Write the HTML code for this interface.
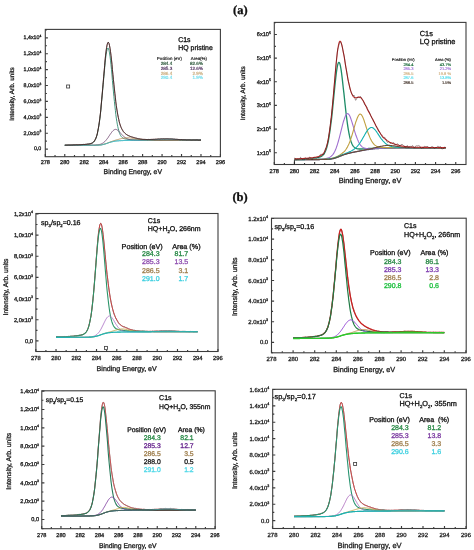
<!DOCTYPE html>
<html><head><meta charset="utf-8"><style>
html,body{margin:0;padding:0;background:#fff;width:474px;height:550px;overflow:hidden}
svg{position:absolute;left:0;top:0;filter:blur(0.35px)}
text{stroke-width:0.3px;text-rendering:geometricPrecision}
</style></head><body>
<svg width="474" height="550" viewBox="0 0 474 550">
<g><path d="M64.8,145.4 65.2,145.4 65.7,145.4 66.2,145.4 66.7,145.4 67.2,145.4 67.7,145.4 68.2,145.4 68.7,145.4 69.1,145.4 69.6,145.4 70.1,145.4 70.6,145.4 71.1,145.4 71.6,145.4 72.1,145.4 72.5,145.4 73.0,145.4 73.5,145.4 74.0,145.4 74.5,145.4 75.0,145.4 75.5,145.4 75.9,145.4 76.4,145.4 76.9,145.4 77.4,145.4 77.9,145.4 78.4,145.4 78.9,145.4 79.4,145.4 79.8,145.4 80.3,145.4 80.8,145.4 81.3,145.4 81.8,145.4 82.3,145.4 82.8,145.4 83.2,145.4 83.7,145.4 84.2,145.4 84.7,145.4 85.2,145.4 85.7,145.4 86.2,145.4 86.7,145.4 87.1,145.4 87.6,145.3 88.1,145.3 88.6,145.3 89.1,145.3 89.6,145.3 90.1,145.3 90.5,145.3 91.0,145.3 91.5,145.3 92.0,145.3 92.5,145.3 93.0,145.3 93.5,145.3 94.0,145.3 94.4,145.3 94.9,145.3 95.4,145.3 95.9,145.3 96.4,145.2 96.9,145.2 97.4,145.2 97.8,145.2 98.3,145.2 98.8,145.1 99.3,145.1 99.8,145.0 100.3,145.0 100.8,144.9 101.2,144.9 101.7,144.8 102.2,144.7 102.7,144.6 103.2,144.5 103.7,144.4 104.2,144.3 104.7,144.1 105.1,144.0 105.6,143.8 106.1,143.7 106.6,143.5 107.1,143.4 107.6,143.2 108.1,143.0 108.5,142.8 109.0,142.7 109.5,142.5 110.0,142.4 110.5,142.2 111.0,142.1 111.5,141.9 112.0,141.8 112.4,141.7 112.9,141.6 113.4,141.5 113.9,141.4 114.4,141.3 114.9,141.2 115.4,141.1 115.8,141.0 116.3,141.0 116.8,140.9 117.3,140.9 117.8,140.8 118.3,140.8 118.8,140.8 119.2,140.7 119.7,140.7 120.2,140.7 120.7,140.7 121.2,140.6 121.7,140.6 122.2,140.6 122.7,140.6 123.1,140.6 123.6,140.5 124.1,140.5 124.6,140.5 125.1,140.5 125.6,140.5 126.1,140.5 126.5,140.5 127.0,140.5 127.5,140.5 128.0,140.5 128.5,140.4 129.0,140.4 129.5,140.4 130.0,140.4 130.4,140.4 130.9,140.4 131.4,140.4 131.9,140.4 132.4,140.4 132.9,140.4 133.4,140.4 133.8,140.4 134.3,140.4 134.8,140.4 135.3,140.4 135.8,140.4 136.3,140.4 136.8,140.4 137.2,140.3 137.7,140.3 138.2,140.3 138.7,140.3 139.2,140.3 139.7,140.3 140.2,140.3 140.7,140.3 141.1,140.3 141.6,140.3 142.1,140.3 142.6,140.3 143.1,140.3 143.6,140.3 144.1,140.3 144.5,140.3 145.0,140.3 145.5,140.3 146.0,140.3 146.5,140.3 147.0,140.3 147.5,140.3 148.0,140.3 148.4,140.3 148.9,140.3 149.4,140.3 149.9,140.3 150.4,140.3 150.9,140.3 151.4,140.3 151.8,140.3 152.3,140.3 152.8,140.3 153.3,140.3 153.8,140.3 154.3,140.3 154.8,140.3 155.2,140.3 155.7,140.3 156.2,140.3 156.7,140.3 157.2,140.3 157.7,140.3 158.2,140.3 158.7,140.3 159.1,140.3 159.6,140.3 160.1,140.3 160.6,140.3 161.1,140.3 161.6,140.3 162.1,140.3 162.5,140.3 163.0,140.2 163.5,140.2 164.0,140.2 164.5,140.2 165.0,140.2 165.5,140.2 166.0,140.2 166.4,140.2 166.9,140.2 167.4,140.2 167.9,140.2 168.4,140.2 168.9,140.2 169.4,140.2 169.8,140.2 170.3,140.2 170.8,140.2 171.3,140.2 171.8,140.2 172.3,140.2 172.8,140.2 173.2,140.2 173.7,140.2 174.2,140.2 174.7,140.2 175.2,140.2 175.7,140.2 176.2,140.2 176.7,140.2 177.1,140.2 177.6,140.2 178.1,140.2 178.6,140.2 179.1,140.2 179.6,140.2 180.1,140.2 180.5,140.2 181.0,140.2 181.5,140.2 182.0,140.2 182.5,140.2 183.0,140.2 183.5,140.2 184.0,140.2 184.4,140.2 184.9,140.2 185.4,140.2 185.9,140.2 186.4,140.2 186.9,140.2 187.4,140.2 187.8,140.2 188.3,140.2 188.8,140.2 189.3,140.2 189.8,140.2 190.3,140.2 190.8,140.2 191.3,140.2 191.7,140.2 192.2,140.2 192.7,140.2 193.2,140.2 193.7,140.2 194.2,140.2 194.7,140.2 195.1,140.2 195.6,140.2 196.1,140.2 196.6,140.2 197.1,140.2 197.6,140.2 198.1,140.2 198.5,140.2 199.0,140.2 199.5,140.2 200.0,140.2 200.5,140.2 201.0,140.2" fill="none" stroke="#1a9a9a" stroke-width="0.8"/><path d="M64.8,145.2 65.2,145.2 65.7,145.1 66.2,145.1 66.7,145.1 67.2,145.1 67.7,145.1 68.2,145.1 68.7,145.1 69.1,145.1 69.6,145.1 70.1,145.1 70.6,145.1 71.1,145.1 71.6,145.1 72.1,145.0 72.5,145.0 73.0,145.0 73.5,145.0 74.0,145.0 74.5,145.0 75.0,145.0 75.5,145.0 75.9,144.9 76.4,144.9 76.9,144.9 77.4,144.9 77.9,144.9 78.4,144.9 78.9,144.9 79.4,144.8 79.8,144.8 80.3,144.8 80.8,144.8 81.3,144.8 81.8,144.7 82.3,144.7 82.8,144.7 83.2,144.7 83.7,144.6 84.2,144.6 84.7,144.6 85.2,144.5 85.7,144.5 86.2,144.4 86.7,144.4 87.1,144.4 87.6,144.3 88.1,144.2 88.6,144.2 89.1,144.1 89.6,144.0 90.1,143.9 90.5,143.8 91.0,143.7 91.5,143.5 92.0,143.3 92.5,143.0 93.0,142.7 93.5,142.3 94.0,141.8 94.4,141.2 94.9,140.4 95.4,139.5 95.9,138.4 96.4,137.1 96.9,135.6 97.4,133.7 97.8,131.5 98.3,129.0 98.8,126.1 99.3,122.9 99.8,119.2 100.3,115.2 100.8,110.7 101.2,105.9 101.7,100.8 102.2,95.5 102.7,89.9 103.2,84.3 103.7,78.7 104.2,73.1 104.7,67.8 105.1,62.9 105.6,58.5 106.1,54.7 106.6,51.7 107.1,49.5 107.6,48.3 108.1,48.0 108.5,48.7 109.0,50.4 109.5,52.9 110.0,56.2 110.5,60.2 111.0,64.8 111.5,69.7 112.0,75.0 112.4,80.3 112.9,85.8 113.4,91.1 113.9,96.4 114.4,101.4 114.9,106.1 115.4,110.4 115.8,114.4 116.3,118.1 116.8,121.3 117.3,124.2 117.8,126.7 118.3,128.9 118.8,130.7 119.2,132.3 119.7,133.6 120.2,134.7 120.7,135.7 121.2,136.4 121.7,137.0 122.2,137.5 122.7,137.9 123.1,138.2 123.6,138.5 124.1,138.7 124.6,138.8 125.1,139.0 125.6,139.1 126.1,139.2 126.5,139.2 127.0,139.3 127.5,139.3 128.0,139.4 128.5,139.4 129.0,139.5 129.5,139.5 130.0,139.5 130.4,139.6 130.9,139.6 131.4,139.6 131.9,139.7 132.4,139.7 132.9,139.7 133.4,139.7 133.8,139.7 134.3,139.8 134.8,139.8 135.3,139.8 135.8,139.8 136.3,139.8 136.8,139.8 137.2,139.8 137.7,139.9 138.2,139.9 138.7,139.9 139.2,139.9 139.7,139.9 140.2,139.9 140.7,139.9 141.1,139.9 141.6,139.9 142.1,139.9 142.6,140.0 143.1,140.0 143.6,140.0 144.1,140.0 144.5,140.0 145.0,140.0 145.5,140.0 146.0,140.0 146.5,140.0 147.0,140.0 147.5,140.0 148.0,140.0 148.4,140.0 148.9,140.0 149.4,140.0 149.9,140.0 150.4,140.1 150.9,140.1 151.4,140.1 151.8,140.1 152.3,140.1 152.8,140.1 153.3,140.1 153.8,140.1 154.3,140.1 154.8,140.1 155.2,140.1 155.7,140.1 156.2,140.1 156.7,140.1 157.2,140.1 157.7,140.1 158.2,140.1 158.7,140.1 159.1,140.1 159.6,140.1 160.1,140.1 160.6,140.1 161.1,140.1 161.6,140.1 162.1,140.1 162.5,140.1 163.0,140.1 163.5,140.1 164.0,140.1 164.5,140.1 165.0,140.1 165.5,140.1 166.0,140.1 166.4,140.1 166.9,140.1 167.4,140.1 167.9,140.1 168.4,140.1 168.9,140.1 169.4,140.1 169.8,140.1 170.3,140.1 170.8,140.1 171.3,140.1 171.8,140.1 172.3,140.1 172.8,140.1 173.2,140.1 173.7,140.1 174.2,140.1 174.7,140.1 175.2,140.1 175.7,140.1 176.2,140.1 176.7,140.1 177.1,140.1 177.6,140.1 178.1,140.1 178.6,140.1 179.1,140.1 179.6,140.1 180.1,140.1 180.5,140.1 181.0,140.1 181.5,140.1 182.0,140.1 182.5,140.1 183.0,140.1 183.5,140.1 184.0,140.1 184.4,140.1 184.9,140.1 185.4,140.1 185.9,140.1 186.4,140.1 186.9,140.1 187.4,140.1 187.8,140.1 188.3,140.1 188.8,140.1 189.3,140.1 189.8,140.1 190.3,140.1 190.8,140.1 191.3,140.1 191.7,140.1 192.2,140.1 192.7,140.1 193.2,140.1 193.7,140.1 194.2,140.1 194.7,140.1 195.1,140.1 195.6,140.1 196.1,140.1 196.6,140.1 197.1,140.1 197.6,140.1 198.1,140.1 198.5,140.1 199.0,140.1 199.5,140.1 200.0,140.1 200.5,140.1 201.0,140.1" fill="none" stroke="#2f8a70" stroke-width="0.9" stroke-linejoin="round"/><path d="M64.8,145.4 65.2,145.4 65.7,145.4 66.2,145.4 66.7,145.3 67.2,145.3 67.7,145.3 68.2,145.3 68.7,145.3 69.1,145.3 69.6,145.3 70.1,145.3 70.6,145.3 71.1,145.3 71.6,145.3 72.1,145.3 72.5,145.3 73.0,145.3 73.5,145.3 74.0,145.3 74.5,145.3 75.0,145.3 75.5,145.3 75.9,145.3 76.4,145.3 76.9,145.3 77.4,145.3 77.9,145.3 78.4,145.3 78.9,145.3 79.4,145.3 79.8,145.3 80.3,145.3 80.8,145.3 81.3,145.3 81.8,145.3 82.3,145.3 82.8,145.3 83.2,145.3 83.7,145.3 84.2,145.3 84.7,145.2 85.2,145.2 85.7,145.2 86.2,145.2 86.7,145.2 87.1,145.2 87.6,145.2 88.1,145.2 88.6,145.2 89.1,145.2 89.6,145.2 90.1,145.2 90.5,145.2 91.0,145.2 91.5,145.1 92.0,145.1 92.5,145.1 93.0,145.1 93.5,145.1 94.0,145.1 94.4,145.1 94.9,145.0 95.4,145.0 95.9,145.0 96.4,144.9 96.9,144.9 97.4,144.8 97.8,144.8 98.3,144.7 98.8,144.6 99.3,144.5 99.8,144.4 100.3,144.3 100.8,144.1 101.2,143.9 101.7,143.7 102.2,143.5 102.7,143.2 103.2,142.9 103.7,142.5 104.2,142.1 104.7,141.7 105.1,141.2 105.6,140.7 106.1,140.1 106.6,139.5 107.1,138.9 107.6,138.2 108.1,137.6 108.5,136.8 109.0,136.1 109.5,135.4 110.0,134.6 110.5,133.9 111.0,133.2 111.5,132.5 112.0,131.9 112.4,131.3 112.9,130.8 113.4,130.4 113.9,130.0 114.4,129.7 114.9,129.5 115.4,129.4 115.8,129.4 116.3,129.5 116.8,129.7 117.3,130.0 117.8,130.3 118.3,130.7 118.8,131.2 119.2,131.7 119.7,132.2 120.2,132.7 120.7,133.3 121.2,133.8 121.7,134.4 122.2,134.9 122.7,135.4 123.1,135.9 123.6,136.4 124.1,136.8 124.6,137.2 125.1,137.6 125.6,137.9 126.1,138.2 126.5,138.5 127.0,138.7 127.5,138.9 128.0,139.1 128.5,139.3 129.0,139.4 129.5,139.5 130.0,139.6 130.4,139.7 130.9,139.8 131.4,139.9 131.9,139.9 132.4,140.0 132.9,140.0 133.4,140.0 133.8,140.0 134.3,140.1 134.8,140.1 135.3,140.1 135.8,140.1 136.3,140.1 136.8,140.1 137.2,140.1 137.7,140.1 138.2,140.2 138.7,140.2 139.2,140.2 139.7,140.2 140.2,140.2 140.7,140.2 141.1,140.2 141.6,140.2 142.1,140.2 142.6,140.2 143.1,140.2 143.6,140.2 144.1,140.2 144.5,140.2 145.0,140.2 145.5,140.2 146.0,140.2 146.5,140.2 147.0,140.2 147.5,140.2 148.0,140.2 148.4,140.2 148.9,140.2 149.4,140.2 149.9,140.2 150.4,140.2 150.9,140.2 151.4,140.2 151.8,140.2 152.3,140.2 152.8,140.2 153.3,140.2 153.8,140.2 154.3,140.2 154.8,140.2 155.2,140.2 155.7,140.2 156.2,140.2 156.7,140.2 157.2,140.2 157.7,140.2 158.2,140.2 158.7,140.2 159.1,140.2 159.6,140.2 160.1,140.2 160.6,140.2 161.1,140.2 161.6,140.2 162.1,140.2 162.5,140.2 163.0,140.2 163.5,140.2 164.0,140.2 164.5,140.2 165.0,140.2 165.5,140.2 166.0,140.2 166.4,140.2 166.9,140.2 167.4,140.2 167.9,140.2 168.4,140.2 168.9,140.2 169.4,140.2 169.8,140.2 170.3,140.2 170.8,140.2 171.3,140.2 171.8,140.2 172.3,140.2 172.8,140.2 173.2,140.2 173.7,140.2 174.2,140.2 174.7,140.2 175.2,140.2 175.7,140.2 176.2,140.2 176.7,140.2 177.1,140.2 177.6,140.2 178.1,140.2 178.6,140.2 179.1,140.2 179.6,140.2 180.1,140.2 180.5,140.2 181.0,140.2 181.5,140.2 182.0,140.2 182.5,140.2 183.0,140.2 183.5,140.2 184.0,140.2 184.4,140.2 184.9,140.2 185.4,140.2 185.9,140.2 186.4,140.2 186.9,140.2 187.4,140.2 187.8,140.2 188.3,140.2 188.8,140.2 189.3,140.2 189.8,140.2 190.3,140.2 190.8,140.2 191.3,140.2 191.7,140.1 192.2,140.1 192.7,140.1 193.2,140.1 193.7,140.1 194.2,140.1 194.7,140.1 195.1,140.1 195.6,140.1 196.1,140.1 196.6,140.1 197.1,140.1 197.6,140.1 198.1,140.1 198.5,140.1 199.0,140.1 199.5,140.1 200.0,140.1 200.5,140.1 201.0,140.1" fill="none" stroke="#6a3d6a" stroke-width="0.8" stroke-linejoin="round"/><path d="M64.8,145.4 65.2,145.4 65.7,145.4 66.2,145.4 66.7,145.4 67.2,145.4 67.7,145.4 68.2,145.4 68.7,145.4 69.1,145.4 69.6,145.4 70.1,145.4 70.6,145.4 71.1,145.4 71.6,145.4 72.1,145.4 72.5,145.4 73.0,145.4 73.5,145.4 74.0,145.4 74.5,145.4 75.0,145.4 75.5,145.4 75.9,145.4 76.4,145.4 76.9,145.4 77.4,145.4 77.9,145.4 78.4,145.4 78.9,145.4 79.4,145.4 79.8,145.4 80.3,145.4 80.8,145.4 81.3,145.3 81.8,145.3 82.3,145.3 82.8,145.3 83.2,145.3 83.7,145.3 84.2,145.3 84.7,145.3 85.2,145.3 85.7,145.3 86.2,145.3 86.7,145.3 87.1,145.3 87.6,145.3 88.1,145.3 88.6,145.3 89.1,145.3 89.6,145.3 90.1,145.3 90.5,145.3 91.0,145.3 91.5,145.3 92.0,145.3 92.5,145.3 93.0,145.3 93.5,145.3 94.0,145.3 94.4,145.3 94.9,145.2 95.4,145.2 95.9,145.2 96.4,145.2 96.9,145.2 97.4,145.2 97.8,145.1 98.3,145.1 98.8,145.1 99.3,145.0 99.8,145.0 100.3,144.9 100.8,144.9 101.2,144.8 101.7,144.7 102.2,144.6 102.7,144.5 103.2,144.4 103.7,144.3 104.2,144.2 104.7,144.0 105.1,143.9 105.6,143.7 106.1,143.5 106.6,143.4 107.1,143.2 107.6,143.0 108.1,142.8 108.5,142.6 109.0,142.4 109.5,142.2 110.0,142.1 110.5,141.9 111.0,141.7 111.5,141.5 112.0,141.3 112.4,141.2 112.9,141.0 113.4,140.8 113.9,140.7 114.4,140.5 114.9,140.4 115.4,140.2 115.8,140.1 116.3,139.9 116.8,139.8 117.3,139.7 117.8,139.5 118.3,139.4 118.8,139.3 119.2,139.1 119.7,139.0 120.2,138.9 120.7,138.8 121.2,138.6 121.7,138.5 122.2,138.4 122.7,138.3 123.1,138.2 123.6,138.1 124.1,138.1 124.6,138.0 125.1,137.9 125.6,137.9 126.1,137.8 126.5,137.8 127.0,137.8 127.5,137.8 128.0,137.8 128.5,137.8 129.0,137.9 129.5,137.9 130.0,137.9 130.4,138.0 130.9,138.1 131.4,138.1 131.9,138.2 132.4,138.3 132.9,138.4 133.4,138.5 133.8,138.6 134.3,138.7 134.8,138.8 135.3,138.9 135.8,139.0 136.3,139.0 136.8,139.1 137.2,139.2 137.7,139.3 138.2,139.4 138.7,139.5 139.2,139.5 139.7,139.6 140.2,139.7 140.7,139.7 141.1,139.8 141.6,139.8 142.1,139.9 142.6,139.9 143.1,139.9 143.6,140.0 144.1,140.0 144.5,140.0 145.0,140.1 145.5,140.1 146.0,140.1 146.5,140.1 147.0,140.1 147.5,140.2 148.0,140.2 148.4,140.2 148.9,140.2 149.4,140.2 149.9,140.2 150.4,140.2 150.9,140.2 151.4,140.2 151.8,140.2 152.3,140.2 152.8,140.2 153.3,140.2 153.8,140.2 154.3,140.2 154.8,140.2 155.2,140.2 155.7,140.2 156.2,140.2 156.7,140.2 157.2,140.2 157.7,140.2 158.2,140.2 158.7,140.2 159.1,140.2 159.6,140.2 160.1,140.2 160.6,140.2 161.1,140.2 161.6,140.2 162.1,140.2 162.5,140.2 163.0,140.2 163.5,140.2 164.0,140.2 164.5,140.2 165.0,140.2 165.5,140.2 166.0,140.2 166.4,140.2 166.9,140.2 167.4,140.2 167.9,140.2 168.4,140.2 168.9,140.2 169.4,140.2 169.8,140.2 170.3,140.2 170.8,140.2 171.3,140.2 171.8,140.2 172.3,140.2 172.8,140.2 173.2,140.2 173.7,140.2 174.2,140.2 174.7,140.2 175.2,140.2 175.7,140.2 176.2,140.2 176.7,140.2 177.1,140.2 177.6,140.2 178.1,140.2 178.6,140.2 179.1,140.2 179.6,140.2 180.1,140.2 180.5,140.2 181.0,140.2 181.5,140.2 182.0,140.2 182.5,140.2 183.0,140.2 183.5,140.2 184.0,140.2 184.4,140.2 184.9,140.2 185.4,140.2 185.9,140.2 186.4,140.2 186.9,140.2 187.4,140.2 187.8,140.2 188.3,140.2 188.8,140.2 189.3,140.2 189.8,140.2 190.3,140.2 190.8,140.2 191.3,140.2 191.7,140.2 192.2,140.2 192.7,140.2 193.2,140.2 193.7,140.2 194.2,140.2 194.7,140.2 195.1,140.2 195.6,140.2 196.1,140.2 196.6,140.2 197.1,140.2 197.6,140.2 198.1,140.2 198.5,140.2 199.0,140.2 199.5,140.2 200.0,140.2 200.5,140.2 201.0,140.2" fill="none" stroke="#b08040" stroke-width="0.8" stroke-linejoin="round"/><path d="M64.8,145.4 65.2,145.4 65.7,145.4 66.2,145.4 66.7,145.4 67.2,145.4 67.7,145.4 68.2,145.4 68.7,145.4 69.1,145.4 69.6,145.4 70.1,145.4 70.6,145.4 71.1,145.4 71.6,145.4 72.1,145.4 72.5,145.4 73.0,145.4 73.5,145.4 74.0,145.4 74.5,145.4 75.0,145.4 75.5,145.4 75.9,145.4 76.4,145.4 76.9,145.4 77.4,145.4 77.9,145.4 78.4,145.4 78.9,145.4 79.4,145.4 79.8,145.4 80.3,145.4 80.8,145.4 81.3,145.4 81.8,145.4 82.3,145.4 82.8,145.4 83.2,145.4 83.7,145.4 84.2,145.4 84.7,145.4 85.2,145.4 85.7,145.4 86.2,145.3 86.7,145.3 87.1,145.3 87.6,145.3 88.1,145.3 88.6,145.3 89.1,145.3 89.6,145.3 90.1,145.3 90.5,145.3 91.0,145.3 91.5,145.3 92.0,145.3 92.5,145.3 93.0,145.3 93.5,145.3 94.0,145.3 94.4,145.3 94.9,145.3 95.4,145.3 95.9,145.3 96.4,145.2 96.9,145.2 97.4,145.2 97.8,145.2 98.3,145.2 98.8,145.1 99.3,145.1 99.8,145.0 100.3,145.0 100.8,144.9 101.2,144.9 101.7,144.8 102.2,144.7 102.7,144.6 103.2,144.5 103.7,144.4 104.2,144.3 104.7,144.1 105.1,144.0 105.6,143.8 106.1,143.7 106.6,143.5 107.1,143.3 107.6,143.2 108.1,143.0 108.5,142.8 109.0,142.7 109.5,142.5 110.0,142.3 110.5,142.2 111.0,142.0 111.5,141.9 112.0,141.8 112.4,141.7 112.9,141.5 113.4,141.4 113.9,141.3 114.4,141.3 114.9,141.2 115.4,141.1 115.8,141.0 116.3,141.0 116.8,140.9 117.3,140.9 117.8,140.8 118.3,140.8 118.8,140.8 119.2,140.7 119.7,140.7 120.2,140.7 120.7,140.6 121.2,140.6 121.7,140.6 122.2,140.6 122.7,140.6 123.1,140.5 123.6,140.5 124.1,140.5 124.6,140.5 125.1,140.5 125.6,140.5 126.1,140.5 126.5,140.5 127.0,140.4 127.5,140.4 128.0,140.4 128.5,140.4 129.0,140.4 129.5,140.4 130.0,140.4 130.4,140.4 130.9,140.4 131.4,140.4 131.9,140.4 132.4,140.4 132.9,140.3 133.4,140.3 133.8,140.3 134.3,140.3 134.8,140.3 135.3,140.3 135.8,140.3 136.3,140.3 136.8,140.3 137.2,140.3 137.7,140.3 138.2,140.3 138.7,140.3 139.2,140.3 139.7,140.3 140.2,140.2 140.7,140.2 141.1,140.2 141.6,140.2 142.1,140.2 142.6,140.2 143.1,140.2 143.6,140.2 144.1,140.2 144.5,140.1 145.0,140.1 145.5,140.1 146.0,140.1 146.5,140.1 147.0,140.1 147.5,140.0 148.0,140.0 148.4,140.0 148.9,140.0 149.4,139.9 149.9,139.9 150.4,139.9 150.9,139.9 151.4,139.8 151.8,139.8 152.3,139.8 152.8,139.7 153.3,139.7 153.8,139.7 154.3,139.6 154.8,139.6 155.2,139.6 155.7,139.5 156.2,139.5 156.7,139.5 157.2,139.4 157.7,139.4 158.2,139.4 158.7,139.3 159.1,139.3 159.6,139.3 160.1,139.2 160.6,139.2 161.1,139.2 161.6,139.1 162.1,139.1 162.5,139.1 163.0,139.1 163.5,139.1 164.0,139.0 164.5,139.0 165.0,139.0 165.5,139.0 166.0,139.0 166.4,139.0 166.9,139.0 167.4,139.0 167.9,139.0 168.4,139.0 168.9,139.0 169.4,139.1 169.8,139.1 170.3,139.1 170.8,139.1 171.3,139.1 171.8,139.2 172.3,139.2 172.8,139.2 173.2,139.3 173.7,139.3 174.2,139.3 174.7,139.3 175.2,139.4 175.7,139.4 176.2,139.4 176.7,139.5 177.1,139.5 177.6,139.5 178.1,139.6 178.6,139.6 179.1,139.6 179.6,139.7 180.1,139.7 180.5,139.7 181.0,139.7 181.5,139.8 182.0,139.8 182.5,139.8 183.0,139.8 183.5,139.9 184.0,139.9 184.4,139.9 184.9,139.9 185.4,139.9 185.9,140.0 186.4,140.0 186.9,140.0 187.4,140.0 187.8,140.0 188.3,140.0 188.8,140.0 189.3,140.0 189.8,140.0 190.3,140.1 190.8,140.1 191.3,140.1 191.7,140.1 192.2,140.1 192.7,140.1 193.2,140.1 193.7,140.1 194.2,140.1 194.7,140.1 195.1,140.1 195.6,140.1 196.1,140.1 196.6,140.1 197.1,140.1 197.6,140.1 198.1,140.1 198.5,140.1 199.0,140.1 199.5,140.1 200.0,140.1 200.5,140.1 201.0,140.1" fill="none" stroke="#40c0d0" stroke-width="0.8" stroke-linejoin="round"/><path d="M64.8,145.1 65.2,145.1 65.7,145.1 66.2,145.1 66.7,145.1 67.2,145.1 67.7,145.1 68.2,145.0 68.7,145.0 69.1,145.0 69.6,145.0 70.1,145.0 70.6,145.0 71.1,145.0 71.6,145.0 72.1,145.0 72.5,145.0 73.0,144.9 73.5,144.9 74.0,144.9 74.5,144.9 75.0,144.9 75.5,144.9 75.9,144.9 76.4,144.8 76.9,144.8 77.4,144.8 77.9,144.8 78.4,144.8 78.9,144.8 79.4,144.7 79.8,144.7 80.3,144.7 80.8,144.7 81.3,144.6 81.8,144.6 82.3,144.6 82.8,144.6 83.2,144.5 83.7,144.5 84.2,144.5 84.7,144.4 85.2,144.4 85.7,144.3 86.2,144.3 86.7,144.2 87.1,144.2 87.6,144.1 88.1,144.1 88.6,144.0 89.1,143.9 89.6,143.8 90.1,143.7 90.5,143.6 91.0,143.4 91.5,143.3 92.0,143.0 92.5,142.8 93.0,142.4 93.5,142.0 94.0,141.5 94.4,140.9 94.9,140.1 95.4,139.2 95.9,138.1 96.4,136.8 96.9,135.2 97.4,133.3 97.8,131.1 98.3,128.5 98.8,125.6 99.3,122.2 99.8,118.5 100.3,114.3 100.8,109.8 101.2,104.9 101.7,99.7 102.2,94.1 102.7,88.4 103.2,82.5 103.7,76.7 104.2,70.9 104.7,65.3 105.1,60.0 105.6,55.2 106.1,51.0 106.6,47.5 107.1,44.9 107.6,43.1 108.1,42.3 108.5,42.5 109.0,43.5 109.5,45.5 110.0,48.2 110.5,51.6 111.0,55.5 111.5,59.9 112.0,64.6 112.4,69.5 112.9,74.4 113.4,79.4 113.9,84.3 114.4,89.0 114.9,93.6 115.4,97.8 115.8,101.8 116.3,105.6 116.8,109.0 117.3,112.1 117.8,114.9 118.3,117.4 118.8,119.6 119.2,121.7 119.7,123.4 120.2,125.0 120.7,126.4 121.2,127.6 121.7,128.7 122.2,129.6 122.7,130.5 123.1,131.2 123.6,131.9 124.1,132.4 124.6,133.0 125.1,133.4 125.6,133.8 126.1,134.2 126.5,134.6 127.0,134.9 127.5,135.1 128.0,135.4 128.5,135.6 129.0,135.9 129.5,136.1 130.0,136.3 130.4,136.5 130.9,136.6 131.4,136.8 131.9,137.0 132.4,137.1 132.9,137.3 133.4,137.4 133.8,137.6 134.3,137.7 134.8,137.8 135.3,138.0 135.8,138.1 136.3,138.2 136.8,138.3 137.2,138.4 137.7,138.5 138.2,138.6 138.7,138.7 139.2,138.8 139.7,138.9 140.2,139.0 140.7,139.0 141.1,139.1 141.6,139.2 142.1,139.2 142.6,139.3 143.1,139.3 143.6,139.4 144.1,139.4 144.5,139.4 145.0,139.4 145.5,139.5 146.0,139.5 146.5,139.5 147.0,139.5 147.5,139.5 148.0,139.5 148.4,139.5 148.9,139.5 149.4,139.5 149.9,139.5 150.4,139.5 150.9,139.5 151.4,139.4 151.8,139.4 152.3,139.4 152.8,139.4 153.3,139.4 153.8,139.3 154.3,139.3 154.8,139.3 155.2,139.2 155.7,139.2 156.2,139.2 156.7,139.2 157.2,139.1 157.7,139.1 158.2,139.1 158.7,139.0 159.1,139.0 159.6,139.0 160.1,139.0 160.6,138.9 161.1,138.9 161.6,138.9 162.1,138.9 162.5,138.9 163.0,138.8 163.5,138.8 164.0,138.8 164.5,138.8 165.0,138.8 165.5,138.8 166.0,138.8 166.4,138.8 166.9,138.8 167.4,138.8 167.9,138.8 168.4,138.8 168.9,138.9 169.4,138.9 169.8,138.9 170.3,138.9 170.8,138.9 171.3,139.0 171.8,139.0 172.3,139.0 172.8,139.1 173.2,139.1 173.7,139.1 174.2,139.2 174.7,139.2 175.2,139.2 175.7,139.3 176.2,139.3 176.7,139.3 177.1,139.4 177.6,139.4 178.1,139.4 178.6,139.5 179.1,139.5 179.6,139.5 180.1,139.6 180.5,139.6 181.0,139.6 181.5,139.6 182.0,139.7 182.5,139.7 183.0,139.7 183.5,139.7 184.0,139.8 184.4,139.8 184.9,139.8 185.4,139.8 185.9,139.8 186.4,139.9 186.9,139.9 187.4,139.9 187.8,139.9 188.3,139.9 188.8,139.9 189.3,139.9 189.8,140.0 190.3,140.0 190.8,140.0 191.3,140.0 191.7,140.0 192.2,140.0 192.7,140.0 193.2,140.0 193.7,140.0 194.2,140.0 194.7,140.0 195.1,140.0 195.6,140.0 196.1,140.0 196.6,140.0 197.1,140.0 197.6,140.0 198.1,140.0 198.5,140.0 199.0,140.1 199.5,140.1 200.0,140.1 200.5,140.1 201.0,140.1" fill="none" stroke="#7a2a2a" stroke-width="0.8"/><path d="M64.8,145.1 65.2,145.1 65.7,145.2 66.2,145.1 66.7,145.2 67.2,145.1 67.7,145.1 68.2,145.0 68.7,145.1 69.1,145.0 69.6,145.1 70.1,145.0 70.6,145.1 71.1,145.0 71.6,145.0 72.1,145.0 72.5,145.0 73.0,145.0 73.5,144.9 74.0,144.9 74.5,144.9 75.0,144.9 75.5,144.8 75.9,144.8 76.4,144.8 76.9,144.8 77.4,144.9 77.9,144.8 78.4,144.8 78.9,144.8 79.4,144.8 79.8,144.8 80.3,144.8 80.8,144.8 81.3,144.7 81.8,144.7 82.3,144.6 82.8,144.5 83.2,144.4 83.7,144.4 84.2,144.5 84.7,144.5 85.2,144.4 85.7,144.3 86.2,144.3 86.7,144.3 87.1,144.1 87.6,144.0 88.1,144.0 88.6,144.0 89.1,143.9 89.6,143.9 90.1,143.8 90.5,143.7 91.0,143.4 91.5,143.2 92.0,143.0 92.5,142.7 93.0,142.4 93.5,142.0 94.0,141.5 94.4,140.9 94.9,140.1 95.4,139.2 95.9,138.1 96.4,136.7 96.9,135.1 97.4,133.1 97.8,131.0 98.3,128.5 98.8,125.7 99.3,122.3 99.8,118.5 100.3,114.3 100.8,109.8 101.2,105.0 101.7,99.7 102.2,94.1 102.7,88.3 103.2,82.5 103.7,76.7 104.2,70.9 104.7,65.3 105.1,60.0 105.6,55.2 106.1,51.0 106.6,47.5 107.1,44.9 107.6,43.1 108.1,42.2 108.5,42.4 109.0,43.5 109.5,45.5 110.0,48.2 110.5,51.6 111.0,55.5 111.5,59.9 112.0,64.6 112.4,69.5 112.9,74.5 113.4,79.4 113.9,84.3 114.4,88.9 114.9,93.6 115.4,97.9 115.8,101.9 116.3,105.6 116.8,109.0 117.3,112.1 117.8,114.9 118.3,117.4 118.8,119.7 119.2,121.6 119.7,123.4 120.2,125.1 120.7,126.4 121.2,127.7 121.7,128.7 122.2,129.6 122.7,130.4 123.1,131.2 123.6,131.8 124.1,132.3 124.6,132.9 125.1,133.4 125.6,133.8 126.1,134.1 126.5,134.5 127.0,134.9 127.5,135.2 128.0,135.4 128.5,135.7 129.0,135.9 129.5,136.1 130.0,136.2 130.4,136.4 130.9,136.7 131.4,136.8 131.9,137.0 132.4,137.1 132.9,137.3 133.4,137.4 133.8,137.5 134.3,137.6 134.8,137.8 135.3,137.9 135.8,138.1 136.3,138.2 136.8,138.3 137.2,138.4 137.7,138.6 138.2,138.7 138.7,138.7 139.2,138.7 139.7,138.8 140.2,139.0 140.7,139.1 141.1,139.1 141.6,139.2 142.1,139.3 142.6,139.4 143.1,139.4 143.6,139.4 144.1,139.4 144.5,139.4 145.0,139.4 145.5,139.4 146.0,139.3 146.5,139.5 147.0,139.5 147.5,139.6 148.0,139.4 148.4,139.4 148.9,139.4 149.4,139.5 149.9,139.4 150.4,139.4 150.9,139.4 151.4,139.4 151.8,139.5 152.3,139.4 152.8,139.4 153.3,139.3 153.8,139.3 154.3,139.3 154.8,139.3 155.2,139.2 155.7,139.2 156.2,139.2 156.7,139.1 157.2,139.1 157.7,139.0 158.2,138.9 158.7,138.9 159.1,139.0 159.6,139.0 160.1,139.0 160.6,138.9 161.1,138.8 161.6,138.8 162.1,138.8 162.5,138.9 163.0,138.8 163.5,138.8 164.0,138.9 164.5,139.0 165.0,139.0 165.5,138.9 166.0,138.8 166.4,138.8 166.9,138.8 167.4,138.8 167.9,138.9 168.4,138.9 168.9,138.9 169.4,138.9 169.8,138.9 170.3,138.9 170.8,138.9 171.3,138.8 171.8,138.9 172.3,138.9 172.8,139.0 173.2,139.1 173.7,139.1 174.2,139.1 174.7,139.1 175.2,139.3 175.7,139.3 176.2,139.3 176.7,139.3 177.1,139.3 177.6,139.3 178.1,139.3 178.6,139.5 179.1,139.6 179.6,139.7 180.1,139.7 180.5,139.7 181.0,139.7 181.5,139.6 182.0,139.7 182.5,139.8 183.0,139.8 183.5,139.8 184.0,139.8 184.4,139.8 184.9,139.7 185.4,139.8 185.9,139.8 186.4,139.9 186.9,140.0 187.4,139.9 187.8,139.9 188.3,139.9 188.8,139.9 189.3,139.9 189.8,139.8 190.3,139.9 190.8,140.0 191.3,140.1 191.7,140.0 192.2,140.0 192.7,140.0 193.2,140.0 193.7,139.9 194.2,139.9 194.7,140.0 195.1,140.0 195.6,140.0 196.1,140.0 196.6,139.9 197.1,139.9 197.6,140.0 198.1,140.1 198.5,140.2 199.0,140.1 199.5,140.1 200.0,140.0 200.5,140.0 201.0,140.0" fill="none" stroke="#1a1a1a" stroke-width="0.7" opacity="0.85"/></g>
<rect x="45.3" y="29.4" width="175.1" height="127.3" fill="none" stroke="#3c3c3c" stroke-width="1.1"/>
<path d="M45.30,156.70 V154.10 M55.03,156.70 V155.10 M64.76,156.70 V154.10 M74.49,156.70 V155.10 M84.22,156.70 V154.10 M93.95,156.70 V155.10 M103.68,156.70 V154.10 M113.41,156.70 V155.10 M123.14,156.70 V154.10 M132.87,156.70 V155.10 M142.60,156.70 V154.10 M152.33,156.70 V155.10 M162.06,156.70 V154.10 M171.79,156.70 V155.10 M181.52,156.70 V154.10 M191.25,156.70 V155.10 M200.98,156.70 V154.10 M210.71,156.70 V155.10 M220.44,156.70 V154.10 M45.30,149.10 H47.90 M45.30,133.20 H47.90 M45.30,117.30 H47.90 M45.30,101.40 H47.90 M45.30,85.50 H47.90 M45.30,69.60 H47.90 M45.30,53.70 H47.90 M45.30,37.80 H47.90 M45.30,141.15 H46.90 M45.30,125.25 H46.90 M45.30,109.35 H46.90 M45.30,93.45 H46.90 M45.30,77.55 H46.90 M45.30,61.65 H46.90 M45.30,45.75 H46.90 M45.30,29.85 H46.90" stroke="#3c3c3c" stroke-width="1.15" fill="none"/>
<text x="45.3" y="163.8" font-size="5.6" text-anchor="middle" fill="#222" stroke="#222" font-weight="normal" font-family="Liberation Sans" >278</text>
<text x="64.76" y="163.8" font-size="5.6" text-anchor="middle" fill="#222" stroke="#222" font-weight="normal" font-family="Liberation Sans" >280</text>
<text x="84.22" y="163.8" font-size="5.6" text-anchor="middle" fill="#222" stroke="#222" font-weight="normal" font-family="Liberation Sans" >282</text>
<text x="103.68" y="163.8" font-size="5.6" text-anchor="middle" fill="#222" stroke="#222" font-weight="normal" font-family="Liberation Sans" >284</text>
<text x="123.14" y="163.8" font-size="5.6" text-anchor="middle" fill="#222" stroke="#222" font-weight="normal" font-family="Liberation Sans" >286</text>
<text x="142.6" y="163.8" font-size="5.6" text-anchor="middle" fill="#222" stroke="#222" font-weight="normal" font-family="Liberation Sans" >288</text>
<text x="162.06" y="163.8" font-size="5.6" text-anchor="middle" fill="#222" stroke="#222" font-weight="normal" font-family="Liberation Sans" >290</text>
<text x="181.52" y="163.8" font-size="5.6" text-anchor="middle" fill="#222" stroke="#222" font-weight="normal" font-family="Liberation Sans" >292</text>
<text x="200.98" y="163.8" font-size="5.6" text-anchor="middle" fill="#222" stroke="#222" font-weight="normal" font-family="Liberation Sans" >294</text>
<text x="220.44" y="163.8" font-size="5.6" text-anchor="middle" fill="#222" stroke="#222" font-weight="normal" font-family="Liberation Sans" >296</text>
<text x="41.3" y="150.45" font-size="5.3" text-anchor="end" fill="#222" stroke="#222" font-weight="normal" font-family="Liberation Sans" >0,0</text>
<text x="41.3" y="134.55" font-size="5.3" text-anchor="end" fill="#222" stroke="#222" font-family="Liberation Sans">2,0x10<tspan font-size="3.29" dy="-2.23">3</tspan></text>
<text x="41.3" y="118.66" font-size="5.3" text-anchor="end" fill="#222" stroke="#222" font-family="Liberation Sans">4,0x10<tspan font-size="3.29" dy="-2.23">3</tspan></text>
<text x="41.3" y="102.75" font-size="5.3" text-anchor="end" fill="#222" stroke="#222" font-family="Liberation Sans">6,0x10<tspan font-size="3.29" dy="-2.23">3</tspan></text>
<text x="41.3" y="86.86" font-size="5.3" text-anchor="end" fill="#222" stroke="#222" font-family="Liberation Sans">8,0x10<tspan font-size="3.29" dy="-2.23">3</tspan></text>
<text x="41.3" y="70.95" font-size="5.3" text-anchor="end" fill="#222" stroke="#222" font-family="Liberation Sans">1,0x10<tspan font-size="3.29" dy="-2.23">4</tspan></text>
<text x="41.3" y="55.05" font-size="5.3" text-anchor="end" fill="#222" stroke="#222" font-family="Liberation Sans">1,2x10<tspan font-size="3.29" dy="-2.23">4</tspan></text>
<text x="41.3" y="39.15" font-size="5.3" text-anchor="end" fill="#222" stroke="#222" font-family="Liberation Sans">1,4x10<tspan font-size="3.29" dy="-2.23">4</tspan></text>
<text x="132.8" y="174.2" font-size="6.9" text-anchor="middle" fill="#222" stroke="#222" font-weight="normal" font-family="Liberation Sans" >Binding Energy, eV</text>
<text x="0" y="0" font-size="6.4" text-anchor="middle" fill="#222" stroke="#222" font-weight="normal" font-family="Liberation Sans" transform="translate(13.8,94) rotate(-90)">Intensity, Arb. units</text>
<text x="178.3" y="42.4" font-size="6.9" font-family="Liberation Sans" fill="#111" stroke="#111">C1s</text>
<text x="178.3" y="49.8" font-size="6.9" font-family="Liberation Sans" fill="#111" stroke="#111">HQ pristine</text>
<text x="156.8" y="60" font-size="4.4" font-family="Liberation Sans" fill="#111" stroke="#111" font-weight="normal" style="stroke-width:0.15px">Position (eV)</text>
<text x="190.8" y="60" font-size="4.4" font-family="Liberation Sans" fill="#111" stroke="#111" font-weight="normal" style="stroke-width:0.15px">Area(%)</text>
<text x="172.2" y="65.1" font-size="4.6" font-family="Liberation Sans" fill="#1a4a2a" stroke="#1a4a2a" text-anchor="end" font-weight="normal" style="stroke-width:0.15px">284.4</text>
<text x="203" y="65.1" font-size="4.6" font-family="Liberation Sans" fill="#1a4a2a" stroke="#1a4a2a" text-anchor="end" font-weight="normal" style="stroke-width:0.15px">82.6%</text>
<text x="172.2" y="69.85" font-size="4.6" font-family="Liberation Sans" fill="#4a2a5a" stroke="#4a2a5a" text-anchor="end" font-weight="normal" style="stroke-width:0.15px">285.3</text>
<text x="203" y="69.85" font-size="4.6" font-family="Liberation Sans" fill="#4a2a5a" stroke="#4a2a5a" text-anchor="end" font-weight="normal" style="stroke-width:0.15px">12.6%</text>
<text x="172.2" y="74.6" font-size="4.6" font-family="Liberation Sans" fill="#c8a878" stroke="#c8a878" text-anchor="end" font-weight="normal" style="stroke-width:0.15px">286.4</text>
<text x="203" y="74.6" font-size="4.6" font-family="Liberation Sans" fill="#c8a878" stroke="#c8a878" text-anchor="end" font-weight="normal" style="stroke-width:0.15px">2.9%</text>
<text x="172.2" y="79.35" font-size="4.6" font-family="Liberation Sans" fill="#70dcec" stroke="#70dcec" text-anchor="end" font-weight="normal" style="stroke-width:0.15px">290.4</text>
<text x="203" y="79.35" font-size="4.6" font-family="Liberation Sans" fill="#70dcec" stroke="#70dcec" text-anchor="end" font-weight="normal" style="stroke-width:0.15px">1.9%</text>
<rect x="66.6" y="85" width="3" height="3" fill="none" stroke="#444" stroke-width="0.85"/>
<g><path d="M294.5,159.7 295.0,159.7 295.5,159.7 296.0,159.7 296.5,159.7 297.0,159.7 297.5,159.7 298.0,159.7 298.5,159.7 299.0,159.7 299.5,159.7 300.0,159.7 300.5,159.7 301.0,159.7 301.5,159.7 302.0,159.7 302.5,159.7 303.0,159.7 303.5,159.7 304.0,159.7 304.5,159.7 305.0,159.7 305.5,159.7 306.1,159.7 306.6,159.7 307.1,159.7 307.6,159.7 308.1,159.6 308.6,159.6 309.1,159.6 309.6,159.6 310.1,159.6 310.6,159.6 311.1,159.6 311.6,159.6 312.1,159.6 312.6,159.6 313.1,159.6 313.6,159.6 314.1,159.6 314.6,159.6 315.1,159.6 315.6,159.6 316.1,159.6 316.6,159.6 317.1,159.6 317.6,159.6 318.1,159.6 318.7,159.6 319.2,159.6 319.7,159.6 320.2,159.5 320.7,159.5 321.2,159.5 321.7,159.5 322.2,159.5 322.7,159.5 323.2,159.5 323.7,159.5 324.2,159.5 324.7,159.5 325.2,159.4 325.7,159.4 326.2,159.4 326.7,159.4 327.2,159.3 327.7,159.3 328.2,159.3 328.7,159.2 329.2,159.2 329.7,159.1 330.2,159.1 330.7,159.0 331.3,158.9 331.8,158.9 332.3,158.8 332.8,158.7 333.3,158.6 333.8,158.4 334.3,158.3 334.8,158.2 335.3,158.0 335.8,157.8 336.3,157.7 336.8,157.5 337.3,157.3 337.8,157.1 338.3,156.9 338.8,156.7 339.3,156.5 339.8,156.3 340.3,156.1 340.8,155.9 341.3,155.7 341.8,155.5 342.3,155.3 342.8,155.1 343.3,154.9 343.9,154.7 344.4,154.5 344.9,154.4 345.4,154.2 345.9,154.1 346.4,153.9 346.9,153.8 347.4,153.6 347.9,153.5 348.4,153.4 348.9,153.2 349.4,153.1 349.9,153.0 350.4,152.9 350.9,152.8 351.4,152.7 351.9,152.6 352.4,152.5 352.9,152.3 353.4,152.2 353.9,152.1 354.4,152.1 354.9,152.0 355.4,151.9 355.9,151.8 356.5,151.7 357.0,151.6 357.5,151.5 358.0,151.4 358.5,151.3 359.0,151.2 359.5,151.1 360.0,151.0 360.5,150.9 361.0,150.8 361.5,150.7 362.0,150.6 362.5,150.5 363.0,150.4 363.5,150.3 364.0,150.2 364.5,150.2 365.0,150.1 365.5,150.0 366.0,149.9 366.5,149.8 367.0,149.8 367.5,149.7 368.0,149.6 368.5,149.6 369.1,149.5 369.6,149.4 370.1,149.4 370.6,149.3 371.1,149.2 371.6,149.2 372.1,149.1 372.6,149.1 373.1,149.0 373.6,149.0 374.1,148.9 374.6,148.9 375.1,148.8 375.6,148.8 376.1,148.7 376.6,148.7 377.1,148.7 377.6,148.6 378.1,148.6 378.6,148.6 379.1,148.5 379.6,148.5 380.1,148.5 380.6,148.4 381.1,148.4 381.7,148.4 382.2,148.4 382.7,148.4 383.2,148.3 383.7,148.3 384.2,148.3 384.7,148.3 385.2,148.3 385.7,148.2 386.2,148.2 386.7,148.2 387.2,148.2 387.7,148.2 388.2,148.2 388.7,148.2 389.2,148.2 389.7,148.1 390.2,148.1 390.7,148.1 391.2,148.1 391.7,148.1 392.2,148.1 392.7,148.1 393.2,148.1 393.7,148.1 394.3,148.1 394.8,148.1 395.3,148.1 395.8,148.0 396.3,148.0 396.8,148.0 397.3,148.0 397.8,148.0 398.3,148.0 398.8,148.0 399.3,148.0 399.8,148.0 400.3,148.0 400.8,148.0 401.3,148.0 401.8,148.0 402.3,148.0 402.8,148.0 403.3,148.0 403.8,148.0 404.3,148.0 404.8,148.0 405.3,148.0 405.8,148.0 406.3,148.0 406.9,148.0 407.4,148.0 407.9,148.0 408.4,148.0 408.9,148.0 409.4,148.0 409.9,148.0 410.4,147.9 410.9,147.9 411.4,147.9 411.9,147.9 412.4,147.9 412.9,147.9 413.4,147.9 413.9,147.9 414.4,147.9 414.9,147.9 415.4,147.9 415.9,147.9 416.4,147.9 416.9,147.9 417.4,147.9 417.9,147.9 418.4,147.9 418.9,147.9 419.5,147.9 420.0,147.9 420.5,147.9 421.0,147.9 421.5,147.9 422.0,147.9 422.5,147.9 423.0,147.9 423.5,147.9 424.0,147.9 424.5,147.9 425.0,147.9 425.5,147.9 426.0,147.9 426.5,147.9 427.0,147.9 427.5,147.9 428.0,147.9 428.5,147.9 429.0,147.9 429.5,147.9 430.0,147.9 430.5,147.9 431.0,147.9 431.5,147.9 432.1,147.9 432.6,147.9 433.1,147.9 433.6,147.9 434.1,147.9 434.6,147.9 435.1,147.9 435.6,147.9 436.1,147.9 436.6,147.9 437.1,147.9 437.6,147.9 438.1,147.9 438.6,147.9 439.1,147.9 439.6,147.9 440.1,147.9 440.6,147.9 441.1,147.9 441.6,147.9 442.1,147.9 442.6,147.9 443.1,147.9 443.6,147.9 444.1,147.9 444.7,147.9 445.2,147.9 445.7,147.9" fill="none" stroke="#4a4a7a" stroke-width="1.1"/><path d="M294.5,159.2 295.0,159.2 295.5,159.2 296.0,159.2 296.5,159.2 297.0,159.2 297.5,159.2 298.0,159.1 298.5,159.1 299.0,159.1 299.5,159.1 300.0,159.1 300.5,159.1 301.0,159.0 301.5,159.0 302.0,159.0 302.5,159.0 303.0,159.0 303.5,158.9 304.0,158.9 304.5,158.9 305.0,158.9 305.5,158.8 306.1,158.8 306.6,158.8 307.1,158.8 307.6,158.7 308.1,158.7 308.6,158.7 309.1,158.6 309.6,158.6 310.1,158.6 310.6,158.5 311.1,158.5 311.6,158.4 312.1,158.4 312.6,158.3 313.1,158.3 313.6,158.2 314.1,158.2 314.6,158.1 315.1,158.0 315.6,158.0 316.1,157.9 316.6,157.8 317.1,157.7 317.6,157.6 318.1,157.5 318.7,157.4 319.2,157.2 319.7,157.1 320.2,156.9 320.7,156.7 321.2,156.4 321.7,156.1 322.2,155.8 322.7,155.4 323.2,154.9 323.7,154.3 324.2,153.6 324.7,152.7 325.2,151.8 325.7,150.6 326.2,149.3 326.7,147.7 327.2,145.9 327.7,143.9 328.2,141.6 328.7,138.9 329.2,136.0 329.7,132.7 330.2,129.1 330.7,125.2 331.3,121.0 331.8,116.6 332.3,111.9 332.8,107.0 333.3,101.9 333.8,96.8 334.3,91.7 334.8,86.7 335.3,81.9 335.8,77.4 336.3,73.2 336.8,69.6 337.3,66.7 337.8,64.4 338.3,62.9 338.8,62.3 339.3,62.5 339.8,63.6 340.3,65.4 340.8,68.0 341.3,71.2 341.8,75.0 342.3,79.2 342.8,83.6 343.3,88.3 343.9,93.1 344.4,97.9 344.9,102.7 345.4,107.3 345.9,111.8 346.4,116.0 346.9,120.0 347.4,123.7 347.9,127.1 348.4,130.1 348.9,132.9 349.4,135.4 349.9,137.6 350.4,139.5 350.9,141.1 351.4,142.6 351.9,143.8 352.4,144.8 352.9,145.6 353.4,146.3 353.9,146.9 354.4,147.4 354.9,147.8 355.4,148.1 355.9,148.4 356.5,148.5 357.0,148.7 357.5,148.8 358.0,148.9 358.5,148.9 359.0,149.0 359.5,149.0 360.0,149.0 360.5,149.0 361.0,149.0 361.5,149.0 362.0,149.0 362.5,148.9 363.0,148.9 363.5,148.9 364.0,148.8 364.5,148.8 365.0,148.8 365.5,148.7 366.0,148.7 366.5,148.7 367.0,148.6 367.5,148.6 368.0,148.6 368.5,148.5 369.1,148.5 369.6,148.5 370.1,148.4 370.6,148.4 371.1,148.4 371.6,148.3 372.1,148.3 372.6,148.3 373.1,148.2 373.6,148.2 374.1,148.2 374.6,148.2 375.1,148.1 375.6,148.1 376.1,148.1 376.6,148.1 377.1,148.0 377.6,148.0 378.1,148.0 378.6,148.0 379.1,148.0 379.6,148.0 380.1,147.9 380.6,147.9 381.1,147.9 381.7,147.9 382.2,147.9 382.7,147.9 383.2,147.9 383.7,147.9 384.2,147.8 384.7,147.8 385.2,147.8 385.7,147.8 386.2,147.8 386.7,147.8 387.2,147.8 387.7,147.8 388.2,147.8 388.7,147.8 389.2,147.8 389.7,147.8 390.2,147.8 390.7,147.8 391.2,147.8 391.7,147.8 392.2,147.8 392.7,147.8 393.2,147.8 393.7,147.8 394.3,147.8 394.8,147.8 395.3,147.8 395.8,147.8 396.3,147.8 396.8,147.8 397.3,147.8 397.8,147.8 398.3,147.8 398.8,147.8 399.3,147.8 399.8,147.8 400.3,147.8 400.8,147.8 401.3,147.8 401.8,147.8 402.3,147.8 402.8,147.8 403.3,147.8 403.8,147.8 404.3,147.8 404.8,147.8 405.3,147.8 405.8,147.8 406.3,147.8 406.9,147.8 407.4,147.8 407.9,147.8 408.4,147.8 408.9,147.8 409.4,147.8 409.9,147.8 410.4,147.8 410.9,147.8 411.4,147.8 411.9,147.8 412.4,147.8 412.9,147.8 413.4,147.8 413.9,147.8 414.4,147.8 414.9,147.8 415.4,147.8 415.9,147.8 416.4,147.8 416.9,147.8 417.4,147.8 417.9,147.8 418.4,147.8 418.9,147.8 419.5,147.8 420.0,147.8 420.5,147.8 421.0,147.8 421.5,147.8 422.0,147.8 422.5,147.8 423.0,147.8 423.5,147.8 424.0,147.8 424.5,147.8 425.0,147.8 425.5,147.8 426.0,147.8 426.5,147.8 427.0,147.8 427.5,147.8 428.0,147.8 428.5,147.8 429.0,147.8 429.5,147.8 430.0,147.8 430.5,147.8 431.0,147.8 431.5,147.8 432.1,147.8 432.6,147.8 433.1,147.8 433.6,147.8 434.1,147.8 434.6,147.8 435.1,147.8 435.6,147.8 436.1,147.8 436.6,147.8 437.1,147.8 437.6,147.8 438.1,147.8 438.6,147.8 439.1,147.8 439.6,147.8 440.1,147.8 440.6,147.8 441.1,147.8 441.6,147.8 442.1,147.8 442.6,147.8 443.1,147.8 443.6,147.8 444.1,147.8 444.7,147.8 445.2,147.8 445.7,147.8" fill="none" stroke="#1e8c68" stroke-width="1.32" stroke-linejoin="round"/><path d="M294.5,159.6 295.0,159.6 295.5,159.6 296.0,159.6 296.5,159.6 297.0,159.5 297.5,159.5 298.0,159.5 298.5,159.5 299.0,159.5 299.5,159.5 300.0,159.5 300.5,159.5 301.0,159.5 301.5,159.5 302.0,159.5 302.5,159.5 303.0,159.5 303.5,159.5 304.0,159.5 304.5,159.5 305.0,159.5 305.5,159.5 306.1,159.4 306.6,159.4 307.1,159.4 307.6,159.4 308.1,159.4 308.6,159.4 309.1,159.4 309.6,159.4 310.1,159.4 310.6,159.4 311.1,159.4 311.6,159.3 312.1,159.3 312.6,159.3 313.1,159.3 313.6,159.3 314.1,159.3 314.6,159.3 315.1,159.3 315.6,159.2 316.1,159.2 316.6,159.2 317.1,159.2 317.6,159.2 318.1,159.2 318.7,159.1 319.2,159.1 319.7,159.1 320.2,159.1 320.7,159.0 321.2,159.0 321.7,159.0 322.2,158.9 322.7,158.9 323.2,158.9 323.7,158.8 324.2,158.8 324.7,158.7 325.2,158.6 325.7,158.6 326.2,158.5 326.7,158.4 327.2,158.3 327.7,158.1 328.2,158.0 328.7,157.8 329.2,157.5 329.7,157.3 330.2,157.0 330.7,156.6 331.3,156.2 331.8,155.7 332.3,155.2 332.8,154.6 333.3,153.9 333.8,153.1 334.3,152.3 334.8,151.3 335.3,150.2 335.8,149.0 336.3,147.7 336.8,146.3 337.3,144.8 337.8,143.2 338.3,141.5 338.8,139.7 339.3,137.8 339.8,135.9 340.3,133.9 340.8,131.8 341.3,129.8 341.8,127.8 342.3,125.8 342.8,123.8 343.3,122.0 343.9,120.3 344.4,118.7 344.9,117.3 345.4,116.1 345.9,115.1 346.4,114.3 346.9,113.9 347.4,113.6 347.9,113.7 348.4,114.0 348.9,114.5 349.4,115.3 349.9,116.3 350.4,117.5 350.9,118.8 351.4,120.3 351.9,121.9 352.4,123.5 352.9,125.2 353.4,126.9 353.9,128.7 354.4,130.4 354.9,132.1 355.4,133.7 355.9,135.3 356.5,136.7 357.0,138.1 357.5,139.4 358.0,140.6 358.5,141.7 359.0,142.7 359.5,143.6 360.0,144.4 360.5,145.1 361.0,145.7 361.5,146.2 362.0,146.7 362.5,147.1 363.0,147.4 363.5,147.7 364.0,147.9 364.5,148.1 365.0,148.3 365.5,148.4 366.0,148.5 366.5,148.6 367.0,148.6 367.5,148.6 368.0,148.7 368.5,148.7 369.1,148.7 369.6,148.6 370.1,148.6 370.6,148.6 371.1,148.6 371.6,148.6 372.1,148.5 372.6,148.5 373.1,148.5 373.6,148.5 374.1,148.4 374.6,148.4 375.1,148.4 375.6,148.3 376.1,148.3 376.6,148.3 377.1,148.3 377.6,148.2 378.1,148.2 378.6,148.2 379.1,148.2 379.6,148.2 380.1,148.1 380.6,148.1 381.1,148.1 381.7,148.1 382.2,148.1 382.7,148.1 383.2,148.1 383.7,148.0 384.2,148.0 384.7,148.0 385.2,148.0 385.7,148.0 386.2,148.0 386.7,148.0 387.2,148.0 387.7,148.0 388.2,148.0 388.7,148.0 389.2,147.9 389.7,147.9 390.2,147.9 390.7,147.9 391.2,147.9 391.7,147.9 392.2,147.9 392.7,147.9 393.2,147.9 393.7,147.9 394.3,147.9 394.8,147.9 395.3,147.9 395.8,147.9 396.3,147.9 396.8,147.9 397.3,147.9 397.8,147.9 398.3,147.9 398.8,147.9 399.3,147.9 399.8,147.9 400.3,147.9 400.8,147.9 401.3,147.9 401.8,147.9 402.3,147.9 402.8,147.9 403.3,147.9 403.8,147.9 404.3,147.9 404.8,147.9 405.3,147.9 405.8,147.9 406.3,147.9 406.9,147.9 407.4,147.9 407.9,147.9 408.4,147.9 408.9,147.9 409.4,147.9 409.9,147.9 410.4,147.9 410.9,147.9 411.4,147.9 411.9,147.9 412.4,147.9 412.9,147.9 413.4,147.9 413.9,147.9 414.4,147.9 414.9,147.9 415.4,147.9 415.9,147.9 416.4,147.9 416.9,147.9 417.4,147.9 417.9,147.9 418.4,147.9 418.9,147.9 419.5,147.9 420.0,147.9 420.5,147.9 421.0,147.9 421.5,147.9 422.0,147.9 422.5,147.9 423.0,147.9 423.5,147.9 424.0,147.9 424.5,147.9 425.0,147.9 425.5,147.9 426.0,147.9 426.5,147.9 427.0,147.9 427.5,147.9 428.0,147.9 428.5,147.9 429.0,147.9 429.5,147.9 430.0,147.9 430.5,147.9 431.0,147.9 431.5,147.9 432.1,147.9 432.6,147.9 433.1,147.9 433.6,147.9 434.1,147.9 434.6,147.9 435.1,147.9 435.6,147.9 436.1,147.9 436.6,147.8 437.1,147.8 437.6,147.8 438.1,147.8 438.6,147.8 439.1,147.8 439.6,147.8 440.1,147.8 440.6,147.8 441.1,147.8 441.6,147.8 442.1,147.8 442.6,147.8 443.1,147.8 443.6,147.8 444.1,147.8 444.7,147.8 445.2,147.8 445.7,147.8" fill="none" stroke="#a070d0" stroke-width="1.1" stroke-linejoin="round"/><path d="M294.5,159.6 295.0,159.6 295.5,159.6 296.0,159.6 296.5,159.6 297.0,159.6 297.5,159.6 298.0,159.6 298.5,159.6 299.0,159.6 299.5,159.6 300.0,159.5 300.5,159.5 301.0,159.5 301.5,159.5 302.0,159.5 302.5,159.5 303.0,159.5 303.5,159.5 304.0,159.5 304.5,159.5 305.0,159.5 305.5,159.5 306.1,159.5 306.6,159.5 307.1,159.5 307.6,159.5 308.1,159.5 308.6,159.5 309.1,159.5 309.6,159.4 310.1,159.4 310.6,159.4 311.1,159.4 311.6,159.4 312.1,159.4 312.6,159.4 313.1,159.4 313.6,159.4 314.1,159.4 314.6,159.4 315.1,159.4 315.6,159.3 316.1,159.3 316.6,159.3 317.1,159.3 317.6,159.3 318.1,159.3 318.7,159.3 319.2,159.3 319.7,159.3 320.2,159.2 320.7,159.2 321.2,159.2 321.7,159.2 322.2,159.2 322.7,159.2 323.2,159.1 323.7,159.1 324.2,159.1 324.7,159.1 325.2,159.0 325.7,159.0 326.2,159.0 326.7,158.9 327.2,158.9 327.7,158.9 328.2,158.8 328.7,158.8 329.2,158.7 329.7,158.6 330.2,158.5 330.7,158.5 331.3,158.4 331.8,158.3 332.3,158.2 332.8,158.0 333.3,157.9 333.8,157.7 334.3,157.6 334.8,157.4 335.3,157.2 335.8,157.0 336.3,156.8 336.8,156.6 337.3,156.4 337.8,156.1 338.3,155.8 338.8,155.6 339.3,155.3 339.8,155.0 340.3,154.7 340.8,154.3 341.3,154.0 341.8,153.6 342.3,153.2 342.8,152.8 343.3,152.4 343.9,151.9 344.4,151.3 344.9,150.8 345.4,150.2 345.9,149.5 346.4,148.7 346.9,147.9 347.4,147.1 347.9,146.1 348.4,145.1 348.9,144.0 349.4,142.8 349.9,141.5 350.4,140.1 350.9,138.6 351.4,137.1 351.9,135.5 352.4,133.8 352.9,132.1 353.4,130.4 353.9,128.6 354.4,126.8 354.9,125.1 355.4,123.4 355.9,121.7 356.5,120.2 357.0,118.8 357.5,117.5 358.0,116.4 358.5,115.5 359.0,114.8 359.5,114.3 360.0,114.1 360.5,114.1 361.0,114.4 361.5,114.9 362.0,115.7 362.5,116.6 363.0,117.7 363.5,118.9 364.0,120.3 364.5,121.8 365.0,123.3 365.5,124.9 366.0,126.5 366.5,128.1 367.0,129.6 367.5,131.2 368.0,132.6 368.5,134.1 369.1,135.4 369.6,136.7 370.1,137.9 370.6,139.0 371.1,140.0 371.6,141.0 372.1,141.8 372.6,142.6 373.1,143.2 373.6,143.8 374.1,144.4 374.6,144.9 375.1,145.3 375.6,145.6 376.1,145.9 376.6,146.2 377.1,146.4 377.6,146.6 378.1,146.8 378.6,146.9 379.1,147.0 379.6,147.1 380.1,147.2 380.6,147.2 381.1,147.3 381.7,147.3 382.2,147.4 382.7,147.4 383.2,147.4 383.7,147.5 384.2,147.5 384.7,147.5 385.2,147.5 385.7,147.5 386.2,147.5 386.7,147.6 387.2,147.6 387.7,147.6 388.2,147.6 388.7,147.6 389.2,147.6 389.7,147.6 390.2,147.6 390.7,147.6 391.2,147.6 391.7,147.6 392.2,147.6 392.7,147.6 393.2,147.6 393.7,147.7 394.3,147.7 394.8,147.7 395.3,147.7 395.8,147.7 396.3,147.7 396.8,147.7 397.3,147.7 397.8,147.7 398.3,147.7 398.8,147.7 399.3,147.7 399.8,147.7 400.3,147.7 400.8,147.7 401.3,147.7 401.8,147.7 402.3,147.7 402.8,147.7 403.3,147.7 403.8,147.7 404.3,147.7 404.8,147.7 405.3,147.7 405.8,147.7 406.3,147.7 406.9,147.7 407.4,147.7 407.9,147.7 408.4,147.7 408.9,147.7 409.4,147.8 409.9,147.8 410.4,147.8 410.9,147.8 411.4,147.8 411.9,147.8 412.4,147.8 412.9,147.8 413.4,147.8 413.9,147.8 414.4,147.8 414.9,147.8 415.4,147.8 415.9,147.8 416.4,147.8 416.9,147.8 417.4,147.8 417.9,147.8 418.4,147.8 418.9,147.8 419.5,147.8 420.0,147.8 420.5,147.8 421.0,147.8 421.5,147.8 422.0,147.8 422.5,147.8 423.0,147.8 423.5,147.8 424.0,147.8 424.5,147.8 425.0,147.8 425.5,147.8 426.0,147.8 426.5,147.8 427.0,147.8 427.5,147.8 428.0,147.8 428.5,147.8 429.0,147.8 429.5,147.8 430.0,147.8 430.5,147.8 431.0,147.8 431.5,147.8 432.1,147.8 432.6,147.8 433.1,147.8 433.6,147.8 434.1,147.8 434.6,147.8 435.1,147.8 435.6,147.8 436.1,147.8 436.6,147.8 437.1,147.8 437.6,147.8 438.1,147.8 438.6,147.8 439.1,147.8 439.6,147.8 440.1,147.8 440.6,147.8 441.1,147.8 441.6,147.8 442.1,147.8 442.6,147.8 443.1,147.8 443.6,147.8 444.1,147.8 444.7,147.8 445.2,147.8 445.7,147.8" fill="none" stroke="#c0a040" stroke-width="1.1" stroke-linejoin="round"/><path d="M294.5,159.6 295.0,159.6 295.5,159.6 296.0,159.6 296.5,159.6 297.0,159.6 297.5,159.6 298.0,159.6 298.5,159.6 299.0,159.6 299.5,159.6 300.0,159.6 300.5,159.6 301.0,159.6 301.5,159.6 302.0,159.6 302.5,159.6 303.0,159.6 303.5,159.6 304.0,159.6 304.5,159.6 305.0,159.5 305.5,159.5 306.1,159.5 306.6,159.5 307.1,159.5 307.6,159.5 308.1,159.5 308.6,159.5 309.1,159.5 309.6,159.5 310.1,159.5 310.6,159.5 311.1,159.5 311.6,159.5 312.1,159.5 312.6,159.5 313.1,159.5 313.6,159.5 314.1,159.5 314.6,159.4 315.1,159.4 315.6,159.4 316.1,159.4 316.6,159.4 317.1,159.4 317.6,159.4 318.1,159.4 318.7,159.4 319.2,159.4 319.7,159.4 320.2,159.4 320.7,159.3 321.2,159.3 321.7,159.3 322.2,159.3 322.7,159.3 323.2,159.3 323.7,159.3 324.2,159.2 324.7,159.2 325.2,159.2 325.7,159.2 326.2,159.2 326.7,159.1 327.2,159.1 327.7,159.1 328.2,159.0 328.7,159.0 329.2,158.9 329.7,158.9 330.2,158.8 330.7,158.7 331.3,158.6 331.8,158.5 332.3,158.4 332.8,158.3 333.3,158.2 333.8,158.1 334.3,157.9 334.8,157.8 335.3,157.6 335.8,157.5 336.3,157.3 336.8,157.1 337.3,156.9 337.8,156.7 338.3,156.5 338.8,156.2 339.3,156.0 339.8,155.8 340.3,155.6 340.8,155.3 341.3,155.1 341.8,154.9 342.3,154.7 342.8,154.5 343.3,154.3 343.9,154.1 344.4,153.9 344.9,153.7 345.4,153.5 345.9,153.3 346.4,153.1 346.9,152.9 347.4,152.7 347.9,152.5 348.4,152.3 348.9,152.1 349.4,151.8 349.9,151.6 350.4,151.4 350.9,151.2 351.4,150.9 351.9,150.6 352.4,150.3 352.9,150.0 353.4,149.7 353.9,149.4 354.4,149.0 354.9,148.6 355.4,148.2 355.9,147.7 356.5,147.2 357.0,146.7 357.5,146.1 358.0,145.5 358.5,144.9 359.0,144.2 359.5,143.5 360.0,142.8 360.5,142.0 361.0,141.2 361.5,140.4 362.0,139.6 362.5,138.7 363.0,137.8 363.5,136.9 364.0,136.1 364.5,135.2 365.0,134.3 365.5,133.4 366.0,132.6 366.5,131.8 367.0,131.0 367.5,130.3 368.0,129.7 368.5,129.1 369.1,128.6 369.6,128.2 370.1,127.9 370.6,127.6 371.1,127.5 371.6,127.5 372.1,127.5 372.6,127.7 373.1,128.0 373.6,128.3 374.1,128.8 374.6,129.3 375.1,129.8 375.6,130.5 376.1,131.1 376.6,131.8 377.1,132.6 377.6,133.3 378.1,134.1 378.6,134.9 379.1,135.6 379.6,136.4 380.1,137.1 380.6,137.9 381.1,138.6 381.7,139.3 382.2,139.9 382.7,140.6 383.2,141.2 383.7,141.7 384.2,142.2 384.7,142.7 385.2,143.2 385.7,143.6 386.2,144.0 386.7,144.4 387.2,144.7 387.7,145.0 388.2,145.3 388.7,145.5 389.2,145.8 389.7,146.0 390.2,146.1 390.7,146.3 391.2,146.4 391.7,146.6 392.2,146.7 392.7,146.8 393.2,146.9 393.7,147.0 394.3,147.0 394.8,147.1 395.3,147.1 395.8,147.2 396.3,147.2 396.8,147.3 397.3,147.3 397.8,147.3 398.3,147.4 398.8,147.4 399.3,147.4 399.8,147.4 400.3,147.4 400.8,147.5 401.3,147.5 401.8,147.5 402.3,147.5 402.8,147.5 403.3,147.5 403.8,147.5 404.3,147.5 404.8,147.5 405.3,147.6 405.8,147.6 406.3,147.6 406.9,147.6 407.4,147.6 407.9,147.6 408.4,147.6 408.9,147.6 409.4,147.6 409.9,147.6 410.4,147.6 410.9,147.6 411.4,147.6 411.9,147.7 412.4,147.7 412.9,147.7 413.4,147.7 413.9,147.7 414.4,147.7 414.9,147.7 415.4,147.7 415.9,147.7 416.4,147.7 416.9,147.7 417.4,147.7 417.9,147.7 418.4,147.7 418.9,147.7 419.5,147.7 420.0,147.7 420.5,147.7 421.0,147.7 421.5,147.7 422.0,147.7 422.5,147.7 423.0,147.7 423.5,147.7 424.0,147.7 424.5,147.7 425.0,147.7 425.5,147.7 426.0,147.7 426.5,147.7 427.0,147.8 427.5,147.8 428.0,147.8 428.5,147.8 429.0,147.8 429.5,147.8 430.0,147.8 430.5,147.8 431.0,147.8 431.5,147.8 432.1,147.8 432.6,147.8 433.1,147.8 433.6,147.8 434.1,147.8 434.6,147.8 435.1,147.8 435.6,147.8 436.1,147.8 436.6,147.8 437.1,147.8 437.6,147.8 438.1,147.8 438.6,147.8 439.1,147.8 439.6,147.8 440.1,147.8 440.6,147.8 441.1,147.8 441.6,147.8 442.1,147.8 442.6,147.8 443.1,147.8 443.6,147.8 444.1,147.8 444.7,147.8 445.2,147.8 445.7,147.8" fill="none" stroke="#10b0b0" stroke-width="1.1" stroke-linejoin="round"/><path d="M294.5,159.7 295.0,159.7 295.5,159.7 296.0,159.7 296.5,159.7 297.0,159.7 297.5,159.7 298.0,159.7 298.5,159.7 299.0,159.7 299.5,159.7 300.0,159.7 300.5,159.7 301.0,159.7 301.5,159.7 302.0,159.7 302.5,159.7 303.0,159.7 303.5,159.7 304.0,159.7 304.5,159.7 305.0,159.7 305.5,159.7 306.1,159.7 306.6,159.7 307.1,159.6 307.6,159.6 308.1,159.6 308.6,159.6 309.1,159.6 309.6,159.6 310.1,159.6 310.6,159.6 311.1,159.6 311.6,159.6 312.1,159.6 312.6,159.6 313.1,159.6 313.6,159.6 314.1,159.6 314.6,159.6 315.1,159.6 315.6,159.6 316.1,159.6 316.6,159.6 317.1,159.6 317.6,159.6 318.1,159.6 318.7,159.6 319.2,159.6 319.7,159.5 320.2,159.5 320.7,159.5 321.2,159.5 321.7,159.5 322.2,159.5 322.7,159.5 323.2,159.5 323.7,159.5 324.2,159.5 324.7,159.4 325.2,159.4 325.7,159.4 326.2,159.4 326.7,159.4 327.2,159.3 327.7,159.3 328.2,159.3 328.7,159.2 329.2,159.2 329.7,159.1 330.2,159.1 330.7,159.0 331.3,158.9 331.8,158.8 332.3,158.8 332.8,158.7 333.3,158.5 333.8,158.4 334.3,158.3 334.8,158.1 335.3,158.0 335.8,157.8 336.3,157.7 336.8,157.5 337.3,157.3 337.8,157.1 338.3,156.9 338.8,156.7 339.3,156.5 339.8,156.3 340.3,156.1 340.8,155.9 341.3,155.7 341.8,155.5 342.3,155.3 342.8,155.1 343.3,154.9 343.9,154.7 344.4,154.5 344.9,154.4 345.4,154.2 345.9,154.0 346.4,153.9 346.9,153.7 347.4,153.6 347.9,153.5 348.4,153.3 348.9,153.2 349.4,153.1 349.9,153.0 350.4,152.9 350.9,152.7 351.4,152.6 351.9,152.5 352.4,152.4 352.9,152.3 353.4,152.2 353.9,152.1 354.4,152.0 354.9,151.9 355.4,151.8 355.9,151.7 356.5,151.6 357.0,151.5 357.5,151.4 358.0,151.3 358.5,151.2 359.0,151.1 359.5,151.0 360.0,150.9 360.5,150.8 361.0,150.7 361.5,150.6 362.0,150.5 362.5,150.4 363.0,150.3 363.5,150.2 364.0,150.1 364.5,150.0 365.0,149.9 365.5,149.8 366.0,149.7 366.5,149.6 367.0,149.5 367.5,149.4 368.0,149.3 368.5,149.2 369.1,149.1 369.6,149.0 370.1,148.9 370.6,148.8 371.1,148.7 371.6,148.6 372.1,148.5 372.6,148.4 373.1,148.2 373.6,148.1 374.1,148.0 374.6,147.9 375.1,147.8 375.6,147.6 376.1,147.5 376.6,147.4 377.1,147.3 377.6,147.1 378.1,147.0 378.6,146.9 379.1,146.8 379.6,146.6 380.1,146.5 380.6,146.4 381.1,146.3 381.7,146.2 382.2,146.1 382.7,146.0 383.2,145.9 383.7,145.8 384.2,145.7 384.7,145.7 385.2,145.6 385.7,145.5 386.2,145.5 386.7,145.5 387.2,145.4 387.7,145.4 388.2,145.4 388.7,145.4 389.2,145.4 389.7,145.4 390.2,145.5 390.7,145.5 391.2,145.5 391.7,145.6 392.2,145.7 392.7,145.7 393.2,145.8 393.7,145.9 394.3,145.9 394.8,146.0 395.3,146.1 395.8,146.2 396.3,146.3 396.8,146.4 397.3,146.4 397.8,146.5 398.3,146.6 398.8,146.7 399.3,146.8 399.8,146.9 400.3,146.9 400.8,147.0 401.3,147.1 401.8,147.1 402.3,147.2 402.8,147.3 403.3,147.3 403.8,147.4 404.3,147.4 404.8,147.5 405.3,147.5 405.8,147.6 406.3,147.6 406.9,147.6 407.4,147.7 407.9,147.7 408.4,147.7 408.9,147.7 409.4,147.8 409.9,147.8 410.4,147.8 410.9,147.8 411.4,147.8 411.9,147.8 412.4,147.8 412.9,147.8 413.4,147.9 413.9,147.9 414.4,147.9 414.9,147.9 415.4,147.9 415.9,147.9 416.4,147.9 416.9,147.9 417.4,147.9 417.9,147.9 418.4,147.9 418.9,147.9 419.5,147.9 420.0,147.9 420.5,147.9 421.0,147.9 421.5,147.9 422.0,147.9 422.5,147.9 423.0,147.9 423.5,147.9 424.0,147.9 424.5,147.9 425.0,147.9 425.5,147.9 426.0,147.9 426.5,147.9 427.0,147.9 427.5,147.9 428.0,147.9 428.5,147.9 429.0,147.9 429.5,147.9 430.0,147.9 430.5,147.9 431.0,147.9 431.5,147.9 432.1,147.9 432.6,147.9 433.1,147.9 433.6,147.9 434.1,147.9 434.6,147.9 435.1,147.9 435.6,147.9 436.1,147.9 436.6,147.9 437.1,147.9 437.6,147.9 438.1,147.9 438.6,147.9 439.1,147.9 439.6,147.9 440.1,147.9 440.6,147.9 441.1,147.9 441.6,147.9 442.1,147.9 442.6,147.9 443.1,147.9 443.6,147.9 444.1,147.9 444.7,147.9 445.2,147.9 445.7,147.9" fill="none" stroke="#6a4a3a" stroke-width="1.1" stroke-linejoin="round"/><path d="M294.5,158.9 295.0,158.9 295.5,158.9 296.0,158.8 296.5,158.8 297.0,158.8 297.5,158.8 298.0,158.8 298.5,158.7 299.0,158.7 299.5,158.7 300.0,158.7 300.5,158.6 301.0,158.6 301.5,158.6 302.0,158.6 302.5,158.5 303.0,158.5 303.5,158.5 304.0,158.4 304.5,158.4 305.0,158.4 305.5,158.3 306.1,158.3 306.6,158.3 307.1,158.2 307.6,158.2 308.1,158.1 308.6,158.1 309.1,158.0 309.6,158.0 310.1,157.9 310.6,157.9 311.1,157.8 311.6,157.8 312.1,157.7 312.6,157.7 313.1,157.6 313.6,157.5 314.1,157.4 314.6,157.4 315.1,157.3 315.6,157.2 316.1,157.1 316.6,157.0 317.1,156.9 317.6,156.7 318.1,156.6 318.7,156.5 319.2,156.3 319.7,156.1 320.2,155.9 320.7,155.6 321.2,155.4 321.7,155.0 322.2,154.6 322.7,154.2 323.2,153.7 323.7,153.0 324.2,152.3 324.7,151.4 325.2,150.3 325.7,149.1 326.2,147.7 326.7,146.1 327.2,144.1 327.7,142.0 328.2,139.5 328.7,136.7 329.2,133.5 329.7,130.0 330.2,126.2 330.7,122.0 331.3,117.4 331.8,112.5 332.3,107.4 332.8,101.9 333.3,96.3 333.8,90.5 334.3,84.6 334.8,78.7 335.3,72.9 335.8,67.3 336.3,62.0 336.8,57.2 337.3,52.8 337.8,49.1 338.3,46.0 338.8,43.7 339.3,42.1 339.8,41.3 340.3,41.3 340.8,41.9 341.3,43.1 341.8,44.9 342.3,47.0 342.8,49.5 343.3,52.2 343.9,55.2 344.4,58.2 344.9,61.3 345.4,64.4 345.9,67.4 346.4,70.4 346.9,73.3 347.4,76.2 347.9,78.8 348.4,81.4 348.9,83.7 349.4,85.9 349.9,87.9 350.4,89.8 350.9,91.4 351.4,92.8 351.9,94.0 352.4,95.1 352.9,95.9 353.4,96.6 353.9,97.1 354.4,97.4 354.9,97.6 355.4,97.7 355.9,97.7 356.5,97.6 357.0,97.5 357.5,97.4 358.0,97.2 358.5,97.1 359.0,97.1 359.5,97.1 360.0,97.3 360.5,97.5 361.0,97.9 361.5,98.4 362.0,99.0 362.5,99.7 363.0,100.5 363.5,101.4 364.0,102.3 364.5,103.3 365.0,104.3 365.5,105.3 366.0,106.3 366.5,107.3 367.0,108.4 367.5,109.4 368.0,110.4 368.5,111.4 369.1,112.4 369.6,113.3 370.1,114.3 370.6,115.3 371.1,116.2 371.6,117.2 372.1,118.2 372.6,119.1 373.1,120.1 373.6,121.1 374.1,122.1 374.6,123.1 375.1,124.1 375.6,125.0 376.1,126.0 376.6,126.9 377.1,127.9 377.6,128.8 378.1,129.7 378.6,130.6 379.1,131.4 379.6,132.2 380.1,133.0 380.6,133.8 381.1,134.5 381.7,135.2 382.2,135.9 382.7,136.5 383.2,137.1 383.7,137.6 384.2,138.1 384.7,138.6 385.2,139.1 385.7,139.5 386.2,139.9 386.7,140.3 387.2,140.7 387.7,141.0 388.2,141.3 388.7,141.6 389.2,141.9 389.7,142.2 390.2,142.4 390.7,142.6 391.2,142.9 391.7,143.1 392.2,143.3 392.7,143.5 393.2,143.7 393.7,143.8 394.3,144.0 394.8,144.2 395.3,144.3 395.8,144.5 396.3,144.7 396.8,144.8 397.3,144.9 397.8,145.1 398.3,145.2 398.8,145.3 399.3,145.5 399.8,145.6 400.3,145.7 400.8,145.8 401.3,145.9 401.8,146.0 402.3,146.1 402.8,146.2 403.3,146.3 403.8,146.3 404.3,146.4 404.8,146.5 405.3,146.6 405.8,146.6 406.3,146.7 406.9,146.7 407.4,146.8 407.9,146.8 408.4,146.9 408.9,146.9 409.4,146.9 409.9,147.0 410.4,147.0 410.9,147.0 411.4,147.1 411.9,147.1 412.4,147.1 412.9,147.1 413.4,147.2 413.9,147.2 414.4,147.2 414.9,147.2 415.4,147.2 415.9,147.2 416.4,147.3 416.9,147.3 417.4,147.3 417.9,147.3 418.4,147.3 418.9,147.3 419.5,147.3 420.0,147.3 420.5,147.3 421.0,147.4 421.5,147.4 422.0,147.4 422.5,147.4 423.0,147.4 423.5,147.4 424.0,147.4 424.5,147.4 425.0,147.4 425.5,147.4 426.0,147.4 426.5,147.4 427.0,147.4 427.5,147.4 428.0,147.5 428.5,147.5 429.0,147.5 429.5,147.5 430.0,147.5 430.5,147.5 431.0,147.5 431.5,147.5 432.1,147.5 432.6,147.5 433.1,147.5 433.6,147.5 434.1,147.5 434.6,147.5 435.1,147.5 435.6,147.5 436.1,147.5 436.6,147.5 437.1,147.5 437.6,147.5 438.1,147.5 438.6,147.6 439.1,147.6 439.6,147.6 440.1,147.6 440.6,147.6 441.1,147.6 441.6,147.6 442.1,147.6 442.6,147.6 443.1,147.6 443.6,147.6 444.1,147.6 444.7,147.6 445.2,147.6 445.7,147.6" fill="none" stroke="#c43030" stroke-width="1.1"/><path d="M294.5,158.0 295.0,158.0 295.5,159.4 296.0,159.6 296.5,159.8 297.0,159.1 297.5,159.2 298.0,159.1 298.5,159.2 299.0,159.4 299.5,159.0 300.0,158.5 300.5,157.3 301.0,157.6 301.5,158.1 302.0,158.9 302.5,159.5 303.0,158.9 303.5,159.1 304.0,159.0 304.5,159.4 305.0,158.3 305.5,157.7 306.1,158.0 306.6,158.9 307.1,158.7 307.6,158.3 308.1,158.3 308.6,158.6 309.1,158.1 309.6,157.0 310.1,157.4 310.6,157.9 311.1,158.9 311.6,159.3 312.1,159.4 312.6,159.4 313.1,157.9 313.6,157.5 314.1,157.7 314.6,157.8 315.1,157.8 315.6,157.8 316.1,158.1 316.6,158.1 317.1,157.7 317.6,157.3 318.1,157.8 318.7,157.4 319.2,156.9 319.7,155.5 320.2,154.7 320.7,154.4 321.2,153.9 321.7,154.4 322.2,154.2 322.7,155.0 323.2,154.3 323.7,154.7 324.2,152.8 324.7,151.2 325.2,149.5 325.7,148.0 326.2,147.3 326.7,145.6 327.2,144.3 327.7,142.3 328.2,139.7 328.7,136.2 329.2,133.0 329.7,129.3 330.2,126.3 330.7,121.0 331.3,116.6 331.8,111.4 332.3,106.7 332.8,101.3 333.3,96.5 333.8,90.4 334.3,85.1 334.8,78.6 335.3,73.1 335.8,67.3 336.3,62.1 336.8,57.0 337.3,52.3 337.8,49.0 338.3,47.5 338.8,45.6 339.3,43.9 339.8,42.2 340.3,42.1 340.8,42.4 341.3,43.6 341.8,45.0 342.3,47.0 342.8,49.6 343.3,52.4 343.9,54.8 344.4,57.1 344.9,60.6 345.4,64.6 345.9,67.7 346.4,69.8 346.9,72.6 347.4,75.8 347.9,79.3 348.4,81.6 348.9,83.6 349.4,85.7 349.9,88.1 350.4,90.2 350.9,91.3 351.4,93.0 351.9,93.8 352.4,94.8 352.9,95.2 353.4,96.1 353.9,95.1 354.4,95.8 354.9,97.6 355.4,100.1 355.9,100.3 356.5,99.1 357.0,98.1 357.5,97.2 358.0,97.0 358.5,97.3 359.0,97.5 359.5,97.7 360.0,96.9 360.5,96.5 361.0,97.0 361.5,98.1 362.0,99.2 362.5,99.9 363.0,100.5 363.5,101.4 364.0,102.8 364.5,104.5 365.0,105.2 365.5,105.5 366.0,105.6 366.5,106.7 367.0,107.2 367.5,108.8 368.0,109.9 368.5,110.9 369.1,111.9 369.6,113.1 370.1,114.0 370.6,115.7 371.1,116.3 371.6,117.6 372.1,118.0 372.6,119.3 373.1,120.3 373.6,121.5 374.1,121.8 374.6,123.1 375.1,123.9 375.6,125.4 376.1,126.6 376.6,126.5 377.1,127.4 377.6,128.4 378.1,129.8 378.6,131.0 379.1,131.1 379.6,132.2 380.1,132.8 380.6,133.9 381.1,135.1 381.7,135.6 382.2,136.8 382.7,137.7 383.2,138.2 383.7,137.8 384.2,137.5 384.7,137.3 385.2,137.9 385.7,138.8 386.2,139.9 386.7,141.4 387.2,141.9 387.7,142.6 388.2,142.0 388.7,141.7 389.2,141.8 389.7,142.4 390.2,143.5 390.7,143.5 391.2,143.4 391.7,142.8 392.2,143.3 392.7,142.8 393.2,142.7 393.7,142.6 394.3,143.8 394.8,144.6 395.3,144.6 395.8,144.6 396.3,144.4 396.8,144.3 397.3,143.9 397.8,143.8 398.3,144.3 398.8,144.8 399.3,145.5 399.8,145.8 400.3,145.3 400.8,145.4 401.3,144.4 401.8,145.0 402.3,144.4 402.8,145.2 403.3,145.6 403.8,145.7 404.3,146.3 404.8,146.6 405.3,146.9 405.8,147.1 406.3,146.3 406.9,146.4 407.4,145.5 407.9,147.3 408.4,147.2 408.9,147.7 409.4,146.8 409.9,146.4 410.4,146.4 410.9,146.5 411.4,146.7 411.9,145.9 412.4,145.7 412.9,145.8 413.4,147.1 413.9,147.2 414.4,147.8 414.9,147.7 415.4,146.8 415.9,145.9 416.4,145.6 416.9,146.2 417.4,145.8 417.9,145.9 418.4,145.5 418.9,145.8 419.5,146.0 420.0,146.2 420.5,147.5 421.0,147.8 421.5,148.4 422.0,147.8 422.5,147.7 423.0,148.1 423.5,148.0 424.0,146.8 424.5,146.3 425.0,146.1 425.5,146.7 426.0,147.0 426.5,146.7 427.0,147.0 427.5,146.3 428.0,147.2 428.5,147.1 429.0,147.7 429.5,147.6 430.0,147.5 430.5,147.9 431.0,146.8 431.5,147.0 432.1,146.4 432.6,147.0 433.1,146.8 433.6,147.9 434.1,147.9 434.6,148.5 435.1,147.6 435.6,147.7 436.1,147.2 436.6,147.6 437.1,146.9 437.6,146.2 438.1,146.0 438.6,146.7 439.1,147.5 439.6,147.0 440.1,146.2 440.6,146.8 441.1,147.5 441.6,148.7 442.1,148.7 442.6,149.1 443.1,148.5 443.6,148.5 444.1,147.3 444.7,147.1 445.2,147.0 445.7,147.6" fill="none" stroke="#2a1010" stroke-width="0.55" opacity="0.75"/></g>
<rect x="274.3" y="22.4" width="191.7" height="142.1" fill="none" stroke="#3c3c3c" stroke-width="1.1"/>
<path d="M274.30,164.50 V161.90 M284.38,164.50 V162.90 M294.46,164.50 V161.90 M304.54,164.50 V162.90 M314.62,164.50 V161.90 M324.70,164.50 V162.90 M334.78,164.50 V161.90 M344.86,164.50 V162.90 M354.94,164.50 V161.90 M365.02,164.50 V162.90 M375.10,164.50 V161.90 M385.18,164.50 V162.90 M395.26,164.50 V161.90 M405.34,164.50 V162.90 M415.42,164.50 V161.90 M425.50,164.50 V162.90 M435.58,164.50 V161.90 M445.66,164.50 V162.90 M455.74,164.50 V161.90 M274.30,152.70 H276.90 M274.30,129.06 H276.90 M274.30,105.42 H276.90 M274.30,81.78 H276.90 M274.30,58.14 H276.90 M274.30,34.50 H276.90 M274.30,140.88 H275.90 M274.30,117.24 H275.90 M274.30,93.60 H275.90 M274.30,69.96 H275.90 M274.30,46.32 H275.90 M274.30,22.68 H275.90" stroke="#3c3c3c" stroke-width="1.15" fill="none"/>
<text x="274.3" y="173.1" font-size="5.7" text-anchor="middle" fill="#222" stroke="#222" font-weight="normal" font-family="Liberation Sans" >278</text>
<text x="294.46" y="173.1" font-size="5.7" text-anchor="middle" fill="#222" stroke="#222" font-weight="normal" font-family="Liberation Sans" >280</text>
<text x="314.62" y="173.1" font-size="5.7" text-anchor="middle" fill="#222" stroke="#222" font-weight="normal" font-family="Liberation Sans" >282</text>
<text x="334.78" y="173.1" font-size="5.7" text-anchor="middle" fill="#222" stroke="#222" font-weight="normal" font-family="Liberation Sans" >284</text>
<text x="354.94" y="173.1" font-size="5.7" text-anchor="middle" fill="#222" stroke="#222" font-weight="normal" font-family="Liberation Sans" >286</text>
<text x="375.1" y="173.1" font-size="5.7" text-anchor="middle" fill="#222" stroke="#222" font-weight="normal" font-family="Liberation Sans" >288</text>
<text x="395.26" y="173.1" font-size="5.7" text-anchor="middle" fill="#222" stroke="#222" font-weight="normal" font-family="Liberation Sans" >290</text>
<text x="415.42" y="173.1" font-size="5.7" text-anchor="middle" fill="#222" stroke="#222" font-weight="normal" font-family="Liberation Sans" >292</text>
<text x="435.58" y="173.1" font-size="5.7" text-anchor="middle" fill="#222" stroke="#222" font-weight="normal" font-family="Liberation Sans" >294</text>
<text x="455.74" y="173.1" font-size="5.7" text-anchor="middle" fill="#222" stroke="#222" font-weight="normal" font-family="Liberation Sans" >296</text>
<text x="270.9" y="154.66" font-size="5.6" text-anchor="end" fill="#222" stroke="#222" font-family="Liberation Sans">1x10<tspan font-size="3.47" dy="-2.35">5</tspan></text>
<text x="270.9" y="131.02" font-size="5.6" text-anchor="end" fill="#222" stroke="#222" font-family="Liberation Sans">2x10<tspan font-size="3.47" dy="-2.35">5</tspan></text>
<text x="270.9" y="107.38" font-size="5.6" text-anchor="end" fill="#222" stroke="#222" font-family="Liberation Sans">3x10<tspan font-size="3.47" dy="-2.35">5</tspan></text>
<text x="270.9" y="83.74" font-size="5.6" text-anchor="end" fill="#222" stroke="#222" font-family="Liberation Sans">4x10<tspan font-size="3.47" dy="-2.35">5</tspan></text>
<text x="270.9" y="60.1" font-size="5.6" text-anchor="end" fill="#222" stroke="#222" font-family="Liberation Sans">5x10<tspan font-size="3.47" dy="-2.35">5</tspan></text>
<text x="270.9" y="36.46" font-size="5.6" text-anchor="end" fill="#222" stroke="#222" font-family="Liberation Sans">6x10<tspan font-size="3.47" dy="-2.35">5</tspan></text>
<text x="370" y="183.2" font-size="7.4" text-anchor="middle" fill="#222" stroke="#222" font-weight="normal" font-family="Liberation Sans" >Binding Energy, eV</text>
<text x="0" y="0" font-size="6.45" text-anchor="middle" fill="#222" stroke="#222" font-weight="normal" font-family="Liberation Sans" transform="translate(244.8,93.3) rotate(-90)">Intensity, Arb. units</text>
<text x="419.7" y="36.0" font-size="7.4" font-family="Liberation Sans" fill="#111" stroke="#111">C1s</text>
<text x="419.7" y="44.3" font-size="7.4" font-family="Liberation Sans" fill="#111" stroke="#111">LQ pristine</text>
<text x="391.8" y="61.2" font-size="4" font-family="Liberation Sans" fill="#111" stroke="#111" font-weight="normal" style="stroke-width:0.15px">Position (eV)</text>
<text x="435" y="61.2" font-size="4" font-family="Liberation Sans" fill="#111" stroke="#111" font-weight="normal" style="stroke-width:0.15px">Area (%)</text>
<text x="413.4" y="65.5" font-size="4" font-family="Liberation Sans" fill="#1a6a3a" stroke="#1a6a3a" text-anchor="end" font-weight="normal" style="stroke-width:0.15px">284.4</text>
<text x="451" y="65.5" font-size="4" font-family="Liberation Sans" fill="#1a6a3a" stroke="#1a6a3a" text-anchor="end" font-weight="normal" style="stroke-width:0.15px">43.7%</text>
<text x="413.4" y="70.05" font-size="4" font-family="Liberation Sans" fill="#a070d8" stroke="#a070d8" text-anchor="end" font-weight="normal" style="stroke-width:0.15px">285.3</text>
<text x="451" y="70.05" font-size="4" font-family="Liberation Sans" fill="#a070d8" stroke="#a070d8" text-anchor="end" font-weight="normal" style="stroke-width:0.15px">21.2%</text>
<text x="413.4" y="74.6" font-size="4" font-family="Liberation Sans" fill="#d0b080" stroke="#d0b080" text-anchor="end" font-weight="normal" style="stroke-width:0.15px">286.5</text>
<text x="451" y="74.6" font-size="4" font-family="Liberation Sans" fill="#d0b080" stroke="#d0b080" text-anchor="end" font-weight="normal" style="stroke-width:0.15px">19.8 %</text>
<text x="413.4" y="79.15" font-size="4" font-family="Liberation Sans" fill="#50dcec" stroke="#50dcec" text-anchor="end" font-weight="normal" style="stroke-width:0.15px">287.6</text>
<text x="451" y="79.15" font-size="4" font-family="Liberation Sans" fill="#50dcec" stroke="#50dcec" text-anchor="end" font-weight="normal" style="stroke-width:0.15px">13.8%</text>
<text x="413.4" y="83.7" font-size="4" font-family="Liberation Sans" fill="#3a2a20" stroke="#3a2a20" text-anchor="end" font-weight="normal" style="stroke-width:0.15px">288.5</text>
<text x="451" y="83.7" font-size="4" font-family="Liberation Sans" fill="#3a2a20" stroke="#3a2a20" text-anchor="end" font-weight="normal" style="stroke-width:0.15px">1.5%</text>
<path d="M294.4,160.2 V164.5" stroke="#222" stroke-width="1"/>
<g><path d="M56.0,336.9 56.5,336.7 57.1,336.7 57.6,336.7 58.1,336.7 58.6,336.8 59.1,336.8 59.6,337.0 60.1,336.9 60.6,336.9 61.1,336.9 61.6,336.9 62.1,336.8 62.6,336.9 63.1,336.9 63.6,336.8 64.1,336.5 64.6,336.5 65.1,336.6 65.7,336.8 66.2,336.7 66.7,336.8 67.2,336.8 67.7,336.6 68.2,336.4 68.7,336.3 69.2,336.4 69.7,336.5 70.2,336.4 70.7,336.3 71.2,336.3 71.7,336.3 72.2,336.3 72.7,336.2 73.2,336.2 73.8,336.1 74.3,335.9 74.8,335.9 75.3,335.7 75.8,335.8 76.3,335.8 76.8,335.9 77.3,335.7 77.8,335.6 78.3,335.4 78.8,335.3 79.3,335.2 79.8,335.2 80.3,335.2 80.8,335.0 81.3,334.8 81.8,334.8 82.4,334.8 82.9,334.7 83.4,334.3 83.9,334.0 84.4,333.4 84.9,333.1 85.4,332.6 85.9,332.3 86.4,331.6 86.9,330.8 87.4,329.9 87.9,328.8 88.4,327.4 88.9,325.5 89.4,323.6 89.9,321.5 90.4,318.9 91.0,316.0 91.5,312.0 92.0,308.0 92.5,303.4 93.0,298.8 93.5,293.8 94.0,287.9 94.5,281.8 95.0,275.4 95.5,269.0 96.0,262.2 96.5,255.6 97.0,249.1 97.5,243.2 98.0,237.7 98.5,232.8 99.1,228.9 99.6,226.0 100.1,224.2 100.6,223.4 101.1,223.6 101.6,225.0 102.1,227.3 102.6,230.8 103.1,234.7 103.6,239.1 104.1,244.0 104.6,249.1 105.1,254.4 105.6,259.6 106.1,264.6 106.6,269.7 107.1,274.7 107.7,279.2 108.2,283.4 108.7,287.1 109.2,290.9 109.7,294.0 110.2,297.3 110.7,300.0 111.2,302.8 111.7,305.0 112.2,307.2 112.7,309.2 113.2,311.1 113.7,312.9 114.2,314.4 114.7,315.4 115.2,316.7 115.7,317.9 116.3,319.0 116.8,319.8 117.3,320.7 117.8,321.7 118.3,322.7 118.8,323.4 119.3,323.9 119.8,324.4 120.3,325.0 120.8,325.3 121.3,325.6 121.8,325.8 122.3,326.2 122.8,326.5 123.3,326.7 123.8,326.7 124.4,326.7 124.9,327.0 125.4,327.3 125.9,327.5 126.4,327.6 126.9,327.8 127.4,328.0 127.9,328.4 128.4,328.8 128.9,329.1 129.4,329.2 129.9,329.2 130.4,329.5 130.9,329.8 131.4,329.8 131.9,329.8 132.4,329.9 133.0,330.2 133.5,330.3 134.0,330.3 134.5,330.2 135.0,330.3 135.5,330.6 136.0,330.8 136.5,331.0 137.0,330.9 137.5,330.9 138.0,330.9 138.5,331.0 139.0,331.0 139.5,331.1 140.0,331.1 140.5,331.2 141.0,331.3 141.6,331.3 142.1,331.3 142.6,331.1 143.1,331.2 143.6,331.1 144.1,331.2 144.6,331.3 145.1,331.5 145.6,331.4 146.1,331.5 146.6,331.2 147.1,331.4 147.6,331.3 148.1,331.4 148.6,331.5 149.1,331.5 149.7,331.4 150.2,331.3 150.7,331.4 151.2,331.5 151.7,331.4 152.2,331.2 152.7,331.1 153.2,331.1 153.7,331.3 154.2,331.2 154.7,331.2 155.2,331.1 155.7,331.1 156.2,331.1 156.7,331.0 157.2,331.1 157.7,331.2 158.3,331.4 158.8,331.2 159.3,331.2 159.8,330.9 160.3,330.9 160.8,330.9 161.3,330.8 161.8,330.8 162.3,330.9 162.8,331.1 163.3,331.0 163.8,330.9 164.3,330.8 164.8,331.0 165.3,330.8 165.8,330.8 166.3,330.8 166.9,330.9 167.4,331.0 167.9,330.9 168.4,330.8 168.9,330.7 169.4,330.7 169.9,330.9 170.4,330.9 170.9,330.8 171.4,330.8 171.9,330.8 172.4,331.0 172.9,331.1 173.4,331.0 173.9,330.9 174.4,331.0 175.0,331.2 175.5,331.2 176.0,331.3 176.5,331.3 177.0,331.5 177.5,331.4 178.0,331.3 178.5,331.3 179.0,331.4 179.5,331.5 180.0,331.6 180.5,331.6 181.0,331.6 181.5,331.5 182.0,331.5 182.5,331.3 183.0,331.3 183.6,331.3 184.1,331.3 184.6,331.3 185.1,331.4 185.6,331.4 186.1,331.5 186.6,331.5 187.1,331.6 187.6,331.5 188.1,331.5 188.6,331.6 189.1,331.7 189.6,331.7 190.1,331.6 190.6,331.4 191.1,331.5 191.6,331.5 192.2,331.6 192.7,331.5 193.2,331.7 193.7,331.8 194.2,331.7 194.7,331.7 195.2,331.6 195.7,331.7 196.2,331.5 196.7,331.7 197.2,331.6 197.7,331.7" fill="none" stroke="#333" stroke-width="0.6" opacity="1"/><path d="M56.0,336.9 56.5,336.9 57.1,336.9 57.6,336.9 58.1,336.9 58.6,336.9 59.1,336.9 59.6,336.8 60.1,336.8 60.6,336.8 61.1,336.8 61.6,336.8 62.1,336.8 62.6,336.7 63.1,336.7 63.6,336.7 64.1,336.7 64.6,336.7 65.1,336.7 65.7,336.6 66.2,336.6 66.7,336.6 67.2,336.6 67.7,336.5 68.2,336.5 68.7,336.5 69.2,336.5 69.7,336.4 70.2,336.4 70.7,336.4 71.2,336.3 71.7,336.3 72.2,336.3 72.7,336.2 73.2,336.2 73.8,336.1 74.3,336.1 74.8,336.0 75.3,336.0 75.8,335.9 76.3,335.9 76.8,335.8 77.3,335.7 77.8,335.7 78.3,335.6 78.8,335.5 79.3,335.4 79.8,335.3 80.3,335.2 80.8,335.1 81.3,335.0 81.8,334.8 82.4,334.7 82.9,334.5 83.4,334.3 83.9,334.0 84.4,333.7 84.9,333.3 85.4,332.9 85.9,332.3 86.4,331.7 86.9,330.9 87.4,329.9 87.9,328.7 88.4,327.3 88.9,325.7 89.4,323.7 89.9,321.4 90.4,318.7 91.0,315.6 91.5,312.1 92.0,308.1 92.5,303.7 93.0,298.8 93.5,293.5 94.0,287.8 94.5,281.7 95.0,275.4 95.5,268.9 96.0,262.3 96.5,255.8 97.0,249.4 97.5,243.4 98.0,237.9 98.5,233.1 99.1,229.1 99.6,226.0 100.1,224.1 100.6,223.3 101.1,223.6 101.6,225.0 102.1,227.4 102.6,230.6 103.1,234.6 103.6,239.1 104.1,244.0 104.6,249.1 105.1,254.4 105.6,259.6 106.1,264.8 106.6,269.8 107.1,274.6 107.7,279.1 108.2,283.3 108.7,287.3 109.2,290.9 109.7,294.3 110.2,297.3 110.7,300.2 111.2,302.7 111.7,305.1 112.2,307.2 112.7,309.2 113.2,311.0 113.7,312.6 114.2,314.1 114.7,315.5 115.2,316.8 115.7,317.9 116.3,319.0 116.8,320.0 117.3,320.8 117.8,321.6 118.3,322.4 118.8,323.0 119.3,323.6 119.8,324.1 120.3,324.6 120.8,325.0 121.3,325.4 121.8,325.8 122.3,326.1 122.8,326.4 123.3,326.6 123.8,326.9 124.4,327.1 124.9,327.4 125.4,327.6 125.9,327.8 126.4,328.0 126.9,328.2 127.4,328.4 127.9,328.6 128.4,328.8 128.9,328.9 129.4,329.1 129.9,329.3 130.4,329.4 130.9,329.6 131.4,329.7 131.9,329.9 132.4,330.0 133.0,330.1 133.5,330.3 134.0,330.4 134.5,330.5 135.0,330.6 135.5,330.6 136.0,330.7 136.5,330.8 137.0,330.8 137.5,330.9 138.0,331.0 138.5,331.0 139.0,331.0 139.5,331.1 140.0,331.1 140.5,331.2 141.0,331.2 141.6,331.2 142.1,331.2 142.6,331.2 143.1,331.3 143.6,331.3 144.1,331.3 144.6,331.3 145.1,331.3 145.6,331.3 146.1,331.3 146.6,331.3 147.1,331.3 147.6,331.3 148.1,331.3 148.6,331.3 149.1,331.3 149.7,331.3 150.2,331.3 150.7,331.3 151.2,331.3 151.7,331.3 152.2,331.3 152.7,331.3 153.2,331.3 153.7,331.3 154.2,331.2 154.7,331.2 155.2,331.2 155.7,331.2 156.2,331.2 156.7,331.1 157.2,331.1 157.7,331.1 158.3,331.1 158.8,331.1 159.3,331.0 159.8,331.0 160.3,331.0 160.8,331.0 161.3,330.9 161.8,330.9 162.3,330.9 162.8,330.9 163.3,330.8 163.8,330.8 164.3,330.8 164.8,330.8 165.3,330.8 165.8,330.8 166.3,330.8 166.9,330.8 167.4,330.8 167.9,330.8 168.4,330.8 168.9,330.8 169.4,330.8 169.9,330.8 170.4,330.8 170.9,330.9 171.4,330.9 171.9,330.9 172.4,330.9 172.9,330.9 173.4,331.0 173.9,331.0 174.4,331.0 175.0,331.1 175.5,331.1 176.0,331.1 176.5,331.2 177.0,331.2 177.5,331.2 178.0,331.2 178.5,331.3 179.0,331.3 179.5,331.3 180.0,331.3 180.5,331.4 181.0,331.4 181.5,331.4 182.0,331.4 182.5,331.5 183.0,331.5 183.6,331.5 184.1,331.5 184.6,331.5 185.1,331.5 185.6,331.5 186.1,331.6 186.6,331.6 187.1,331.6 187.6,331.6 188.1,331.6 188.6,331.6 189.1,331.6 189.6,331.6 190.1,331.6 190.6,331.6 191.1,331.6 191.6,331.6 192.2,331.6 192.7,331.6 193.2,331.6 193.7,331.6 194.2,331.6 194.7,331.6 195.2,331.6 195.7,331.6 196.2,331.7 196.7,331.7 197.2,331.7 197.7,331.7" fill="none" stroke="#d03c3c" stroke-width="0.9"/><path d="M56.0,337.0 56.5,336.9 57.1,336.9 57.6,336.9 58.1,336.9 58.6,336.9 59.1,336.9 59.6,336.9 60.1,336.9 60.6,336.8 61.1,336.8 61.6,336.8 62.1,336.8 62.6,336.8 63.1,336.8 63.6,336.8 64.1,336.7 64.6,336.7 65.1,336.7 65.7,336.7 66.2,336.7 66.7,336.6 67.2,336.6 67.7,336.6 68.2,336.6 68.7,336.5 69.2,336.5 69.7,336.5 70.2,336.4 70.7,336.4 71.2,336.4 71.7,336.3 72.2,336.3 72.7,336.3 73.2,336.2 73.8,336.2 74.3,336.1 74.8,336.1 75.3,336.0 75.8,336.0 76.3,335.9 76.8,335.9 77.3,335.8 77.8,335.7 78.3,335.7 78.8,335.6 79.3,335.5 79.8,335.4 80.3,335.3 80.8,335.2 81.3,335.1 81.8,334.9 82.4,334.8 82.9,334.6 83.4,334.4 83.9,334.1 84.4,333.8 84.9,333.4 85.4,333.0 85.9,332.5 86.4,331.8 86.9,331.0 87.4,330.1 87.9,328.9 88.4,327.5 88.9,325.9 89.4,323.9 89.9,321.6 90.4,319.0 91.0,315.9 91.5,312.4 92.0,308.5 92.5,304.1 93.0,299.3 93.5,294.0 94.0,288.4 94.5,282.5 95.0,276.3 95.5,270.0 96.0,263.6 96.5,257.3 97.0,251.2 97.5,245.5 98.0,240.4 98.5,235.9 99.1,232.4 99.6,229.9 100.1,228.6 100.6,228.4 101.1,229.5 101.6,231.7 102.1,234.9 102.6,239.0 103.1,243.8 103.6,249.2 104.1,255.0 104.6,261.1 105.1,267.2 105.6,273.4 106.1,279.3 106.6,285.1 107.1,290.5 107.7,295.6 108.2,300.2 108.7,304.4 109.2,308.2 109.7,311.6 110.2,314.6 110.7,317.1 111.2,319.3 111.7,321.2 112.2,322.8 112.7,324.1 113.2,325.2 113.7,326.1 114.2,326.9 114.7,327.5 115.2,328.0 115.7,328.4 116.3,328.7 116.8,329.0 117.3,329.3 117.8,329.4 118.3,329.6 118.8,329.7 119.3,329.9 119.8,330.0 120.3,330.1 120.8,330.2 121.3,330.2 121.8,330.3 122.3,330.4 122.8,330.4 123.3,330.5 123.8,330.5 124.4,330.6 124.9,330.6 125.4,330.7 125.9,330.7 126.4,330.8 126.9,330.8 127.4,330.8 127.9,330.9 128.4,330.9 128.9,330.9 129.4,331.0 129.9,331.0 130.4,331.0 130.9,331.0 131.4,331.1 131.9,331.1 132.4,331.1 133.0,331.1 133.5,331.1 134.0,331.2 134.5,331.2 135.0,331.2 135.5,331.2 136.0,331.2 136.5,331.2 137.0,331.3 137.5,331.3 138.0,331.3 138.5,331.3 139.0,331.3 139.5,331.3 140.0,331.3 140.5,331.4 141.0,331.4 141.6,331.4 142.1,331.4 142.6,331.4 143.1,331.4 143.6,331.4 144.1,331.4 144.6,331.4 145.1,331.4 145.6,331.5 146.1,331.5 146.6,331.5 147.1,331.5 147.6,331.5 148.1,331.5 148.6,331.5 149.1,331.5 149.7,331.5 150.2,331.5 150.7,331.5 151.2,331.5 151.7,331.5 152.2,331.5 152.7,331.5 153.2,331.5 153.7,331.6 154.2,331.6 154.7,331.6 155.2,331.6 155.7,331.6 156.2,331.6 156.7,331.6 157.2,331.6 157.7,331.6 158.3,331.6 158.8,331.6 159.3,331.6 159.8,331.6 160.3,331.6 160.8,331.6 161.3,331.6 161.8,331.6 162.3,331.6 162.8,331.6 163.3,331.6 163.8,331.6 164.3,331.6 164.8,331.6 165.3,331.6 165.8,331.6 166.3,331.6 166.9,331.6 167.4,331.6 167.9,331.6 168.4,331.6 168.9,331.6 169.4,331.6 169.9,331.6 170.4,331.6 170.9,331.6 171.4,331.6 171.9,331.6 172.4,331.6 172.9,331.6 173.4,331.6 173.9,331.6 174.4,331.6 175.0,331.6 175.5,331.6 176.0,331.6 176.5,331.6 177.0,331.6 177.5,331.6 178.0,331.6 178.5,331.6 179.0,331.6 179.5,331.6 180.0,331.6 180.5,331.6 181.0,331.6 181.5,331.6 182.0,331.6 182.5,331.7 183.0,331.7 183.6,331.7 184.1,331.7 184.6,331.7 185.1,331.7 185.6,331.7 186.1,331.7 186.6,331.7 187.1,331.7 187.6,331.7 188.1,331.7 188.6,331.7 189.1,331.7 189.6,331.7 190.1,331.7 190.6,331.7 191.1,331.7 191.6,331.7 192.2,331.7 192.7,331.7 193.2,331.7 193.7,331.7 194.2,331.7 194.7,331.7 195.2,331.7 195.7,331.7 196.2,331.7 196.7,331.7 197.2,331.7 197.7,331.7" fill="none" stroke="#2a9468" stroke-width="1.08" stroke-linejoin="round"/><path d="M56.0,337.4 56.5,337.4 57.1,337.4 57.6,337.4 58.1,337.3 58.6,337.3 59.1,337.3 59.6,337.3 60.1,337.3 60.6,337.3 61.1,337.3 61.6,337.3 62.1,337.3 62.6,337.3 63.1,337.3 63.6,337.3 64.1,337.3 64.6,337.3 65.1,337.3 65.7,337.3 66.2,337.3 66.7,337.3 67.2,337.3 67.7,337.3 68.2,337.3 68.7,337.3 69.2,337.3 69.7,337.3 70.2,337.3 70.7,337.3 71.2,337.3 71.7,337.3 72.2,337.3 72.7,337.3 73.2,337.3 73.8,337.3 74.3,337.3 74.8,337.3 75.3,337.3 75.8,337.3 76.3,337.3 76.8,337.3 77.3,337.3 77.8,337.2 78.3,337.2 78.8,337.2 79.3,337.2 79.8,337.2 80.3,337.2 80.8,337.2 81.3,337.2 81.8,337.2 82.4,337.2 82.9,337.2 83.4,337.2 83.9,337.2 84.4,337.2 84.9,337.1 85.4,337.1 85.9,337.1 86.4,337.1 86.9,337.1 87.4,337.1 87.9,337.0 88.4,337.0 88.9,337.0 89.4,337.0 89.9,336.9 90.4,336.9 91.0,336.8 91.5,336.7 92.0,336.6 92.5,336.5 93.0,336.4 93.5,336.3 94.0,336.1 94.5,335.9 95.0,335.7 95.5,335.4 96.0,335.1 96.5,334.7 97.0,334.3 97.5,333.8 98.0,333.3 98.5,332.7 99.1,332.1 99.6,331.4 100.1,330.6 100.6,329.7 101.1,328.9 101.6,327.9 102.1,326.9 102.6,325.9 103.1,324.9 103.6,323.9 104.1,322.8 104.6,321.8 105.1,320.8 105.6,319.8 106.1,319.0 106.6,318.2 107.1,317.5 107.7,316.9 108.2,316.5 108.7,316.2 109.2,316.0 109.7,316.0 110.2,316.1 110.7,316.4 111.2,316.8 111.7,317.4 112.2,318.0 112.7,318.7 113.2,319.5 113.7,320.3 114.2,321.2 114.7,322.0 115.2,322.9 115.7,323.8 116.3,324.6 116.8,325.4 117.3,326.2 117.8,326.9 118.3,327.5 118.8,328.1 119.3,328.6 119.8,329.1 120.3,329.5 120.8,329.9 121.3,330.2 121.8,330.5 122.3,330.7 122.8,330.9 123.3,331.1 123.8,331.2 124.4,331.3 124.9,331.4 125.4,331.5 125.9,331.6 126.4,331.6 126.9,331.6 127.4,331.7 127.9,331.7 128.4,331.7 128.9,331.7 129.4,331.7 129.9,331.7 130.4,331.8 130.9,331.8 131.4,331.8 131.9,331.8 132.4,331.8 133.0,331.8 133.5,331.8 134.0,331.8 134.5,331.8 135.0,331.8 135.5,331.8 136.0,331.8 136.5,331.8 137.0,331.8 137.5,331.8 138.0,331.8 138.5,331.8 139.0,331.8 139.5,331.8 140.0,331.8 140.5,331.8 141.0,331.8 141.6,331.8 142.1,331.8 142.6,331.8 143.1,331.8 143.6,331.8 144.1,331.8 144.6,331.8 145.1,331.8 145.6,331.8 146.1,331.8 146.6,331.8 147.1,331.8 147.6,331.8 148.1,331.8 148.6,331.8 149.1,331.8 149.7,331.8 150.2,331.8 150.7,331.8 151.2,331.8 151.7,331.8 152.2,331.8 152.7,331.8 153.2,331.8 153.7,331.8 154.2,331.8 154.7,331.8 155.2,331.8 155.7,331.8 156.2,331.8 156.7,331.8 157.2,331.8 157.7,331.8 158.3,331.8 158.8,331.8 159.3,331.8 159.8,331.8 160.3,331.8 160.8,331.8 161.3,331.8 161.8,331.8 162.3,331.8 162.8,331.8 163.3,331.8 163.8,331.8 164.3,331.8 164.8,331.8 165.3,331.8 165.8,331.8 166.3,331.8 166.9,331.8 167.4,331.8 167.9,331.8 168.4,331.8 168.9,331.8 169.4,331.8 169.9,331.8 170.4,331.8 170.9,331.8 171.4,331.8 171.9,331.8 172.4,331.8 172.9,331.8 173.4,331.8 173.9,331.8 174.4,331.8 175.0,331.8 175.5,331.8 176.0,331.8 176.5,331.8 177.0,331.8 177.5,331.8 178.0,331.8 178.5,331.8 179.0,331.8 179.5,331.8 180.0,331.8 180.5,331.8 181.0,331.8 181.5,331.8 182.0,331.8 182.5,331.8 183.0,331.8 183.6,331.8 184.1,331.8 184.6,331.8 185.1,331.8 185.6,331.8 186.1,331.8 186.6,331.8 187.1,331.8 187.6,331.8 188.1,331.8 188.6,331.8 189.1,331.8 189.6,331.8 190.1,331.8 190.6,331.8 191.1,331.8 191.6,331.8 192.2,331.8 192.7,331.8 193.2,331.8 193.7,331.8 194.2,331.8 194.7,331.8 195.2,331.8 195.7,331.8 196.2,331.8 196.7,331.8 197.2,331.8 197.7,331.8" fill="none" stroke="#b078c8" stroke-width="0.9" stroke-linejoin="round"/><path d="M56.0,337.4 56.5,337.4 57.1,337.4 57.6,337.4 58.1,337.4 58.6,337.4 59.1,337.4 59.6,337.4 60.1,337.4 60.6,337.4 61.1,337.4 61.6,337.4 62.1,337.4 62.6,337.4 63.1,337.4 63.6,337.4 64.1,337.4 64.6,337.4 65.1,337.4 65.7,337.4 66.2,337.4 66.7,337.4 67.2,337.4 67.7,337.3 68.2,337.3 68.7,337.3 69.2,337.3 69.7,337.3 70.2,337.3 70.7,337.3 71.2,337.3 71.7,337.3 72.2,337.3 72.7,337.3 73.2,337.3 73.8,337.3 74.3,337.3 74.8,337.3 75.3,337.3 75.8,337.3 76.3,337.3 76.8,337.3 77.3,337.3 77.8,337.3 78.3,337.3 78.8,337.3 79.3,337.3 79.8,337.3 80.3,337.3 80.8,337.3 81.3,337.3 81.8,337.3 82.4,337.3 82.9,337.3 83.4,337.3 83.9,337.3 84.4,337.3 84.9,337.2 85.4,337.2 85.9,337.2 86.4,337.2 86.9,337.2 87.4,337.2 87.9,337.2 88.4,337.2 88.9,337.1 89.4,337.1 89.9,337.1 90.4,337.1 91.0,337.0 91.5,337.0 92.0,336.9 92.5,336.9 93.0,336.8 93.5,336.8 94.0,336.7 94.5,336.6 95.0,336.5 95.5,336.4 96.0,336.3 96.5,336.1 97.0,336.0 97.5,335.8 98.0,335.7 98.5,335.5 99.1,335.3 99.6,335.2 100.1,335.0 100.6,334.8 101.1,334.6 101.6,334.4 102.1,334.2 102.6,334.1 103.1,333.9 103.6,333.7 104.1,333.5 104.6,333.4 105.1,333.2 105.6,333.1 106.1,332.9 106.6,332.8 107.1,332.7 107.7,332.5 108.2,332.4 108.7,332.2 109.2,332.1 109.7,332.0 110.2,331.8 110.7,331.7 111.2,331.5 111.7,331.4 112.2,331.2 112.7,331.1 113.2,330.9 113.7,330.8 114.2,330.6 114.7,330.5 115.2,330.3 115.7,330.1 116.3,330.0 116.8,329.9 117.3,329.7 117.8,329.6 118.3,329.5 118.8,329.4 119.3,329.3 119.8,329.2 120.3,329.1 120.8,329.1 121.3,329.0 121.8,329.0 122.3,329.0 122.8,329.0 123.3,329.0 123.8,329.1 124.4,329.2 124.9,329.2 125.4,329.3 125.9,329.4 126.4,329.5 126.9,329.6 127.4,329.8 127.9,329.9 128.4,330.0 128.9,330.1 129.4,330.3 129.9,330.4 130.4,330.5 130.9,330.6 131.4,330.7 131.9,330.8 132.4,330.9 133.0,331.0 133.5,331.1 134.0,331.2 134.5,331.3 135.0,331.3 135.5,331.4 136.0,331.5 136.5,331.5 137.0,331.6 137.5,331.6 138.0,331.6 138.5,331.7 139.0,331.7 139.5,331.7 140.0,331.7 140.5,331.7 141.0,331.8 141.6,331.8 142.1,331.8 142.6,331.8 143.1,331.8 143.6,331.8 144.1,331.8 144.6,331.8 145.1,331.8 145.6,331.8 146.1,331.8 146.6,331.8 147.1,331.8 147.6,331.8 148.1,331.8 148.6,331.8 149.1,331.8 149.7,331.8 150.2,331.8 150.7,331.8 151.2,331.8 151.7,331.8 152.2,331.8 152.7,331.8 153.2,331.8 153.7,331.8 154.2,331.8 154.7,331.8 155.2,331.8 155.7,331.8 156.2,331.8 156.7,331.8 157.2,331.8 157.7,331.8 158.3,331.8 158.8,331.8 159.3,331.8 159.8,331.8 160.3,331.8 160.8,331.8 161.3,331.8 161.8,331.8 162.3,331.8 162.8,331.8 163.3,331.8 163.8,331.8 164.3,331.8 164.8,331.8 165.3,331.8 165.8,331.8 166.3,331.8 166.9,331.8 167.4,331.8 167.9,331.8 168.4,331.8 168.9,331.8 169.4,331.8 169.9,331.8 170.4,331.8 170.9,331.8 171.4,331.8 171.9,331.8 172.4,331.8 172.9,331.8 173.4,331.8 173.9,331.8 174.4,331.8 175.0,331.8 175.5,331.8 176.0,331.8 176.5,331.8 177.0,331.8 177.5,331.8 178.0,331.8 178.5,331.8 179.0,331.8 179.5,331.8 180.0,331.8 180.5,331.8 181.0,331.8 181.5,331.8 182.0,331.8 182.5,331.8 183.0,331.8 183.6,331.8 184.1,331.8 184.6,331.8 185.1,331.8 185.6,331.8 186.1,331.8 186.6,331.8 187.1,331.8 187.6,331.8 188.1,331.8 188.6,331.8 189.1,331.8 189.6,331.8 190.1,331.8 190.6,331.8 191.1,331.8 191.6,331.8 192.2,331.8 192.7,331.8 193.2,331.8 193.7,331.8 194.2,331.8 194.7,331.8 195.2,331.8 195.7,331.8 196.2,331.8 196.7,331.8 197.2,331.8 197.7,331.8" fill="none" stroke="#c0a040" stroke-width="0.9" stroke-linejoin="round"/><path d="M56.0,337.4 56.5,337.4 57.1,337.4 57.6,337.4 58.1,337.4 58.6,337.4 59.1,337.4 59.6,337.4 60.1,337.4 60.6,337.4 61.1,337.4 61.6,337.4 62.1,337.4 62.6,337.4 63.1,337.4 63.6,337.4 64.1,337.4 64.6,337.4 65.1,337.4 65.7,337.4 66.2,337.4 66.7,337.4 67.2,337.4 67.7,337.4 68.2,337.4 68.7,337.4 69.2,337.4 69.7,337.3 70.2,337.3 70.7,337.3 71.2,337.3 71.7,337.3 72.2,337.3 72.7,337.3 73.2,337.3 73.8,337.3 74.3,337.3 74.8,337.3 75.3,337.3 75.8,337.3 76.3,337.3 76.8,337.3 77.3,337.3 77.8,337.3 78.3,337.3 78.8,337.3 79.3,337.3 79.8,337.3 80.3,337.3 80.8,337.3 81.3,337.3 81.8,337.3 82.4,337.3 82.9,337.3 83.4,337.3 83.9,337.3 84.4,337.3 84.9,337.3 85.4,337.3 85.9,337.2 86.4,337.2 86.9,337.2 87.4,337.2 87.9,337.2 88.4,337.2 88.9,337.2 89.4,337.1 89.9,337.1 90.4,337.1 91.0,337.1 91.5,337.0 92.0,337.0 92.5,336.9 93.0,336.9 93.5,336.8 94.0,336.7 94.5,336.6 95.0,336.5 95.5,336.4 96.0,336.3 96.5,336.2 97.0,336.0 97.5,335.9 98.0,335.7 98.5,335.6 99.1,335.4 99.6,335.2 100.1,335.0 100.6,334.8 101.1,334.7 101.6,334.5 102.1,334.3 102.6,334.2 103.1,334.0 103.6,333.8 104.1,333.7 104.6,333.6 105.1,333.4 105.6,333.3 106.1,333.2 106.6,333.1 107.1,333.0 107.7,332.9 108.2,332.8 108.7,332.8 109.2,332.7 109.7,332.6 110.2,332.6 110.7,332.5 111.2,332.5 111.7,332.4 112.2,332.4 112.7,332.4 113.2,332.3 113.7,332.3 114.2,332.3 114.7,332.2 115.2,332.2 115.7,332.2 116.3,332.2 116.8,332.2 117.3,332.1 117.8,332.1 118.3,332.1 118.8,332.1 119.3,332.1 119.8,332.1 120.3,332.1 120.8,332.0 121.3,332.0 121.8,332.0 122.3,332.0 122.8,332.0 123.3,332.0 123.8,332.0 124.4,332.0 124.9,332.0 125.4,332.0 125.9,332.0 126.4,331.9 126.9,331.9 127.4,331.9 127.9,331.9 128.4,331.9 128.9,331.9 129.4,331.9 129.9,331.9 130.4,331.9 130.9,331.9 131.4,331.9 131.9,331.9 132.4,331.9 133.0,331.9 133.5,331.9 134.0,331.9 134.5,331.9 135.0,331.9 135.5,331.9 136.0,331.9 136.5,331.9 137.0,331.9 137.5,331.9 138.0,331.9 138.5,331.9 139.0,331.9 139.5,331.9 140.0,331.9 140.5,331.9 141.0,331.9 141.6,331.8 142.1,331.8 142.6,331.8 143.1,331.8 143.6,331.8 144.1,331.8 144.6,331.8 145.1,331.8 145.6,331.8 146.1,331.8 146.6,331.8 147.1,331.8 147.6,331.8 148.1,331.8 148.6,331.8 149.1,331.8 149.7,331.7 150.2,331.7 150.7,331.7 151.2,331.7 151.7,331.7 152.2,331.7 152.7,331.7 153.2,331.6 153.7,331.6 154.2,331.6 154.7,331.6 155.2,331.5 155.7,331.5 156.2,331.5 156.7,331.5 157.2,331.4 157.7,331.4 158.3,331.4 158.8,331.3 159.3,331.3 159.8,331.3 160.3,331.3 160.8,331.2 161.3,331.2 161.8,331.2 162.3,331.1 162.8,331.1 163.3,331.1 163.8,331.1 164.3,331.1 164.8,331.0 165.3,331.0 165.8,331.0 166.3,331.0 166.9,331.0 167.4,331.0 167.9,331.0 168.4,331.0 168.9,331.0 169.4,331.0 169.9,331.0 170.4,331.0 170.9,331.1 171.4,331.1 171.9,331.1 172.4,331.1 172.9,331.1 173.4,331.2 173.9,331.2 174.4,331.2 175.0,331.2 175.5,331.3 176.0,331.3 176.5,331.3 177.0,331.3 177.5,331.4 178.0,331.4 178.5,331.4 179.0,331.5 179.5,331.5 180.0,331.5 180.5,331.5 181.0,331.5 181.5,331.6 182.0,331.6 182.5,331.6 183.0,331.6 183.6,331.6 184.1,331.6 184.6,331.7 185.1,331.7 185.6,331.7 186.1,331.7 186.6,331.7 187.1,331.7 187.6,331.7 188.1,331.7 188.6,331.7 189.1,331.7 189.6,331.7 190.1,331.7 190.6,331.7 191.1,331.7 191.6,331.7 192.2,331.7 192.7,331.7 193.2,331.7 193.7,331.8 194.2,331.8 194.7,331.8 195.2,331.8 195.7,331.8 196.2,331.8 196.7,331.8 197.2,331.8 197.7,331.8" fill="none" stroke="#40c8c8" stroke-width="0.9" stroke-linejoin="round"/><path d="M56.0,337.4 56.5,337.4 57.1,337.4 57.6,337.4 58.1,337.4 58.6,337.4 59.1,337.4 59.6,337.4 60.1,337.4 60.6,337.4 61.1,337.4 61.6,337.4 62.1,337.4 62.6,337.4 63.1,337.4 63.6,337.4 64.1,337.4 64.6,337.4 65.1,337.4 65.7,337.4 66.2,337.4 66.7,337.4 67.2,337.4 67.7,337.4 68.2,337.4 68.7,337.4 69.2,337.4 69.7,337.4 70.2,337.3 70.7,337.3 71.2,337.3 71.7,337.3 72.2,337.3 72.7,337.3 73.2,337.3 73.8,337.3 74.3,337.3 74.8,337.3 75.3,337.3 75.8,337.3 76.3,337.3 76.8,337.3 77.3,337.3 77.8,337.3 78.3,337.3 78.8,337.3 79.3,337.3 79.8,337.3 80.3,337.3 80.8,337.3 81.3,337.3 81.8,337.3 82.4,337.3 82.9,337.3 83.4,337.3 83.9,337.3 84.4,337.3 84.9,337.3 85.4,337.3 85.9,337.2 86.4,337.2 86.9,337.2 87.4,337.2 87.9,337.2 88.4,337.2 88.9,337.2 89.4,337.1 89.9,337.1 90.4,337.1 91.0,337.1 91.5,337.0 92.0,337.0 92.5,336.9 93.0,336.9 93.5,336.8 94.0,336.7 94.5,336.6 95.0,336.5 95.5,336.4 96.0,336.3 96.5,336.2 97.0,336.0 97.5,335.9 98.0,335.7 98.5,335.6 99.1,335.4 99.6,335.2 100.1,335.0 100.6,334.9 101.1,334.7 101.6,334.5 102.1,334.3 102.6,334.2 103.1,334.0 103.6,333.8 104.1,333.7 104.6,333.6 105.1,333.4 105.6,333.3 106.1,333.2 106.6,333.1 107.1,333.0 107.7,332.9 108.2,332.8 108.7,332.8 109.2,332.7 109.7,332.6 110.2,332.6 110.7,332.5 111.2,332.5 111.7,332.4 112.2,332.4 112.7,332.4 113.2,332.3 113.7,332.3 114.2,332.3 114.7,332.2 115.2,332.2 115.7,332.2 116.3,332.2 116.8,332.2 117.3,332.1 117.8,332.1 118.3,332.1 118.8,332.1 119.3,332.1 119.8,332.1 120.3,332.1 120.8,332.0 121.3,332.0 121.8,332.0 122.3,332.0 122.8,332.0 123.3,332.0 123.8,332.0 124.4,332.0 124.9,332.0 125.4,332.0 125.9,332.0 126.4,332.0 126.9,331.9 127.4,331.9 127.9,331.9 128.4,331.9 128.9,331.9 129.4,331.9 129.9,331.9 130.4,331.9 130.9,331.9 131.4,331.9 131.9,331.9 132.4,331.9 133.0,331.9 133.5,331.9 134.0,331.9 134.5,331.9 135.0,331.9 135.5,331.9 136.0,331.9 136.5,331.9 137.0,331.9 137.5,331.9 138.0,331.9 138.5,331.9 139.0,331.9 139.5,331.9 140.0,331.9 140.5,331.9 141.0,331.9 141.6,331.9 142.1,331.9 142.6,331.9 143.1,331.9 143.6,331.9 144.1,331.9 144.6,331.9 145.1,331.9 145.6,331.9 146.1,331.9 146.6,331.9 147.1,331.9 147.6,331.9 148.1,331.9 148.6,331.9 149.1,331.9 149.7,331.9 150.2,331.9 150.7,331.9 151.2,331.9 151.7,331.8 152.2,331.8 152.7,331.8 153.2,331.8 153.7,331.8 154.2,331.8 154.7,331.8 155.2,331.8 155.7,331.8 156.2,331.8 156.7,331.8 157.2,331.8 157.7,331.8 158.3,331.8 158.8,331.8 159.3,331.8 159.8,331.8 160.3,331.8 160.8,331.8 161.3,331.8 161.8,331.8 162.3,331.8 162.8,331.8 163.3,331.8 163.8,331.8 164.3,331.8 164.8,331.8 165.3,331.8 165.8,331.8 166.3,331.8 166.9,331.8 167.4,331.8 167.9,331.8 168.4,331.8 168.9,331.8 169.4,331.8 169.9,331.8 170.4,331.8 170.9,331.8 171.4,331.8 171.9,331.8 172.4,331.8 172.9,331.8 173.4,331.8 173.9,331.8 174.4,331.8 175.0,331.8 175.5,331.8 176.0,331.8 176.5,331.8 177.0,331.8 177.5,331.8 178.0,331.8 178.5,331.8 179.0,331.8 179.5,331.8 180.0,331.8 180.5,331.8 181.0,331.8 181.5,331.8 182.0,331.8 182.5,331.8 183.0,331.8 183.6,331.8 184.1,331.8 184.6,331.8 185.1,331.8 185.6,331.8 186.1,331.8 186.6,331.8 187.1,331.8 187.6,331.8 188.1,331.8 188.6,331.8 189.1,331.8 189.6,331.8 190.1,331.8 190.6,331.8 191.1,331.8 191.6,331.8 192.2,331.8 192.7,331.8 193.2,331.8 193.7,331.8 194.2,331.8 194.7,331.8 195.2,331.8 195.7,331.8 196.2,331.8 196.7,331.8 197.2,331.8 197.7,331.8" fill="none" stroke="#20b0b0" stroke-width="1.1"/></g>
<rect x="35.9" y="213.5" width="182.1" height="138" fill="none" stroke="#3c3c3c" stroke-width="1.1"/>
<path d="M35.80,351.50 V348.90 M45.92,351.50 V349.90 M56.04,351.50 V348.90 M66.16,351.50 V349.90 M76.28,351.50 V348.90 M86.40,351.50 V349.90 M96.52,351.50 V348.90 M106.64,351.50 V349.90 M116.76,351.50 V348.90 M126.88,351.50 V349.90 M137.00,351.50 V348.90 M147.12,351.50 V349.90 M157.24,351.50 V348.90 M167.36,351.50 V349.90 M177.48,351.50 V348.90 M187.60,351.50 V349.90 M197.72,351.50 V348.90 M207.84,351.50 V349.90 M217.96,351.50 V348.90 M35.90,340.90 H38.50 M35.90,319.73 H38.50 M35.90,298.56 H38.50 M35.90,277.39 H38.50 M35.90,256.22 H38.50 M35.90,235.05 H38.50 M35.90,213.88 H38.50 M35.90,330.31 H37.50 M35.90,309.14 H37.50 M35.90,287.97 H37.50 M35.90,266.80 H37.50 M35.90,245.63 H37.50 M35.90,224.46 H37.50 M35.90,351.48 H37.50" stroke="#3c3c3c" stroke-width="1.15" fill="none"/>
<text x="35.8" y="359.6" font-size="5.8" text-anchor="middle" fill="#222" stroke="#222" font-weight="normal" font-family="Liberation Sans" >278</text>
<text x="56.04" y="359.6" font-size="5.8" text-anchor="middle" fill="#222" stroke="#222" font-weight="normal" font-family="Liberation Sans" >280</text>
<text x="76.28" y="359.6" font-size="5.8" text-anchor="middle" fill="#222" stroke="#222" font-weight="normal" font-family="Liberation Sans" >282</text>
<text x="96.52" y="359.6" font-size="5.8" text-anchor="middle" fill="#222" stroke="#222" font-weight="normal" font-family="Liberation Sans" >284</text>
<text x="116.76" y="359.6" font-size="5.8" text-anchor="middle" fill="#222" stroke="#222" font-weight="normal" font-family="Liberation Sans" >286</text>
<text x="137" y="359.6" font-size="5.8" text-anchor="middle" fill="#222" stroke="#222" font-weight="normal" font-family="Liberation Sans" >288</text>
<text x="157.24" y="359.6" font-size="5.8" text-anchor="middle" fill="#222" stroke="#222" font-weight="normal" font-family="Liberation Sans" >290</text>
<text x="177.48" y="359.6" font-size="5.8" text-anchor="middle" fill="#222" stroke="#222" font-weight="normal" font-family="Liberation Sans" >292</text>
<text x="197.72" y="359.6" font-size="5.8" text-anchor="middle" fill="#222" stroke="#222" font-weight="normal" font-family="Liberation Sans" >294</text>
<text x="217.96" y="359.6" font-size="5.8" text-anchor="middle" fill="#222" stroke="#222" font-weight="normal" font-family="Liberation Sans" >296</text>
<text x="33" y="342.89" font-size="5.7" text-anchor="end" fill="#222" stroke="#222" font-weight="normal" font-family="Liberation Sans" >0,0</text>
<text x="33" y="321.72" font-size="5.7" text-anchor="end" fill="#222" stroke="#222" font-family="Liberation Sans">2,0x10<tspan font-size="3.53" dy="-2.39">3</tspan></text>
<text x="33" y="300.55" font-size="5.7" text-anchor="end" fill="#222" stroke="#222" font-family="Liberation Sans">4,0x10<tspan font-size="3.53" dy="-2.39">3</tspan></text>
<text x="33" y="279.38" font-size="5.7" text-anchor="end" fill="#222" stroke="#222" font-family="Liberation Sans">6,0x10<tspan font-size="3.53" dy="-2.39">3</tspan></text>
<text x="33" y="258.21" font-size="5.7" text-anchor="end" fill="#222" stroke="#222" font-family="Liberation Sans">8,0x10<tspan font-size="3.53" dy="-2.39">3</tspan></text>
<text x="33" y="237.04" font-size="5.7" text-anchor="end" fill="#222" stroke="#222" font-family="Liberation Sans">1,0x10<tspan font-size="3.53" dy="-2.39">4</tspan></text>
<text x="33" y="215.87" font-size="5.7" text-anchor="end" fill="#222" stroke="#222" font-family="Liberation Sans">1,2x10<tspan font-size="3.53" dy="-2.39">4</tspan></text>
<text x="126.7" y="370.6" font-size="7.1" text-anchor="middle" fill="#222" stroke="#222" font-weight="normal" font-family="Liberation Sans" >Binding Energy, eV</text>
<text x="0" y="0" font-size="6.8" text-anchor="middle" fill="#222" stroke="#222" font-weight="normal" font-family="Liberation Sans" transform="translate(7.9,287) rotate(-90)">Intensity, Arb. units</text>
<text x="41.1" y="224.5" font-size="7.05" font-family="Liberation Sans" fill="#111" stroke="#111">sp<tspan font-size="4.23" dy="2.11">3</tspan><tspan dy="-2.11">/sp</tspan><tspan font-size="4.23" dy="2.11">2</tspan><tspan dy="-2.11">=0.16</tspan></text>
<text x="147.8" y="222.8" font-size="7" font-family="Liberation Sans" fill="#111" stroke="#111">C1s</text>
<text x="147.8" y="231" font-size="7" font-family="Liberation Sans" fill="#111" stroke="#111">HQ+H<tspan font-size="4.2" dy="2.1">2</tspan><tspan dy="-2.1">O, 266nm</tspan></text>
<text x="121.6" y="249" font-size="7.2" font-family="Liberation Sans" fill="#111" stroke="#111" font-weight="normal">Position (eV)</text>
<text x="172.2" y="249" font-size="7.2" font-family="Liberation Sans" fill="#111" stroke="#111" font-weight="normal">Area (%)</text>
<text x="159.6" y="255.9" font-size="7" font-family="Liberation Sans" fill="#2a8a48" stroke="#2a8a48" text-anchor="end" font-weight="normal">284.3</text>
<text x="188.2" y="255.9" font-size="7" font-family="Liberation Sans" fill="#2a8a48" stroke="#2a8a48" text-anchor="end" font-weight="normal">81.7</text>
<text x="159.6" y="264.4" font-size="7" font-family="Liberation Sans" fill="#9050b0" stroke="#9050b0" text-anchor="end" font-weight="normal">285.3</text>
<text x="188.2" y="264.4" font-size="7" font-family="Liberation Sans" fill="#9050b0" stroke="#9050b0" text-anchor="end" font-weight="normal">13.5</text>
<text x="159.6" y="272.9" font-size="7" font-family="Liberation Sans" fill="#a08050" stroke="#a08050" text-anchor="end" font-weight="normal">286.5</text>
<text x="188.2" y="272.9" font-size="7" font-family="Liberation Sans" fill="#a08050" stroke="#a08050" text-anchor="end" font-weight="normal">3.1</text>
<text x="159.6" y="281.4" font-size="7" font-family="Liberation Sans" fill="#40d0e0" stroke="#40d0e0" text-anchor="end" font-weight="normal">291.0</text>
<text x="188.2" y="281.4" font-size="7" font-family="Liberation Sans" fill="#40d0e0" stroke="#40d0e0" text-anchor="end" font-weight="normal">1.7</text>
<rect x="104.5" y="346.4" width="3" height="3" fill="none" stroke="#444" stroke-width="0.85"/>
<g><path d="M293.1,337.8 293.6,337.8 294.2,337.9 294.7,337.9 295.3,337.9 295.8,337.9 296.3,337.9 296.9,337.8 297.4,337.8 298.0,337.7 298.5,337.7 299.0,337.7 299.6,337.7 300.1,337.7 300.7,337.8 301.2,337.7 301.7,337.7 302.3,337.5 302.8,337.6 303.4,337.5 303.9,337.5 304.4,337.3 305.0,337.3 305.5,337.2 306.1,337.3 306.6,337.5 307.1,337.6 307.7,337.4 308.2,337.3 308.8,337.2 309.3,337.1 309.8,337.2 310.4,337.0 310.9,337.2 311.5,337.1 312.0,337.2 312.5,336.8 313.1,336.6 313.6,336.4 314.2,336.4 314.7,336.5 315.2,336.3 315.8,336.4 316.3,336.4 316.9,336.6 317.4,336.4 317.9,335.9 318.5,335.6 319.0,335.6 319.6,335.4 320.1,335.3 320.6,335.1 321.2,335.0 321.7,334.8 322.3,334.6 322.8,334.4 323.3,334.0 323.9,333.6 324.4,332.9 325.0,332.4 325.5,331.9 326.0,331.2 326.6,330.0 327.1,328.7 327.7,327.4 328.2,326.1 328.7,324.2 329.3,322.0 329.8,319.5 330.4,316.4 330.9,313.1 331.4,309.4 332.0,305.3 332.5,300.7 333.1,295.9 333.6,290.7 334.1,285.3 334.7,279.4 335.2,273.6 335.8,267.5 336.3,261.3 336.8,255.2 337.4,249.6 337.9,244.4 338.5,239.8 339.0,235.8 339.5,232.5 340.1,230.3 340.6,229.2 341.2,229.3 341.7,230.5 342.2,232.6 342.8,235.6 343.3,239.4 343.9,243.6 344.4,248.0 344.9,252.7 345.5,257.7 346.0,262.9 346.6,268.0 347.1,272.7 347.6,277.2 348.2,281.6 348.7,285.7 349.3,289.5 349.8,292.8 350.3,296.0 350.9,298.7 351.4,301.5 352.0,303.9 352.5,306.1 353.0,307.9 353.6,309.6 354.1,311.3 354.7,312.9 355.2,314.2 355.7,315.3 356.3,316.5 356.8,317.4 357.4,318.3 357.9,319.2 358.4,320.1 359.0,320.8 359.5,321.4 360.1,322.0 360.6,322.6 361.1,323.1 361.7,323.6 362.2,324.1 362.8,324.6 363.3,325.1 363.8,325.6 364.4,325.9 364.9,326.3 365.5,326.7 366.0,327.1 366.5,327.4 367.1,327.7 367.6,328.0 368.2,328.2 368.7,328.2 369.2,328.6 369.8,328.8 370.3,329.2 370.9,329.5 371.4,329.6 371.9,329.8 372.5,330.0 373.0,330.2 373.6,330.4 374.1,330.7 374.6,330.7 375.2,330.8 375.7,330.7 376.3,330.6 376.8,331.0 377.3,331.1 377.9,331.2 378.4,331.1 379.0,331.3 379.5,331.5 380.0,331.5 380.6,331.6 381.1,331.6 381.7,331.8 382.2,331.7 382.7,331.8 383.3,332.0 383.8,332.0 384.4,332.2 384.9,332.1 385.4,332.0 386.0,331.9 386.5,332.0 387.1,332.0 387.6,332.1 388.1,331.9 388.7,332.0 389.2,332.1 389.8,332.2 390.3,332.0 390.8,332.0 391.4,331.9 391.9,331.9 392.5,332.1 393.0,332.3 393.5,332.2 394.1,332.1 394.6,331.9 395.2,331.9 395.7,331.9 396.2,331.9 396.8,332.0 397.3,332.0 397.9,331.9 398.4,332.0 398.9,331.7 399.5,331.8 400.0,331.6 400.6,331.8 401.1,331.7 401.6,331.8 402.2,331.8 402.7,331.9 403.3,331.6 403.8,331.5 404.3,331.3 404.9,331.4 405.4,331.4 406.0,331.6 406.5,331.5 407.0,331.5 407.6,331.4 408.1,331.3 408.7,331.4 409.2,331.4 409.7,331.5 410.3,331.4 410.8,331.3 411.4,331.3 411.9,331.2 412.4,331.3 413.0,331.3 413.5,331.6 414.1,331.6 414.6,331.5 415.1,331.6 415.7,331.6 416.2,331.6 416.8,331.6 417.3,331.7 417.8,331.7 418.4,331.7 418.9,331.7 419.5,331.7 420.0,331.7 420.5,331.8 421.1,331.9 421.6,332.1 422.2,332.1 422.7,332.2 423.2,332.2 423.8,332.2 424.3,332.0 424.9,332.2 425.4,332.1 425.9,332.3 426.5,332.2 427.0,332.5 427.6,332.5 428.1,332.5 428.6,332.4 429.2,332.4 429.7,332.4 430.3,332.3 430.8,332.4 431.3,332.5 431.9,332.6 432.4,332.5 433.0,332.3 433.5,332.2 434.0,332.4 434.6,332.5 435.1,332.5 435.7,332.3 436.2,332.4 436.7,332.5 437.3,332.6 437.8,332.5 438.4,332.5 438.9,332.3 439.4,332.3 440.0,332.4 440.5,332.5 441.1,332.4 441.6,332.4 442.1,332.5 442.7,332.8 443.2,332.7 443.8,332.7 444.3,332.5" fill="none" stroke="#333" stroke-width="0.6" opacity="1"/><path d="M293.1,337.9 293.6,337.9 294.2,337.9 294.7,337.8 295.3,337.8 295.8,337.8 296.3,337.8 296.9,337.8 297.4,337.8 298.0,337.7 298.5,337.7 299.0,337.7 299.6,337.7 300.1,337.7 300.7,337.6 301.2,337.6 301.7,337.6 302.3,337.6 302.8,337.5 303.4,337.5 303.9,337.5 304.4,337.4 305.0,337.4 305.5,337.4 306.1,337.4 306.6,337.3 307.1,337.3 307.7,337.2 308.2,337.2 308.8,337.2 309.3,337.1 309.8,337.1 310.4,337.0 310.9,337.0 311.5,336.9 312.0,336.9 312.5,336.8 313.1,336.7 313.6,336.7 314.2,336.6 314.7,336.5 315.2,336.5 315.8,336.4 316.3,336.3 316.9,336.2 317.4,336.1 317.9,336.0 318.5,335.9 319.0,335.7 319.6,335.6 320.1,335.4 320.6,335.3 321.2,335.1 321.7,334.8 322.3,334.6 322.8,334.3 323.3,333.9 323.9,333.5 324.4,333.0 325.0,332.5 325.5,331.8 326.0,331.0 326.6,330.0 327.1,328.8 327.7,327.5 328.2,325.9 328.7,324.0 329.3,321.8 329.8,319.3 330.4,316.4 330.9,313.1 331.4,309.5 332.0,305.4 332.5,301.0 333.1,296.1 333.6,290.9 334.1,285.3 334.7,279.5 335.2,273.5 335.8,267.4 336.3,261.3 336.8,255.3 337.4,249.6 337.9,244.3 338.5,239.6 339.0,235.7 339.5,232.6 340.1,230.5 340.6,229.5 341.2,229.5 341.7,230.7 342.2,232.7 342.8,235.7 343.3,239.3 343.9,243.5 344.4,248.1 344.9,252.9 345.5,257.9 346.0,262.9 346.6,267.9 347.1,272.6 347.6,277.2 348.2,281.6 348.7,285.6 349.3,289.4 349.8,292.9 350.3,296.1 350.9,298.9 351.4,301.6 352.0,303.9 352.5,306.1 353.0,308.0 353.6,309.8 354.1,311.4 354.7,312.8 355.2,314.1 355.7,315.3 356.3,316.4 356.8,317.4 357.4,318.4 357.9,319.2 358.4,320.0 359.0,320.8 359.5,321.4 360.1,322.1 360.6,322.7 361.1,323.2 361.7,323.7 362.2,324.2 362.8,324.6 363.3,325.1 363.8,325.5 364.4,325.8 364.9,326.2 365.5,326.5 366.0,326.8 366.5,327.1 367.1,327.4 367.6,327.7 368.2,328.0 368.7,328.2 369.2,328.5 369.8,328.7 370.3,329.0 370.9,329.2 371.4,329.4 371.9,329.6 372.5,329.8 373.0,330.0 373.6,330.2 374.1,330.4 374.6,330.5 375.2,330.7 375.7,330.8 376.3,330.9 376.8,331.1 377.3,331.2 377.9,331.3 378.4,331.4 379.0,331.4 379.5,331.5 380.0,331.6 380.6,331.7 381.1,331.7 381.7,331.8 382.2,331.8 382.7,331.8 383.3,331.9 383.8,331.9 384.4,331.9 384.9,332.0 385.4,332.0 386.0,332.0 386.5,332.0 387.1,332.0 387.6,332.0 388.1,332.1 388.7,332.1 389.2,332.1 389.8,332.1 390.3,332.1 390.8,332.1 391.4,332.1 391.9,332.1 392.5,332.0 393.0,332.0 393.5,332.0 394.1,332.0 394.6,332.0 395.2,332.0 395.7,332.0 396.2,331.9 396.8,331.9 397.3,331.9 397.9,331.9 398.4,331.8 398.9,331.8 399.5,331.8 400.0,331.7 400.6,331.7 401.1,331.7 401.6,331.7 402.2,331.6 402.7,331.6 403.3,331.6 403.8,331.5 404.3,331.5 404.9,331.5 405.4,331.4 406.0,331.4 406.5,331.4 407.0,331.4 407.6,331.4 408.1,331.4 408.7,331.4 409.2,331.4 409.7,331.4 410.3,331.4 410.8,331.4 411.4,331.4 411.9,331.4 412.4,331.4 413.0,331.4 413.5,331.5 414.1,331.5 414.6,331.5 415.1,331.6 415.7,331.6 416.2,331.6 416.8,331.7 417.3,331.7 417.8,331.7 418.4,331.8 418.9,331.8 419.5,331.9 420.0,331.9 420.5,331.9 421.1,332.0 421.6,332.0 422.2,332.0 422.7,332.1 423.2,332.1 423.8,332.1 424.3,332.2 424.9,332.2 425.4,332.2 425.9,332.2 426.5,332.3 427.0,332.3 427.6,332.3 428.1,332.3 428.6,332.3 429.2,332.4 429.7,332.4 430.3,332.4 430.8,332.4 431.3,332.4 431.9,332.4 432.4,332.4 433.0,332.4 433.5,332.5 434.0,332.5 434.6,332.5 435.1,332.5 435.7,332.5 436.2,332.5 436.7,332.5 437.3,332.5 437.8,332.5 438.4,332.5 438.9,332.5 439.4,332.5 440.0,332.5 440.5,332.5 441.1,332.5 441.6,332.5 442.1,332.5 442.7,332.5 443.2,332.5 443.8,332.5 444.3,332.5" fill="none" stroke="#cc2020" stroke-width="1.3"/><path d="M293.1,337.9 293.6,337.9 294.2,337.9 294.7,337.9 295.3,337.9 295.8,337.8 296.3,337.8 296.9,337.8 297.4,337.8 298.0,337.8 298.5,337.8 299.0,337.7 299.6,337.7 300.1,337.7 300.7,337.7 301.2,337.7 301.7,337.6 302.3,337.6 302.8,337.6 303.4,337.6 303.9,337.5 304.4,337.5 305.0,337.5 305.5,337.4 306.1,337.4 306.6,337.4 307.1,337.3 307.7,337.3 308.2,337.3 308.8,337.2 309.3,337.2 309.8,337.1 310.4,337.1 310.9,337.0 311.5,337.0 312.0,336.9 312.5,336.9 313.1,336.8 313.6,336.7 314.2,336.7 314.7,336.6 315.2,336.5 315.8,336.4 316.3,336.4 316.9,336.3 317.4,336.2 317.9,336.1 318.5,335.9 319.0,335.8 319.6,335.7 320.1,335.5 320.6,335.4 321.2,335.2 321.7,334.9 322.3,334.7 322.8,334.4 323.3,334.1 323.9,333.7 324.4,333.2 325.0,332.6 325.5,331.9 326.0,331.1 326.6,330.2 327.1,329.0 327.7,327.7 328.2,326.1 328.7,324.2 329.3,322.1 329.8,319.6 330.4,316.7 330.9,313.5 331.4,309.9 332.0,305.9 332.5,301.5 333.1,296.7 333.6,291.6 334.1,286.2 334.7,280.5 335.2,274.7 335.8,268.8 336.3,262.9 336.8,257.2 337.4,251.8 337.9,246.8 338.5,242.5 339.0,238.9 339.5,236.3 340.1,234.7 340.6,234.2 341.2,234.8 341.7,236.5 342.2,239.3 342.8,242.9 343.3,247.2 343.9,252.0 344.4,257.3 344.9,262.9 345.5,268.5 346.0,274.2 346.6,279.7 347.1,285.1 347.6,290.2 348.2,295.0 348.7,299.5 349.3,303.6 349.8,307.3 350.3,310.6 350.9,313.6 351.4,316.2 352.0,318.4 352.5,320.4 353.0,322.0 353.6,323.5 354.1,324.7 354.7,325.7 355.2,326.5 355.7,327.2 356.3,327.8 356.8,328.3 357.4,328.7 357.9,329.1 358.4,329.3 359.0,329.6 359.5,329.8 360.1,330.0 360.6,330.2 361.1,330.3 361.7,330.4 362.2,330.5 362.8,330.6 363.3,330.7 363.8,330.8 364.4,330.9 364.9,331.0 365.5,331.0 366.0,331.1 366.5,331.2 367.1,331.2 367.6,331.3 368.2,331.3 368.7,331.4 369.2,331.4 369.8,331.5 370.3,331.5 370.9,331.6 371.4,331.6 371.9,331.6 372.5,331.7 373.0,331.7 373.6,331.7 374.1,331.8 374.6,331.8 375.2,331.8 375.7,331.8 376.3,331.9 376.8,331.9 377.3,331.9 377.9,331.9 378.4,332.0 379.0,332.0 379.5,332.0 380.0,332.0 380.6,332.0 381.1,332.1 381.7,332.1 382.2,332.1 382.7,332.1 383.3,332.1 383.8,332.1 384.4,332.2 384.9,332.2 385.4,332.2 386.0,332.2 386.5,332.2 387.1,332.2 387.6,332.2 388.1,332.2 388.7,332.3 389.2,332.3 389.8,332.3 390.3,332.3 390.8,332.3 391.4,332.3 391.9,332.3 392.5,332.3 393.0,332.3 393.5,332.3 394.1,332.3 394.6,332.3 395.2,332.4 395.7,332.4 396.2,332.4 396.8,332.4 397.3,332.4 397.9,332.4 398.4,332.4 398.9,332.4 399.5,332.4 400.0,332.4 400.6,332.4 401.1,332.4 401.6,332.4 402.2,332.4 402.7,332.4 403.3,332.4 403.8,332.4 404.3,332.4 404.9,332.4 405.4,332.4 406.0,332.4 406.5,332.4 407.0,332.4 407.6,332.4 408.1,332.5 408.7,332.5 409.2,332.5 409.7,332.5 410.3,332.5 410.8,332.5 411.4,332.5 411.9,332.5 412.4,332.5 413.0,332.5 413.5,332.5 414.1,332.5 414.6,332.5 415.1,332.5 415.7,332.5 416.2,332.5 416.8,332.5 417.3,332.5 417.8,332.5 418.4,332.5 418.9,332.5 419.5,332.5 420.0,332.5 420.5,332.5 421.1,332.5 421.6,332.5 422.2,332.5 422.7,332.5 423.2,332.5 423.8,332.5 424.3,332.5 424.9,332.5 425.4,332.5 425.9,332.5 426.5,332.5 427.0,332.5 427.6,332.5 428.1,332.5 428.6,332.5 429.2,332.5 429.7,332.5 430.3,332.5 430.8,332.5 431.3,332.5 431.9,332.5 432.4,332.5 433.0,332.5 433.5,332.5 434.0,332.5 434.6,332.5 435.1,332.5 435.7,332.5 436.2,332.5 436.7,332.5 437.3,332.5 437.8,332.5 438.4,332.5 438.9,332.5 439.4,332.5 440.0,332.5 440.5,332.5 441.1,332.5 441.6,332.5 442.1,332.5 442.7,332.5 443.2,332.5 443.8,332.5 444.3,332.5" fill="none" stroke="#1f7a44" stroke-width="1.2" stroke-linejoin="round"/><path d="M293.1,338.4 293.6,338.4 294.2,338.4 294.7,338.4 295.3,338.4 295.8,338.4 296.3,338.4 296.9,338.4 297.4,338.4 298.0,338.4 298.5,338.4 299.0,338.4 299.6,338.4 300.1,338.4 300.7,338.4 301.2,338.4 301.7,338.4 302.3,338.4 302.8,338.4 303.4,338.4 303.9,338.4 304.4,338.4 305.0,338.4 305.5,338.4 306.1,338.4 306.6,338.4 307.1,338.4 307.7,338.4 308.2,338.4 308.8,338.4 309.3,338.4 309.8,338.4 310.4,338.4 310.9,338.4 311.5,338.4 312.0,338.4 312.5,338.4 313.1,338.3 313.6,338.3 314.2,338.3 314.7,338.3 315.2,338.3 315.8,338.3 316.3,338.3 316.9,338.3 317.4,338.3 317.9,338.3 318.5,338.3 319.0,338.3 319.6,338.3 320.1,338.3 320.6,338.3 321.2,338.3 321.7,338.2 322.3,338.2 322.8,338.2 323.3,338.2 323.9,338.2 324.4,338.2 325.0,338.2 325.5,338.1 326.0,338.1 326.6,338.1 327.1,338.1 327.7,338.0 328.2,338.0 328.7,338.0 329.3,337.9 329.8,337.9 330.4,337.8 330.9,337.7 331.4,337.6 332.0,337.5 332.5,337.3 333.1,337.2 333.6,337.0 334.1,336.8 334.7,336.6 335.2,336.3 335.8,336.0 336.3,335.6 336.8,335.2 337.4,334.8 337.9,334.3 338.5,333.8 339.0,333.2 339.5,332.6 340.1,332.0 340.6,331.3 341.2,330.5 341.7,329.8 342.2,329.0 342.8,328.2 343.3,327.4 343.9,326.5 344.4,325.7 344.9,324.9 345.5,324.1 346.0,323.4 346.6,322.7 347.1,322.1 347.6,321.5 348.2,321.0 348.7,320.6 349.3,320.3 349.8,320.1 350.3,319.9 350.9,319.9 351.4,320.0 352.0,320.2 352.5,320.4 353.0,320.8 353.6,321.2 354.1,321.7 354.7,322.2 355.2,322.8 355.7,323.4 356.3,324.1 356.8,324.7 357.4,325.4 357.9,326.0 358.4,326.6 359.0,327.2 359.5,327.8 360.1,328.3 360.6,328.8 361.1,329.3 361.7,329.8 362.2,330.1 362.8,330.5 363.3,330.8 363.8,331.1 364.4,331.4 364.9,331.6 365.5,331.8 366.0,331.9 366.5,332.1 367.1,332.2 367.6,332.3 368.2,332.4 368.7,332.4 369.2,332.5 369.8,332.5 370.3,332.6 370.9,332.6 371.4,332.6 371.9,332.6 372.5,332.7 373.0,332.7 373.6,332.7 374.1,332.7 374.6,332.7 375.2,332.7 375.7,332.7 376.3,332.7 376.8,332.7 377.3,332.7 377.9,332.7 378.4,332.7 379.0,332.7 379.5,332.7 380.0,332.7 380.6,332.7 381.1,332.7 381.7,332.7 382.2,332.7 382.7,332.7 383.3,332.7 383.8,332.7 384.4,332.7 384.9,332.7 385.4,332.7 386.0,332.7 386.5,332.7 387.1,332.7 387.6,332.7 388.1,332.7 388.7,332.7 389.2,332.7 389.8,332.7 390.3,332.7 390.8,332.7 391.4,332.7 391.9,332.7 392.5,332.7 393.0,332.7 393.5,332.7 394.1,332.7 394.6,332.7 395.2,332.7 395.7,332.7 396.2,332.7 396.8,332.7 397.3,332.7 397.9,332.7 398.4,332.7 398.9,332.7 399.5,332.7 400.0,332.7 400.6,332.7 401.1,332.7 401.6,332.7 402.2,332.7 402.7,332.7 403.3,332.7 403.8,332.7 404.3,332.7 404.9,332.7 405.4,332.7 406.0,332.7 406.5,332.7 407.0,332.7 407.6,332.7 408.1,332.7 408.7,332.7 409.2,332.7 409.7,332.7 410.3,332.7 410.8,332.7 411.4,332.7 411.9,332.7 412.4,332.7 413.0,332.7 413.5,332.7 414.1,332.7 414.6,332.7 415.1,332.7 415.7,332.7 416.2,332.7 416.8,332.7 417.3,332.7 417.8,332.7 418.4,332.7 418.9,332.7 419.5,332.7 420.0,332.7 420.5,332.7 421.1,332.7 421.6,332.7 422.2,332.7 422.7,332.7 423.2,332.7 423.8,332.7 424.3,332.7 424.9,332.7 425.4,332.7 425.9,332.7 426.5,332.7 427.0,332.7 427.6,332.7 428.1,332.7 428.6,332.7 429.2,332.7 429.7,332.7 430.3,332.7 430.8,332.7 431.3,332.7 431.9,332.7 432.4,332.7 433.0,332.7 433.5,332.7 434.0,332.7 434.6,332.7 435.1,332.7 435.7,332.7 436.2,332.7 436.7,332.7 437.3,332.7 437.8,332.7 438.4,332.7 438.9,332.7 439.4,332.7 440.0,332.7 440.5,332.7 441.1,332.7 441.6,332.7 442.1,332.7 442.7,332.7 443.2,332.7 443.8,332.7 444.3,332.7" fill="none" stroke="#9448d4" stroke-width="1" stroke-linejoin="round"/><path d="M293.1,338.5 293.6,338.5 294.2,338.5 294.7,338.5 295.3,338.5 295.8,338.5 296.3,338.5 296.9,338.5 297.4,338.5 298.0,338.4 298.5,338.4 299.0,338.4 299.6,338.4 300.1,338.4 300.7,338.4 301.2,338.4 301.7,338.4 302.3,338.4 302.8,338.4 303.4,338.4 303.9,338.4 304.4,338.4 305.0,338.4 305.5,338.4 306.1,338.4 306.6,338.4 307.1,338.4 307.7,338.4 308.2,338.4 308.8,338.4 309.3,338.4 309.8,338.4 310.4,338.4 310.9,338.4 311.5,338.4 312.0,338.4 312.5,338.4 313.1,338.4 313.6,338.4 314.2,338.4 314.7,338.4 315.2,338.4 315.8,338.4 316.3,338.4 316.9,338.4 317.4,338.4 317.9,338.4 318.5,338.4 319.0,338.4 319.6,338.3 320.1,338.3 320.6,338.3 321.2,338.3 321.7,338.3 322.3,338.3 322.8,338.3 323.3,338.3 323.9,338.3 324.4,338.3 325.0,338.3 325.5,338.3 326.0,338.2 326.6,338.2 327.1,338.2 327.7,338.2 328.2,338.2 328.7,338.2 329.3,338.1 329.8,338.1 330.4,338.1 330.9,338.0 331.4,338.0 332.0,337.9 332.5,337.8 333.1,337.8 333.6,337.7 334.1,337.6 334.7,337.5 335.2,337.4 335.8,337.3 336.3,337.2 336.8,337.0 337.4,336.9 337.9,336.7 338.5,336.5 339.0,336.4 339.5,336.2 340.1,336.0 340.6,335.8 341.2,335.6 341.7,335.5 342.2,335.3 342.8,335.1 343.3,334.9 343.9,334.7 344.4,334.6 344.9,334.4 345.5,334.2 346.0,334.1 346.6,333.9 347.1,333.8 347.6,333.6 348.2,333.5 348.7,333.3 349.3,333.2 349.8,333.0 350.3,332.9 350.9,332.7 351.4,332.6 352.0,332.4 352.5,332.3 353.0,332.1 353.6,331.9 354.1,331.7 354.7,331.6 355.2,331.4 355.7,331.2 356.3,331.0 356.8,330.8 357.4,330.7 357.9,330.5 358.4,330.3 359.0,330.2 359.5,330.1 360.1,329.9 360.6,329.8 361.1,329.7 361.7,329.6 362.2,329.6 362.8,329.5 363.3,329.5 363.8,329.5 364.4,329.5 364.9,329.6 365.5,329.6 366.0,329.7 366.5,329.8 367.1,329.9 367.6,330.0 368.2,330.1 368.7,330.2 369.2,330.4 369.8,330.5 370.3,330.7 370.9,330.8 371.4,330.9 371.9,331.1 372.5,331.2 373.0,331.4 373.6,331.5 374.1,331.6 374.6,331.7 375.2,331.8 375.7,331.9 376.3,332.0 376.8,332.1 377.3,332.2 377.9,332.3 378.4,332.3 379.0,332.4 379.5,332.4 380.0,332.5 380.6,332.5 381.1,332.6 381.7,332.6 382.2,332.6 382.7,332.6 383.3,332.7 383.8,332.7 384.4,332.7 384.9,332.7 385.4,332.7 386.0,332.7 386.5,332.7 387.1,332.7 387.6,332.7 388.1,332.7 388.7,332.7 389.2,332.7 389.8,332.7 390.3,332.7 390.8,332.7 391.4,332.7 391.9,332.7 392.5,332.7 393.0,332.7 393.5,332.7 394.1,332.7 394.6,332.7 395.2,332.7 395.7,332.7 396.2,332.7 396.8,332.7 397.3,332.7 397.9,332.7 398.4,332.7 398.9,332.7 399.5,332.7 400.0,332.7 400.6,332.7 401.1,332.7 401.6,332.7 402.2,332.7 402.7,332.7 403.3,332.7 403.8,332.7 404.3,332.7 404.9,332.7 405.4,332.7 406.0,332.7 406.5,332.7 407.0,332.7 407.6,332.7 408.1,332.7 408.7,332.7 409.2,332.7 409.7,332.7 410.3,332.7 410.8,332.7 411.4,332.7 411.9,332.7 412.4,332.7 413.0,332.7 413.5,332.7 414.1,332.7 414.6,332.7 415.1,332.7 415.7,332.7 416.2,332.7 416.8,332.7 417.3,332.7 417.8,332.7 418.4,332.7 418.9,332.7 419.5,332.7 420.0,332.7 420.5,332.7 421.1,332.7 421.6,332.7 422.2,332.7 422.7,332.7 423.2,332.7 423.8,332.7 424.3,332.7 424.9,332.7 425.4,332.7 425.9,332.7 426.5,332.7 427.0,332.7 427.6,332.7 428.1,332.7 428.6,332.7 429.2,332.7 429.7,332.7 430.3,332.7 430.8,332.7 431.3,332.7 431.9,332.7 432.4,332.7 433.0,332.7 433.5,332.7 434.0,332.7 434.6,332.7 435.1,332.7 435.7,332.7 436.2,332.7 436.7,332.7 437.3,332.7 437.8,332.7 438.4,332.7 438.9,332.7 439.4,332.7 440.0,332.7 440.5,332.7 441.1,332.7 441.6,332.7 442.1,332.7 442.7,332.7 443.2,332.7 443.8,332.7 444.3,332.7" fill="none" stroke="#c09050" stroke-width="1" stroke-linejoin="round"/><path d="M293.1,338.5 293.6,338.5 294.2,338.5 294.7,338.5 295.3,338.5 295.8,338.5 296.3,338.5 296.9,338.5 297.4,338.5 298.0,338.5 298.5,338.5 299.0,338.5 299.6,338.5 300.1,338.4 300.7,338.4 301.2,338.4 301.7,338.4 302.3,338.4 302.8,338.4 303.4,338.4 303.9,338.4 304.4,338.4 305.0,338.4 305.5,338.4 306.1,338.4 306.6,338.4 307.1,338.4 307.7,338.4 308.2,338.4 308.8,338.4 309.3,338.4 309.8,338.4 310.4,338.4 310.9,338.4 311.5,338.4 312.0,338.4 312.5,338.4 313.1,338.4 313.6,338.4 314.2,338.4 314.7,338.4 315.2,338.4 315.8,338.4 316.3,338.4 316.9,338.4 317.4,338.4 317.9,338.4 318.5,338.4 319.0,338.4 319.6,338.4 320.1,338.4 320.6,338.3 321.2,338.3 321.7,338.3 322.3,338.3 322.8,338.3 323.3,338.3 323.9,338.3 324.4,338.3 325.0,338.3 325.5,338.3 326.0,338.3 326.6,338.3 327.1,338.2 327.7,338.2 328.2,338.2 328.7,338.2 329.3,338.1 329.8,338.1 330.4,338.1 330.9,338.0 331.4,338.0 332.0,337.9 332.5,337.9 333.1,337.8 333.6,337.7 334.1,337.6 334.7,337.5 335.2,337.4 335.8,337.3 336.3,337.2 336.8,337.1 337.4,336.9 337.9,336.8 338.5,336.6 339.0,336.4 339.5,336.3 340.1,336.1 340.6,335.9 341.2,335.7 341.7,335.5 342.2,335.4 342.8,335.2 343.3,335.0 343.9,334.9 344.4,334.8 344.9,334.6 345.5,334.5 346.0,334.4 346.6,334.3 347.1,334.2 347.6,334.1 348.2,334.0 348.7,333.9 349.3,333.8 349.8,333.8 350.3,333.7 350.9,333.6 351.4,333.6 352.0,333.5 352.5,333.5 353.0,333.4 353.6,333.4 354.1,333.4 354.7,333.3 355.2,333.3 355.7,333.3 356.3,333.2 356.8,333.2 357.4,333.2 357.9,333.2 358.4,333.1 359.0,333.1 359.5,333.1 360.1,333.1 360.6,333.1 361.1,333.0 361.7,333.0 362.2,333.0 362.8,333.0 363.3,333.0 363.8,333.0 364.4,333.0 364.9,333.0 365.5,332.9 366.0,332.9 366.5,332.9 367.1,332.9 367.6,332.9 368.2,332.9 368.7,332.9 369.2,332.9 369.8,332.9 370.3,332.9 370.9,332.9 371.4,332.9 371.9,332.8 372.5,332.8 373.0,332.8 373.6,332.8 374.1,332.8 374.6,332.8 375.2,332.8 375.7,332.8 376.3,332.8 376.8,332.8 377.3,332.8 377.9,332.8 378.4,332.8 379.0,332.8 379.5,332.8 380.0,332.8 380.6,332.8 381.1,332.8 381.7,332.8 382.2,332.8 382.7,332.8 383.3,332.8 383.8,332.8 384.4,332.8 384.9,332.8 385.4,332.7 386.0,332.7 386.5,332.7 387.1,332.7 387.6,332.7 388.1,332.7 388.7,332.7 389.2,332.7 389.8,332.7 390.3,332.7 390.8,332.6 391.4,332.6 391.9,332.6 392.5,332.6 393.0,332.6 393.5,332.5 394.1,332.5 394.6,332.5 395.2,332.5 395.7,332.4 396.2,332.4 396.8,332.4 397.3,332.3 397.9,332.3 398.4,332.3 398.9,332.2 399.5,332.2 400.0,332.1 400.6,332.1 401.1,332.1 401.6,332.0 402.2,332.0 402.7,332.0 403.3,331.9 403.8,331.9 404.3,331.8 404.9,331.8 405.4,331.8 406.0,331.8 406.5,331.7 407.0,331.7 407.6,331.7 408.1,331.7 408.7,331.7 409.2,331.7 409.7,331.7 410.3,331.7 410.8,331.7 411.4,331.7 411.9,331.7 412.4,331.7 413.0,331.7 413.5,331.7 414.1,331.7 414.6,331.8 415.1,331.8 415.7,331.8 416.2,331.9 416.8,331.9 417.3,331.9 417.8,332.0 418.4,332.0 418.9,332.0 419.5,332.1 420.0,332.1 420.5,332.1 421.1,332.2 421.6,332.2 422.2,332.2 422.7,332.3 423.2,332.3 423.8,332.3 424.3,332.4 424.9,332.4 425.4,332.4 425.9,332.4 426.5,332.5 427.0,332.5 427.6,332.5 428.1,332.5 428.6,332.5 429.2,332.5 429.7,332.6 430.3,332.6 430.8,332.6 431.3,332.6 431.9,332.6 432.4,332.6 433.0,332.6 433.5,332.6 434.0,332.6 434.6,332.6 435.1,332.6 435.7,332.6 436.2,332.6 436.7,332.6 437.3,332.6 437.8,332.6 438.4,332.6 438.9,332.6 439.4,332.6 440.0,332.6 440.5,332.6 441.1,332.6 441.6,332.6 442.1,332.6 442.7,332.6 443.2,332.6 443.8,332.6 444.3,332.7" fill="none" stroke="#30c030" stroke-width="1" stroke-linejoin="round"/><path d="M293.1,338.5 293.6,338.5 294.2,338.5 294.7,338.5 295.3,338.5 295.8,338.5 296.3,338.5 296.9,338.5 297.4,338.5 298.0,338.5 298.5,338.5 299.0,338.5 299.6,338.5 300.1,338.4 300.7,338.4 301.2,338.4 301.7,338.4 302.3,338.4 302.8,338.4 303.4,338.4 303.9,338.4 304.4,338.4 305.0,338.4 305.5,338.4 306.1,338.4 306.6,338.4 307.1,338.4 307.7,338.4 308.2,338.4 308.8,338.4 309.3,338.4 309.8,338.4 310.4,338.4 310.9,338.4 311.5,338.4 312.0,338.4 312.5,338.4 313.1,338.4 313.6,338.4 314.2,338.4 314.7,338.4 315.2,338.4 315.8,338.4 316.3,338.4 316.9,338.4 317.4,338.4 317.9,338.4 318.5,338.4 319.0,338.4 319.6,338.4 320.1,338.4 320.6,338.3 321.2,338.3 321.7,338.3 322.3,338.3 322.8,338.3 323.3,338.3 323.9,338.3 324.4,338.3 325.0,338.3 325.5,338.3 326.0,338.3 326.6,338.3 327.1,338.2 327.7,338.2 328.2,338.2 328.7,338.2 329.3,338.1 329.8,338.1 330.4,338.1 330.9,338.0 331.4,338.0 332.0,337.9 332.5,337.9 333.1,337.8 333.6,337.7 334.1,337.6 334.7,337.5 335.2,337.4 335.8,337.3 336.3,337.2 336.8,337.1 337.4,336.9 337.9,336.8 338.5,336.6 339.0,336.4 339.5,336.3 340.1,336.1 340.6,335.9 341.2,335.7 341.7,335.5 342.2,335.4 342.8,335.2 343.3,335.1 343.9,334.9 344.4,334.8 344.9,334.6 345.5,334.5 346.0,334.4 346.6,334.3 347.1,334.2 347.6,334.1 348.2,334.0 348.7,333.9 349.3,333.8 349.8,333.8 350.3,333.7 350.9,333.6 351.4,333.6 352.0,333.5 352.5,333.5 353.0,333.4 353.6,333.4 354.1,333.4 354.7,333.3 355.2,333.3 355.7,333.3 356.3,333.2 356.8,333.2 357.4,333.2 357.9,333.2 358.4,333.1 359.0,333.1 359.5,333.1 360.1,333.1 360.6,333.1 361.1,333.1 361.7,333.0 362.2,333.0 362.8,333.0 363.3,333.0 363.8,333.0 364.4,333.0 364.9,333.0 365.5,332.9 366.0,332.9 366.5,332.9 367.1,332.9 367.6,332.9 368.2,332.9 368.7,332.9 369.2,332.9 369.8,332.9 370.3,332.9 370.9,332.9 371.4,332.9 371.9,332.9 372.5,332.9 373.0,332.8 373.6,332.8 374.1,332.8 374.6,332.8 375.2,332.8 375.7,332.8 376.3,332.8 376.8,332.8 377.3,332.8 377.9,332.8 378.4,332.8 379.0,332.8 379.5,332.8 380.0,332.8 380.6,332.8 381.1,332.8 381.7,332.8 382.2,332.8 382.7,332.8 383.3,332.8 383.8,332.8 384.4,332.8 384.9,332.8 385.4,332.8 386.0,332.8 386.5,332.8 387.1,332.8 387.6,332.8 388.1,332.8 388.7,332.8 389.2,332.8 389.8,332.8 390.3,332.8 390.8,332.8 391.4,332.8 391.9,332.8 392.5,332.8 393.0,332.8 393.5,332.8 394.1,332.8 394.6,332.8 395.2,332.8 395.7,332.8 396.2,332.8 396.8,332.8 397.3,332.8 397.9,332.8 398.4,332.8 398.9,332.8 399.5,332.8 400.0,332.8 400.6,332.8 401.1,332.8 401.6,332.8 402.2,332.7 402.7,332.7 403.3,332.7 403.8,332.7 404.3,332.7 404.9,332.7 405.4,332.7 406.0,332.7 406.5,332.7 407.0,332.7 407.6,332.7 408.1,332.7 408.7,332.7 409.2,332.7 409.7,332.7 410.3,332.7 410.8,332.7 411.4,332.7 411.9,332.7 412.4,332.7 413.0,332.7 413.5,332.7 414.1,332.7 414.6,332.7 415.1,332.7 415.7,332.7 416.2,332.7 416.8,332.7 417.3,332.7 417.8,332.7 418.4,332.7 418.9,332.7 419.5,332.7 420.0,332.7 420.5,332.7 421.1,332.7 421.6,332.7 422.2,332.7 422.7,332.7 423.2,332.7 423.8,332.7 424.3,332.7 424.9,332.7 425.4,332.7 425.9,332.7 426.5,332.7 427.0,332.7 427.6,332.7 428.1,332.7 428.6,332.7 429.2,332.7 429.7,332.7 430.3,332.7 430.8,332.7 431.3,332.7 431.9,332.7 432.4,332.7 433.0,332.7 433.5,332.7 434.0,332.7 434.6,332.7 435.1,332.7 435.7,332.7 436.2,332.7 436.7,332.7 437.3,332.7 437.8,332.7 438.4,332.7 438.9,332.7 439.4,332.7 440.0,332.7 440.5,332.7 441.1,332.7 441.6,332.7 442.1,332.7 442.7,332.7 443.2,332.7 443.8,332.7 444.3,332.7" fill="none" stroke="#2cc82c" stroke-width="1.4"/></g>
<rect x="271.5" y="218.2" width="194.7" height="134.6" fill="none" stroke="#3c3c3c" stroke-width="1.1"/>
<path d="M271.50,352.80 V350.20 M282.30,352.80 V351.20 M293.10,352.80 V350.20 M303.90,352.80 V351.20 M314.70,352.80 V350.20 M325.50,352.80 V351.20 M336.30,352.80 V350.20 M347.10,352.80 V351.20 M357.90,352.80 V350.20 M368.70,352.80 V351.20 M379.50,352.80 V350.20 M390.30,352.80 V351.20 M401.10,352.80 V350.20 M411.90,352.80 V351.20 M422.70,352.80 V350.20 M433.50,352.80 V351.20 M444.30,352.80 V350.20 M455.10,352.80 V351.20 M465.90,352.80 V350.20 M271.50,342.40 H274.10 M271.50,321.75 H274.10 M271.50,301.10 H274.10 M271.50,280.45 H274.10 M271.50,259.80 H274.10 M271.50,239.15 H274.10 M271.50,218.50 H274.10 M271.50,332.07 H273.10 M271.50,311.42 H273.10 M271.50,290.77 H273.10 M271.50,270.12 H273.10 M271.50,249.47 H273.10 M271.50,228.82 H273.10 M271.50,352.72 H273.10" stroke="#3c3c3c" stroke-width="1.15" fill="none"/>
<text x="271.5" y="361" font-size="5.9" text-anchor="middle" fill="#222" stroke="#222" font-weight="normal" font-family="Liberation Sans" >278</text>
<text x="293.1" y="361" font-size="5.9" text-anchor="middle" fill="#222" stroke="#222" font-weight="normal" font-family="Liberation Sans" >280</text>
<text x="314.7" y="361" font-size="5.9" text-anchor="middle" fill="#222" stroke="#222" font-weight="normal" font-family="Liberation Sans" >282</text>
<text x="336.3" y="361" font-size="5.9" text-anchor="middle" fill="#222" stroke="#222" font-weight="normal" font-family="Liberation Sans" >284</text>
<text x="357.9" y="361" font-size="5.9" text-anchor="middle" fill="#222" stroke="#222" font-weight="normal" font-family="Liberation Sans" >286</text>
<text x="379.5" y="361" font-size="5.9" text-anchor="middle" fill="#222" stroke="#222" font-weight="normal" font-family="Liberation Sans" >288</text>
<text x="401.1" y="361" font-size="5.9" text-anchor="middle" fill="#222" stroke="#222" font-weight="normal" font-family="Liberation Sans" >290</text>
<text x="422.7" y="361" font-size="5.9" text-anchor="middle" fill="#222" stroke="#222" font-weight="normal" font-family="Liberation Sans" >292</text>
<text x="444.3" y="361" font-size="5.9" text-anchor="middle" fill="#222" stroke="#222" font-weight="normal" font-family="Liberation Sans" >294</text>
<text x="465.9" y="361" font-size="5.9" text-anchor="middle" fill="#222" stroke="#222" font-weight="normal" font-family="Liberation Sans" >296</text>
<text x="268.1" y="344.46" font-size="5.9" text-anchor="end" fill="#222" stroke="#222" font-weight="normal" font-family="Liberation Sans" >0.0</text>
<text x="268.1" y="323.81" font-size="5.9" text-anchor="end" fill="#222" stroke="#222" font-family="Liberation Sans">2.0x10<tspan font-size="3.66" dy="-2.48">3</tspan></text>
<text x="268.1" y="303.16" font-size="5.9" text-anchor="end" fill="#222" stroke="#222" font-family="Liberation Sans">4.0x10<tspan font-size="3.66" dy="-2.48">3</tspan></text>
<text x="268.1" y="282.51" font-size="5.9" text-anchor="end" fill="#222" stroke="#222" font-family="Liberation Sans">6.0x10<tspan font-size="3.66" dy="-2.48">3</tspan></text>
<text x="268.1" y="261.86" font-size="5.9" text-anchor="end" fill="#222" stroke="#222" font-family="Liberation Sans">8.0x10<tspan font-size="3.66" dy="-2.48">3</tspan></text>
<text x="268.1" y="241.21" font-size="5.9" text-anchor="end" fill="#222" stroke="#222" font-family="Liberation Sans">1.0x10<tspan font-size="3.66" dy="-2.48">4</tspan></text>
<text x="268.1" y="220.56" font-size="5.9" text-anchor="end" fill="#222" stroke="#222" font-family="Liberation Sans">1.2x10<tspan font-size="3.66" dy="-2.48">4</tspan></text>
<text x="364.2" y="371.8" font-size="7.3" text-anchor="middle" fill="#222" stroke="#222" font-weight="normal" font-family="Liberation Sans" >Binding Energy, eV</text>
<text x="0" y="0" font-size="7" text-anchor="middle" fill="#222" stroke="#222" font-weight="normal" font-family="Liberation Sans" transform="translate(237,286.8) rotate(-90)">Intensity, Arb. units</text>
<text x="274.5" y="229.3" font-size="7.1" font-family="Liberation Sans" fill="#111" stroke="#111">sp<tspan font-size="4.26" dy="2.13">3</tspan><tspan dy="-2.13">/sp</tspan><tspan font-size="4.26" dy="2.13">2</tspan><tspan dy="-2.13">=0.16</tspan></text>
<text x="404.0" y="228.0" font-size="7" font-family="Liberation Sans" fill="#111" stroke="#111">C1s</text>
<text x="404" y="236.5" font-size="7.15" font-family="Liberation Sans" fill="#111" stroke="#111">HQ+H<tspan font-size="4.29" dy="2.15">2</tspan><tspan dy="-2.15">O</tspan><tspan font-size="4.29" dy="2.15">2</tspan><tspan dy="-2.15">, 266nm</tspan></text>
<text x="370" y="255.1" font-size="7.1" font-family="Liberation Sans" fill="#111" stroke="#111" font-weight="normal">Position (eV)</text>
<text x="420.5" y="255.1" font-size="7.1" font-family="Liberation Sans" fill="#111" stroke="#111" font-weight="normal">Area (%)</text>
<text x="401.5" y="263.7" font-size="7" font-family="Liberation Sans" fill="#2a8a48" stroke="#2a8a48" text-anchor="end" font-weight="normal">284.3</text>
<text x="439" y="263.7" font-size="7" font-family="Liberation Sans" fill="#2a8a48" stroke="#2a8a48" text-anchor="end" font-weight="normal">86.1</text>
<text x="401.5" y="271.8" font-size="7" font-family="Liberation Sans" fill="#8040b0" stroke="#8040b0" text-anchor="end" font-weight="normal">285.3</text>
<text x="439" y="271.8" font-size="7" font-family="Liberation Sans" fill="#8040b0" stroke="#8040b0" text-anchor="end" font-weight="normal">13.3</text>
<text x="401.5" y="279.9" font-size="7" font-family="Liberation Sans" fill="#a08050" stroke="#a08050" text-anchor="end" font-weight="normal">286.5</text>
<text x="439" y="279.9" font-size="7" font-family="Liberation Sans" fill="#a08050" stroke="#a08050" text-anchor="end" font-weight="normal">2.8</text>
<text x="401.5" y="288" font-size="7" font-family="Liberation Sans" fill="#20c040" stroke="#20c040" text-anchor="end" font-weight="normal">290.8</text>
<text x="439" y="288" font-size="7" font-family="Liberation Sans" fill="#20c040" stroke="#20c040" text-anchor="end" font-weight="normal">0.6</text>
<g><path d="M61.0,515.7 61.4,515.7 61.9,515.7 62.4,515.7 62.9,515.6 63.4,515.8 63.8,515.7 64.3,515.7 64.8,515.6 65.3,515.5 65.8,515.4 66.3,515.3 66.7,515.2 67.2,515.2 67.7,515.2 68.2,515.1 68.7,515.3 69.1,515.3 69.6,515.3 70.1,515.2 70.6,515.1 71.1,515.1 71.6,515.1 72.0,515.1 72.5,515.1 73.0,515.1 73.5,515.1 74.0,515.1 74.4,515.2 74.9,515.2 75.4,515.0 75.9,515.0 76.4,515.0 76.8,515.1 77.3,514.9 77.8,514.7 78.3,514.5 78.8,514.4 79.3,514.3 79.7,514.4 80.2,514.4 80.7,514.5 81.2,514.3 81.7,514.3 82.1,514.2 82.6,514.0 83.1,513.9 83.6,513.8 84.1,513.8 84.6,513.7 85.0,513.6 85.5,513.5 86.0,513.4 86.5,513.3 87.0,513.0 87.4,512.6 87.9,512.1 88.4,511.6 88.9,511.0 89.4,510.2 89.9,509.6 90.3,508.8 90.8,507.9 91.3,506.4 91.8,504.4 92.3,502.6 92.7,500.5 93.2,498.1 93.7,495.0 94.2,491.8 94.7,488.0 95.1,484.1 95.6,479.4 96.1,474.5 96.6,469.1 97.1,463.4 97.6,457.3 98.0,451.1 98.5,444.6 99.0,438.2 99.5,432.0 100.0,426.0 100.4,420.2 100.9,415.0 101.4,410.4 101.9,406.8 102.4,404.3 102.9,402.7 103.3,402.2 103.8,402.6 104.3,404.3 104.8,406.7 105.3,410.0 105.7,414.0 106.2,418.7 106.7,423.5 107.2,428.6 107.7,433.8 108.1,439.1 108.6,444.2 109.1,449.2 109.6,454.1 110.1,458.7 110.6,463.1 111.0,467.2 111.5,470.8 112.0,474.1 112.5,477.0 113.0,479.9 113.4,482.4 113.9,484.6 114.4,486.7 114.9,488.6 115.4,490.3 115.9,491.9 116.3,493.3 116.8,494.7 117.3,496.0 117.8,497.0 118.3,497.9 118.7,498.5 119.2,499.4 119.7,500.0 120.2,500.8 120.7,501.3 121.1,501.9 121.6,502.2 122.1,502.7 122.6,502.9 123.1,503.4 123.6,503.8 124.0,504.4 124.5,504.6 125.0,504.8 125.5,505.0 126.0,505.2 126.4,505.4 126.9,505.7 127.4,506.0 127.9,506.2 128.4,506.4 128.9,506.5 129.3,506.8 129.8,507.0 130.3,507.3 130.8,507.5 131.3,507.6 131.7,507.8 132.2,507.8 132.7,508.0 133.2,508.0 133.7,508.2 134.1,508.3 134.6,508.4 135.1,508.3 135.6,508.3 136.1,508.4 136.6,508.6 137.0,508.8 137.5,508.8 138.0,508.8 138.5,508.8 139.0,509.0 139.4,509.0 139.9,509.1 140.4,509.2 140.9,509.4 141.4,509.3 141.9,509.4 142.3,509.4 142.8,509.6 143.3,509.4 143.8,509.2 144.3,509.1 144.7,509.5 145.2,509.7 145.7,509.7 146.2,509.6 146.7,509.5 147.1,509.6 147.6,509.6 148.1,509.6 148.6,509.5 149.1,509.4 149.6,509.5 150.0,509.6 150.5,509.5 151.0,509.6 151.5,509.5 152.0,509.6 152.4,509.4 152.9,509.6 153.4,509.5 153.9,509.6 154.4,509.3 154.9,509.3 155.3,509.4 155.8,509.3 156.3,509.4 156.8,509.3 157.3,509.4 157.7,509.4 158.2,509.3 158.7,509.3 159.2,509.1 159.7,508.9 160.1,508.8 160.6,508.6 161.1,508.6 161.6,508.7 162.1,508.9 162.6,508.9 163.0,508.9 163.5,508.7 164.0,508.7 164.5,508.5 165.0,508.5 165.4,508.4 165.9,508.6 166.4,508.7 166.9,508.7 167.4,508.8 167.9,508.8 168.3,508.8 168.8,508.9 169.3,508.8 169.8,508.7 170.3,508.5 170.7,508.4 171.2,508.7 171.7,508.9 172.2,509.0 172.7,508.9 173.1,508.7 173.6,508.9 174.1,508.9 174.6,509.1 175.1,509.2 175.6,509.2 176.0,509.2 176.5,509.2 177.0,509.2 177.5,509.4 178.0,509.5 178.4,509.7 178.9,509.7 179.4,509.5 179.9,509.5 180.4,509.5 180.9,509.6 181.3,509.5 181.8,509.4 182.3,509.5 182.8,509.5 183.3,509.7 183.7,509.7 184.2,509.7 184.7,509.8 185.2,510.0 185.7,510.1 186.2,510.0 186.6,509.7 187.1,509.5 187.6,509.6 188.1,509.7 188.6,509.9 189.0,509.8 189.5,510.0 190.0,510.0 190.5,510.0 191.0,509.9 191.4,509.9 191.9,509.9 192.4,509.7 192.9,509.7 193.4,509.7 193.9,509.8 194.3,509.9 194.8,509.9 195.3,509.9 195.8,509.9" fill="none" stroke="#333" stroke-width="0.6" opacity="1"/><path d="M61.0,515.6 61.4,515.6 61.9,515.6 62.4,515.6 62.9,515.6 63.4,515.6 63.8,515.6 64.3,515.5 64.8,515.5 65.3,515.5 65.8,515.5 66.3,515.5 66.7,515.5 67.2,515.4 67.7,515.4 68.2,515.4 68.7,515.4 69.1,515.4 69.6,515.3 70.1,515.3 70.6,515.3 71.1,515.3 71.6,515.2 72.0,515.2 72.5,515.2 73.0,515.2 73.5,515.1 74.0,515.1 74.4,515.1 74.9,515.0 75.4,515.0 75.9,514.9 76.4,514.9 76.8,514.9 77.3,514.8 77.8,514.8 78.3,514.7 78.8,514.7 79.3,514.6 79.7,514.5 80.2,514.5 80.7,514.4 81.2,514.3 81.7,514.3 82.1,514.2 82.6,514.1 83.1,514.0 83.6,513.9 84.1,513.8 84.6,513.6 85.0,513.5 85.5,513.3 86.0,513.1 86.5,512.9 87.0,512.6 87.4,512.3 87.9,512.0 88.4,511.5 88.9,511.0 89.4,510.3 89.9,509.6 90.3,508.6 90.8,507.5 91.3,506.2 91.8,504.6 92.3,502.7 92.7,500.5 93.2,498.0 93.7,495.1 94.2,491.8 94.7,488.1 95.1,484.0 95.6,479.4 96.1,474.4 96.6,469.0 97.1,463.3 97.6,457.3 98.0,451.0 98.5,444.7 99.0,438.3 99.5,432.0 100.0,425.9 100.4,420.2 100.9,415.1 101.4,410.6 101.9,407.0 102.4,404.3 102.9,402.7 103.3,402.1 103.8,402.7 104.3,404.3 104.8,406.8 105.3,410.1 105.7,414.1 106.2,418.6 106.7,423.5 107.2,428.6 107.7,433.9 108.1,439.1 108.6,444.3 109.1,449.4 109.6,454.2 110.1,458.8 110.6,463.1 111.0,467.1 111.5,470.7 112.0,474.1 112.5,477.2 113.0,480.0 113.4,482.5 113.9,484.8 114.4,486.9 114.9,488.8 115.4,490.5 115.9,492.0 116.3,493.4 116.8,494.6 117.3,495.8 117.8,496.8 118.3,497.8 118.7,498.6 119.2,499.4 119.7,500.1 120.2,500.8 120.7,501.3 121.1,501.9 121.6,502.3 122.1,502.8 122.6,503.2 123.1,503.6 123.6,503.9 124.0,504.2 124.5,504.5 125.0,504.8 125.5,505.1 126.0,505.3 126.4,505.6 126.9,505.8 127.4,506.0 127.9,506.2 128.4,506.4 128.9,506.7 129.3,506.8 129.8,507.0 130.3,507.2 130.8,507.4 131.3,507.5 131.7,507.7 132.2,507.8 132.7,508.0 133.2,508.1 133.7,508.2 134.1,508.3 134.6,508.4 135.1,508.5 135.6,508.6 136.1,508.7 136.6,508.7 137.0,508.8 137.5,508.9 138.0,508.9 138.5,509.0 139.0,509.0 139.4,509.1 139.9,509.1 140.4,509.1 140.9,509.2 141.4,509.2 141.9,509.2 142.3,509.3 142.8,509.3 143.3,509.3 143.8,509.4 144.3,509.4 144.7,509.4 145.2,509.4 145.7,509.5 146.2,509.5 146.7,509.5 147.1,509.5 147.6,509.5 148.1,509.5 148.6,509.5 149.1,509.5 149.6,509.5 150.0,509.5 150.5,509.5 151.0,509.5 151.5,509.5 152.0,509.5 152.4,509.5 152.9,509.5 153.4,509.4 153.9,509.4 154.4,509.4 154.9,509.4 155.3,509.3 155.8,509.3 156.3,509.3 156.8,509.2 157.3,509.2 157.7,509.2 158.2,509.1 158.7,509.1 159.2,509.1 159.7,509.0 160.1,509.0 160.6,508.9 161.1,508.9 161.6,508.9 162.1,508.8 162.6,508.8 163.0,508.8 163.5,508.7 164.0,508.7 164.5,508.7 165.0,508.7 165.4,508.7 165.9,508.7 166.4,508.6 166.9,508.6 167.4,508.7 167.9,508.7 168.3,508.7 168.8,508.7 169.3,508.7 169.8,508.7 170.3,508.8 170.7,508.8 171.2,508.8 171.7,508.9 172.2,508.9 172.7,508.9 173.1,509.0 173.6,509.0 174.1,509.1 174.6,509.1 175.1,509.2 175.6,509.2 176.0,509.2 176.5,509.3 177.0,509.3 177.5,509.4 178.0,509.4 178.4,509.4 178.9,509.5 179.4,509.5 179.9,509.5 180.4,509.6 180.9,509.6 181.3,509.6 181.8,509.7 182.3,509.7 182.8,509.7 183.3,509.7 183.7,509.8 184.2,509.8 184.7,509.8 185.2,509.8 185.7,509.8 186.2,509.8 186.6,509.8 187.1,509.9 187.6,509.9 188.1,509.9 188.6,509.9 189.0,509.9 189.5,509.9 190.0,509.9 190.5,509.9 191.0,509.9 191.4,509.9 191.9,509.9 192.4,509.9 192.9,509.9 193.4,509.9 193.9,509.9 194.3,509.9 194.8,509.9 195.3,509.9 195.8,509.9" fill="none" stroke="#d05050" stroke-width="0.9"/><path d="M61.0,515.7 61.4,515.6 61.9,515.6 62.4,515.6 62.9,515.6 63.4,515.6 63.8,515.6 64.3,515.6 64.8,515.6 65.3,515.5 65.8,515.5 66.3,515.5 66.7,515.5 67.2,515.5 67.7,515.5 68.2,515.4 68.7,515.4 69.1,515.4 69.6,515.4 70.1,515.4 70.6,515.3 71.1,515.3 71.6,515.3 72.0,515.3 72.5,515.2 73.0,515.2 73.5,515.2 74.0,515.1 74.4,515.1 74.9,515.1 75.4,515.0 75.9,515.0 76.4,515.0 76.8,514.9 77.3,514.9 77.8,514.8 78.3,514.8 78.8,514.7 79.3,514.7 79.7,514.6 80.2,514.5 80.7,514.5 81.2,514.4 81.7,514.3 82.1,514.3 82.6,514.2 83.1,514.1 83.6,514.0 84.1,513.9 84.6,513.7 85.0,513.6 85.5,513.4 86.0,513.2 86.5,513.0 87.0,512.7 87.4,512.4 87.9,512.1 88.4,511.6 88.9,511.1 89.4,510.5 89.9,509.7 90.3,508.8 90.8,507.7 91.3,506.3 91.8,504.8 92.3,502.9 92.7,500.8 93.2,498.3 93.7,495.4 94.2,492.1 94.7,488.4 95.1,484.3 95.6,479.8 96.1,474.9 96.6,469.6 97.1,464.0 97.6,458.1 98.0,452.0 98.5,445.8 99.0,439.6 99.5,433.5 100.0,427.7 100.4,422.3 100.9,417.5 101.4,413.4 101.9,410.2 102.4,408.0 102.9,406.9 103.3,406.9 103.8,408.0 104.3,410.2 104.8,413.4 105.3,417.4 105.7,422.1 106.2,427.4 106.7,433.0 107.2,438.8 107.7,444.8 108.1,450.7 108.6,456.6 109.1,462.2 109.6,467.5 110.1,472.5 110.6,477.1 111.0,481.4 111.5,485.2 112.0,488.6 112.5,491.6 113.0,494.3 113.4,496.6 113.9,498.5 114.4,500.2 114.9,501.6 115.4,502.8 115.9,503.8 116.3,504.7 116.8,505.3 117.3,505.9 117.8,506.4 118.3,506.8 118.7,507.1 119.2,507.3 119.7,507.6 120.2,507.7 120.7,507.9 121.1,508.0 121.6,508.2 122.1,508.3 122.6,508.4 123.1,508.4 123.6,508.5 124.0,508.6 124.5,508.7 125.0,508.7 125.5,508.8 126.0,508.8 126.4,508.9 126.9,508.9 127.4,509.0 127.9,509.0 128.4,509.1 128.9,509.1 129.3,509.1 129.8,509.2 130.3,509.2 130.8,509.2 131.3,509.3 131.7,509.3 132.2,509.3 132.7,509.3 133.2,509.4 133.7,509.4 134.1,509.4 134.6,509.4 135.1,509.4 135.6,509.5 136.1,509.5 136.6,509.5 137.0,509.5 137.5,509.5 138.0,509.5 138.5,509.6 139.0,509.6 139.4,509.6 139.9,509.6 140.4,509.6 140.9,509.6 141.4,509.6 141.9,509.7 142.3,509.7 142.8,509.7 143.3,509.7 143.8,509.7 144.3,509.7 144.7,509.7 145.2,509.7 145.7,509.7 146.2,509.7 146.7,509.8 147.1,509.8 147.6,509.8 148.1,509.8 148.6,509.8 149.1,509.8 149.6,509.8 150.0,509.8 150.5,509.8 151.0,509.8 151.5,509.8 152.0,509.8 152.4,509.8 152.9,509.8 153.4,509.8 153.9,509.8 154.4,509.9 154.9,509.9 155.3,509.9 155.8,509.9 156.3,509.9 156.8,509.9 157.3,509.9 157.7,509.9 158.2,509.9 158.7,509.9 159.2,509.9 159.7,509.9 160.1,509.9 160.6,509.9 161.1,509.9 161.6,509.9 162.1,509.9 162.6,509.9 163.0,509.9 163.5,509.9 164.0,509.9 164.5,509.9 165.0,509.9 165.4,509.9 165.9,509.9 166.4,509.9 166.9,509.9 167.4,509.9 167.9,509.9 168.3,509.9 168.8,509.9 169.3,509.9 169.8,509.9 170.3,509.9 170.7,509.9 171.2,509.9 171.7,509.9 172.2,509.9 172.7,509.9 173.1,509.9 173.6,509.9 174.1,509.9 174.6,509.9 175.1,509.9 175.6,509.9 176.0,509.9 176.5,509.9 177.0,509.9 177.5,509.9 178.0,509.9 178.4,509.9 178.9,509.9 179.4,509.9 179.9,509.9 180.4,509.9 180.9,509.9 181.3,509.9 181.8,509.9 182.3,509.9 182.8,509.9 183.3,509.9 183.7,509.9 184.2,509.9 184.7,509.9 185.2,509.9 185.7,509.9 186.2,509.9 186.6,509.9 187.1,509.9 187.6,509.9 188.1,509.9 188.6,509.9 189.0,509.9 189.5,509.9 190.0,509.9 190.5,509.9 191.0,509.9 191.4,509.9 191.9,509.9 192.4,510.0 192.9,510.0 193.4,510.0 193.9,510.0 194.3,510.0 194.8,510.0 195.3,510.0 195.8,510.0" fill="none" stroke="#257a5a" stroke-width="1.08" stroke-linejoin="round"/><path d="M61.0,516.1 61.4,516.1 61.9,516.1 62.4,516.1 62.9,516.1 63.4,516.1 63.8,516.1 64.3,516.1 64.8,516.1 65.3,516.1 65.8,516.1 66.3,516.1 66.7,516.1 67.2,516.1 67.7,516.1 68.2,516.1 68.7,516.1 69.1,516.1 69.6,516.1 70.1,516.1 70.6,516.1 71.1,516.1 71.6,516.1 72.0,516.1 72.5,516.1 73.0,516.1 73.5,516.1 74.0,516.1 74.4,516.0 74.9,516.0 75.4,516.0 75.9,516.0 76.4,516.0 76.8,516.0 77.3,516.0 77.8,516.0 78.3,516.0 78.8,516.0 79.3,516.0 79.7,516.0 80.2,516.0 80.7,516.0 81.2,516.0 81.7,516.0 82.1,516.0 82.6,516.0 83.1,516.0 83.6,516.0 84.1,516.0 84.6,516.0 85.0,515.9 85.5,515.9 86.0,515.9 86.5,515.9 87.0,515.9 87.4,515.9 87.9,515.9 88.4,515.9 88.9,515.9 89.4,515.9 89.9,515.8 90.3,515.8 90.8,515.8 91.3,515.8 91.8,515.7 92.3,515.7 92.7,515.7 93.2,515.6 93.7,515.5 94.2,515.5 94.7,515.4 95.1,515.3 95.6,515.2 96.1,515.0 96.6,514.9 97.1,514.7 97.6,514.5 98.0,514.2 98.5,513.9 99.0,513.6 99.5,513.2 100.0,512.8 100.4,512.4 100.9,511.9 101.4,511.3 101.9,510.7 102.4,510.1 102.9,509.4 103.3,508.6 103.8,507.8 104.3,507.0 104.8,506.2 105.3,505.3 105.7,504.4 106.2,503.6 106.7,502.7 107.2,501.9 107.7,501.1 108.1,500.3 108.6,499.6 109.1,498.9 109.6,498.4 110.1,497.9 110.6,497.5 111.0,497.3 111.5,497.1 112.0,497.1 112.5,497.2 113.0,497.3 113.4,497.6 113.9,498.0 114.4,498.5 114.9,499.0 115.4,499.6 115.9,500.2 116.3,500.9 116.8,501.6 117.3,502.2 117.8,502.9 118.3,503.6 118.7,504.3 119.2,504.9 119.7,505.5 120.2,506.0 120.7,506.5 121.1,507.0 121.6,507.4 122.1,507.8 122.6,508.2 123.1,508.5 123.6,508.7 124.0,509.0 124.5,509.2 125.0,509.3 125.5,509.5 126.0,509.6 126.4,509.7 126.9,509.8 127.4,509.9 127.9,509.9 128.4,510.0 128.9,510.0 129.3,510.0 129.8,510.0 130.3,510.1 130.8,510.1 131.3,510.1 131.7,510.1 132.2,510.1 132.7,510.1 133.2,510.1 133.7,510.1 134.1,510.1 134.6,510.1 135.1,510.1 135.6,510.1 136.1,510.1 136.6,510.1 137.0,510.1 137.5,510.1 138.0,510.1 138.5,510.1 139.0,510.1 139.4,510.1 139.9,510.1 140.4,510.1 140.9,510.1 141.4,510.1 141.9,510.1 142.3,510.1 142.8,510.1 143.3,510.1 143.8,510.1 144.3,510.1 144.7,510.1 145.2,510.1 145.7,510.1 146.2,510.1 146.7,510.1 147.1,510.1 147.6,510.1 148.1,510.1 148.6,510.1 149.1,510.1 149.6,510.1 150.0,510.1 150.5,510.1 151.0,510.1 151.5,510.1 152.0,510.1 152.4,510.1 152.9,510.1 153.4,510.1 153.9,510.1 154.4,510.1 154.9,510.1 155.3,510.1 155.8,510.1 156.3,510.1 156.8,510.1 157.3,510.1 157.7,510.1 158.2,510.1 158.7,510.1 159.2,510.1 159.7,510.1 160.1,510.1 160.6,510.1 161.1,510.1 161.6,510.1 162.1,510.1 162.6,510.1 163.0,510.1 163.5,510.1 164.0,510.1 164.5,510.1 165.0,510.1 165.4,510.1 165.9,510.1 166.4,510.1 166.9,510.1 167.4,510.1 167.9,510.1 168.3,510.1 168.8,510.1 169.3,510.1 169.8,510.1 170.3,510.1 170.7,510.1 171.2,510.1 171.7,510.1 172.2,510.1 172.7,510.1 173.1,510.1 173.6,510.1 174.1,510.1 174.6,510.1 175.1,510.1 175.6,510.1 176.0,510.1 176.5,510.1 177.0,510.1 177.5,510.1 178.0,510.1 178.4,510.1 178.9,510.1 179.4,510.1 179.9,510.1 180.4,510.1 180.9,510.1 181.3,510.1 181.8,510.1 182.3,510.1 182.8,510.1 183.3,510.0 183.7,510.0 184.2,510.0 184.7,510.0 185.2,510.0 185.7,510.0 186.2,510.0 186.6,510.0 187.1,510.0 187.6,510.0 188.1,510.0 188.6,510.0 189.0,510.0 189.5,510.0 190.0,510.0 190.5,510.0 191.0,510.0 191.4,510.0 191.9,510.0 192.4,510.0 192.9,510.0 193.4,510.0 193.9,510.0 194.3,510.0 194.8,510.0 195.3,510.0 195.8,510.0" fill="none" stroke="#8040a0" stroke-width="0.9" stroke-linejoin="round"/><path d="M61.0,516.1 61.4,516.1 61.9,516.1 62.4,516.1 62.9,516.1 63.4,516.1 63.8,516.1 64.3,516.1 64.8,516.1 65.3,516.1 65.8,516.1 66.3,516.1 66.7,516.1 67.2,516.1 67.7,516.1 68.2,516.1 68.7,516.1 69.1,516.1 69.6,516.1 70.1,516.1 70.6,516.1 71.1,516.1 71.6,516.1 72.0,516.1 72.5,516.1 73.0,516.1 73.5,516.1 74.0,516.1 74.4,516.1 74.9,516.1 75.4,516.1 75.9,516.1 76.4,516.1 76.8,516.1 77.3,516.1 77.8,516.1 78.3,516.1 78.8,516.1 79.3,516.1 79.7,516.1 80.2,516.1 80.7,516.1 81.2,516.1 81.7,516.0 82.1,516.0 82.6,516.0 83.1,516.0 83.6,516.0 84.1,516.0 84.6,516.0 85.0,516.0 85.5,516.0 86.0,516.0 86.5,516.0 87.0,516.0 87.4,516.0 87.9,516.0 88.4,516.0 88.9,516.0 89.4,516.0 89.9,515.9 90.3,515.9 90.8,515.9 91.3,515.9 91.8,515.9 92.3,515.9 92.7,515.8 93.2,515.8 93.7,515.8 94.2,515.7 94.7,515.7 95.1,515.6 95.6,515.6 96.1,515.5 96.6,515.4 97.1,515.3 97.6,515.2 98.0,515.1 98.5,515.0 99.0,514.9 99.5,514.7 100.0,514.6 100.4,514.4 100.9,514.2 101.4,514.0 101.9,513.9 102.4,513.7 102.9,513.5 103.3,513.3 103.8,513.1 104.3,512.9 104.8,512.7 105.3,512.5 105.7,512.3 106.2,512.2 106.7,512.0 107.2,511.8 107.7,511.7 108.1,511.5 108.6,511.4 109.1,511.3 109.6,511.1 110.1,511.0 110.6,510.9 111.0,510.7 111.5,510.6 112.0,510.5 112.5,510.3 113.0,510.2 113.4,510.1 113.9,509.9 114.4,509.8 114.9,509.6 115.4,509.5 115.9,509.3 116.3,509.1 116.8,509.0 117.3,508.8 117.8,508.7 118.3,508.5 118.7,508.3 119.2,508.2 119.7,508.1 120.2,507.9 120.7,507.8 121.1,507.7 121.6,507.6 122.1,507.5 122.6,507.5 123.1,507.4 123.6,507.4 124.0,507.4 124.5,507.4 125.0,507.5 125.5,507.5 126.0,507.6 126.4,507.7 126.9,507.8 127.4,507.9 127.9,508.0 128.4,508.1 128.9,508.2 129.3,508.4 129.8,508.5 130.3,508.6 130.8,508.8 131.3,508.9 131.7,509.0 132.2,509.1 132.7,509.2 133.2,509.3 133.7,509.4 134.1,509.5 134.6,509.6 135.1,509.7 135.6,509.8 136.1,509.8 136.6,509.9 137.0,509.9 137.5,509.9 138.0,510.0 138.5,510.0 139.0,510.0 139.4,510.1 139.9,510.1 140.4,510.1 140.9,510.1 141.4,510.1 141.9,510.1 142.3,510.1 142.8,510.1 143.3,510.1 143.8,510.1 144.3,510.2 144.7,510.2 145.2,510.2 145.7,510.2 146.2,510.2 146.7,510.2 147.1,510.2 147.6,510.2 148.1,510.2 148.6,510.2 149.1,510.2 149.6,510.2 150.0,510.2 150.5,510.2 151.0,510.2 151.5,510.2 152.0,510.2 152.4,510.2 152.9,510.2 153.4,510.2 153.9,510.2 154.4,510.2 154.9,510.2 155.3,510.1 155.8,510.1 156.3,510.1 156.8,510.1 157.3,510.1 157.7,510.1 158.2,510.1 158.7,510.1 159.2,510.1 159.7,510.1 160.1,510.1 160.6,510.1 161.1,510.1 161.6,510.1 162.1,510.1 162.6,510.1 163.0,510.1 163.5,510.1 164.0,510.1 164.5,510.1 165.0,510.1 165.4,510.1 165.9,510.1 166.4,510.1 166.9,510.1 167.4,510.1 167.9,510.1 168.3,510.1 168.8,510.1 169.3,510.1 169.8,510.1 170.3,510.1 170.7,510.1 171.2,510.1 171.7,510.1 172.2,510.1 172.7,510.1 173.1,510.1 173.6,510.1 174.1,510.1 174.6,510.1 175.1,510.1 175.6,510.1 176.0,510.1 176.5,510.1 177.0,510.1 177.5,510.1 178.0,510.1 178.4,510.1 178.9,510.1 179.4,510.1 179.9,510.1 180.4,510.1 180.9,510.1 181.3,510.1 181.8,510.1 182.3,510.1 182.8,510.1 183.3,510.1 183.7,510.1 184.2,510.1 184.7,510.1 185.2,510.1 185.7,510.1 186.2,510.1 186.6,510.1 187.1,510.1 187.6,510.1 188.1,510.1 188.6,510.1 189.0,510.1 189.5,510.1 190.0,510.1 190.5,510.1 191.0,510.1 191.4,510.1 191.9,510.1 192.4,510.1 192.9,510.1 193.4,510.1 193.9,510.1 194.3,510.1 194.8,510.1 195.3,510.1 195.8,510.1" fill="none" stroke="#c0a040" stroke-width="0.9" stroke-linejoin="round"/><path d="M61.0,516.1 61.4,516.1 61.9,516.1 62.4,516.1 62.9,516.1 63.4,516.1 63.8,516.1 64.3,516.1 64.8,516.1 65.3,516.1 65.8,516.1 66.3,516.1 66.7,516.1 67.2,516.1 67.7,516.1 68.2,516.1 68.7,516.1 69.1,516.1 69.6,516.1 70.1,516.1 70.6,516.1 71.1,516.1 71.6,516.1 72.0,516.1 72.5,516.1 73.0,516.1 73.5,516.1 74.0,516.1 74.4,516.1 74.9,516.1 75.4,516.1 75.9,516.1 76.4,516.1 76.8,516.1 77.3,516.1 77.8,516.1 78.3,516.1 78.8,516.1 79.3,516.1 79.7,516.1 80.2,516.1 80.7,516.1 81.2,516.1 81.7,516.1 82.1,516.1 82.6,516.0 83.1,516.0 83.6,516.0 84.1,516.0 84.6,516.0 85.0,516.0 85.5,516.0 86.0,516.0 86.5,516.0 87.0,516.0 87.4,516.0 87.9,516.0 88.4,516.0 88.9,516.0 89.4,516.0 89.9,516.0 90.3,515.9 90.8,515.9 91.3,515.9 91.8,515.9 92.3,515.9 92.7,515.8 93.2,515.8 93.7,515.8 94.2,515.7 94.7,515.7 95.1,515.6 95.6,515.6 96.1,515.5 96.6,515.4 97.1,515.3 97.6,515.2 98.0,515.1 98.5,515.0 99.0,514.9 99.5,514.7 100.0,514.6 100.4,514.4 100.9,514.3 101.4,514.1 101.9,513.9 102.4,513.7 102.9,513.5 103.3,513.3 103.8,513.1 104.3,513.0 104.8,512.8 105.3,512.6 105.7,512.4 106.2,512.3 106.7,512.1 107.2,512.0 107.7,511.8 108.1,511.7 108.6,511.6 109.1,511.5 109.6,511.4 110.1,511.3 110.6,511.2 111.0,511.1 111.5,511.1 112.0,511.0 112.5,511.0 113.0,510.9 113.4,510.9 113.9,510.8 114.4,510.8 114.9,510.7 115.4,510.7 115.9,510.7 116.3,510.6 116.8,510.6 117.3,510.6 117.8,510.6 118.3,510.5 118.7,510.5 119.2,510.5 119.7,510.5 120.2,510.5 120.7,510.4 121.1,510.4 121.6,510.4 122.1,510.4 122.6,510.4 123.1,510.4 123.6,510.4 124.0,510.3 124.5,510.3 125.0,510.3 125.5,510.3 126.0,510.3 126.4,510.3 126.9,510.2 127.4,510.2 127.9,510.2 128.4,510.2 128.9,510.2 129.3,510.2 129.8,510.1 130.3,510.1 130.8,510.1 131.3,510.1 131.7,510.1 132.2,510.1 132.7,510.0 133.2,510.0 133.7,510.0 134.1,510.0 134.6,510.0 135.1,510.0 135.6,509.9 136.1,509.9 136.6,509.9 137.0,509.9 137.5,509.9 138.0,509.9 138.5,509.9 139.0,509.9 139.4,509.9 139.9,509.9 140.4,509.9 140.9,509.9 141.4,509.9 141.9,509.9 142.3,510.0 142.8,510.0 143.3,510.0 143.8,510.0 144.3,510.0 144.7,510.0 145.2,510.0 145.7,510.0 146.2,510.1 146.7,510.1 147.1,510.1 147.6,510.1 148.1,510.1 148.6,510.1 149.1,510.1 149.6,510.1 150.0,510.1 150.5,510.1 151.0,510.1 151.5,510.1 152.0,510.1 152.4,510.1 152.9,510.2 153.4,510.2 153.9,510.2 154.4,510.2 154.9,510.2 155.3,510.2 155.8,510.2 156.3,510.2 156.8,510.2 157.3,510.2 157.7,510.2 158.2,510.1 158.7,510.1 159.2,510.1 159.7,510.1 160.1,510.1 160.6,510.1 161.1,510.1 161.6,510.1 162.1,510.1 162.6,510.1 163.0,510.1 163.5,510.1 164.0,510.1 164.5,510.1 165.0,510.1 165.4,510.1 165.9,510.1 166.4,510.1 166.9,510.1 167.4,510.1 167.9,510.1 168.3,510.1 168.8,510.1 169.3,510.1 169.8,510.1 170.3,510.1 170.7,510.1 171.2,510.1 171.7,510.1 172.2,510.1 172.7,510.1 173.1,510.1 173.6,510.1 174.1,510.1 174.6,510.1 175.1,510.1 175.6,510.1 176.0,510.1 176.5,510.1 177.0,510.1 177.5,510.1 178.0,510.1 178.4,510.1 178.9,510.1 179.4,510.1 179.9,510.1 180.4,510.1 180.9,510.1 181.3,510.1 181.8,510.1 182.3,510.1 182.8,510.1 183.3,510.1 183.7,510.1 184.2,510.1 184.7,510.1 185.2,510.1 185.7,510.1 186.2,510.1 186.6,510.1 187.1,510.1 187.6,510.1 188.1,510.1 188.6,510.1 189.0,510.1 189.5,510.1 190.0,510.1 190.5,510.1 191.0,510.1 191.4,510.1 191.9,510.1 192.4,510.1 192.9,510.1 193.4,510.1 193.9,510.1 194.3,510.1 194.8,510.1 195.3,510.1 195.8,510.1" fill="none" stroke="#302020" stroke-width="0.9" stroke-linejoin="round"/><path d="M61.0,516.1 61.4,516.1 61.9,516.1 62.4,516.1 62.9,516.1 63.4,516.1 63.8,516.1 64.3,516.1 64.8,516.1 65.3,516.1 65.8,516.1 66.3,516.1 66.7,516.1 67.2,516.1 67.7,516.1 68.2,516.1 68.7,516.1 69.1,516.1 69.6,516.1 70.1,516.1 70.6,516.1 71.1,516.1 71.6,516.1 72.0,516.1 72.5,516.1 73.0,516.1 73.5,516.1 74.0,516.1 74.4,516.1 74.9,516.1 75.4,516.1 75.9,516.1 76.4,516.1 76.8,516.1 77.3,516.1 77.8,516.1 78.3,516.1 78.8,516.1 79.3,516.1 79.7,516.1 80.2,516.1 80.7,516.1 81.2,516.1 81.7,516.1 82.1,516.1 82.6,516.0 83.1,516.0 83.6,516.0 84.1,516.0 84.6,516.0 85.0,516.0 85.5,516.0 86.0,516.0 86.5,516.0 87.0,516.0 87.4,516.0 87.9,516.0 88.4,516.0 88.9,516.0 89.4,516.0 89.9,516.0 90.3,515.9 90.8,515.9 91.3,515.9 91.8,515.9 92.3,515.9 92.7,515.8 93.2,515.8 93.7,515.8 94.2,515.7 94.7,515.7 95.1,515.6 95.6,515.6 96.1,515.5 96.6,515.4 97.1,515.3 97.6,515.2 98.0,515.1 98.5,515.0 99.0,514.9 99.5,514.7 100.0,514.6 100.4,514.4 100.9,514.3 101.4,514.1 101.9,513.9 102.4,513.7 102.9,513.5 103.3,513.3 103.8,513.1 104.3,512.9 104.8,512.8 105.3,512.6 105.7,512.4 106.2,512.3 106.7,512.1 107.2,512.0 107.7,511.8 108.1,511.7 108.6,511.6 109.1,511.5 109.6,511.4 110.1,511.3 110.6,511.2 111.0,511.1 111.5,511.1 112.0,511.0 112.5,511.0 113.0,510.9 113.4,510.9 113.9,510.8 114.4,510.8 114.9,510.7 115.4,510.7 115.9,510.7 116.3,510.6 116.8,510.6 117.3,510.6 117.8,510.6 118.3,510.5 118.7,510.5 119.2,510.5 119.7,510.5 120.2,510.5 120.7,510.4 121.1,510.4 121.6,510.4 122.1,510.4 122.6,510.4 123.1,510.4 123.6,510.4 124.0,510.4 124.5,510.3 125.0,510.3 125.5,510.3 126.0,510.3 126.4,510.3 126.9,510.3 127.4,510.3 127.9,510.3 128.4,510.3 128.9,510.3 129.3,510.3 129.8,510.3 130.3,510.3 130.8,510.3 131.3,510.2 131.7,510.2 132.2,510.2 132.7,510.2 133.2,510.2 133.7,510.2 134.1,510.2 134.6,510.2 135.1,510.2 135.6,510.2 136.1,510.2 136.6,510.2 137.0,510.2 137.5,510.2 138.0,510.2 138.5,510.2 139.0,510.2 139.4,510.2 139.9,510.2 140.4,510.2 140.9,510.2 141.4,510.2 141.9,510.2 142.3,510.2 142.8,510.2 143.3,510.2 143.8,510.2 144.3,510.1 144.7,510.1 145.2,510.1 145.7,510.1 146.2,510.1 146.7,510.1 147.1,510.1 147.6,510.1 148.1,510.1 148.6,510.1 149.1,510.0 149.6,510.0 150.0,510.0 150.5,510.0 151.0,510.0 151.5,510.0 152.0,509.9 152.4,509.9 152.9,509.9 153.4,509.8 153.9,509.8 154.4,509.8 154.9,509.7 155.3,509.7 155.8,509.7 156.3,509.6 156.8,509.6 157.3,509.5 157.7,509.5 158.2,509.5 158.7,509.4 159.2,509.4 159.7,509.3 160.1,509.3 160.6,509.2 161.1,509.2 161.6,509.1 162.1,509.1 162.6,509.1 163.0,509.0 163.5,509.0 164.0,509.0 164.5,508.9 165.0,508.9 165.4,508.9 165.9,508.9 166.4,508.9 166.9,508.9 167.4,508.9 167.9,508.9 168.3,508.9 168.8,508.9 169.3,508.9 169.8,508.9 170.3,509.0 170.7,509.0 171.2,509.0 171.7,509.1 172.2,509.1 172.7,509.1 173.1,509.2 173.6,509.2 174.1,509.3 174.6,509.3 175.1,509.3 175.6,509.4 176.0,509.4 176.5,509.5 177.0,509.5 177.5,509.5 178.0,509.6 178.4,509.6 178.9,509.6 179.4,509.7 179.9,509.7 180.4,509.7 180.9,509.8 181.3,509.8 181.8,509.8 182.3,509.8 182.8,509.9 183.3,509.9 183.7,509.9 184.2,509.9 184.7,509.9 185.2,509.9 185.7,510.0 186.2,510.0 186.6,510.0 187.1,510.0 187.6,510.0 188.1,510.0 188.6,510.0 189.0,510.0 189.5,510.0 190.0,510.0 190.5,510.0 191.0,510.0 191.4,510.0 191.9,510.0 192.4,510.0 192.9,510.0 193.4,510.0 193.9,510.0 194.3,510.0 194.8,510.0 195.3,510.0 195.8,510.0" fill="none" stroke="#40c8d0" stroke-width="0.9" stroke-linejoin="round"/><path d="M61.0,516.1 61.4,516.1 61.9,516.1 62.4,516.1 62.9,516.1 63.4,516.1 63.8,516.1 64.3,516.1 64.8,516.1 65.3,516.1 65.8,516.1 66.3,516.1 66.7,516.1 67.2,516.1 67.7,516.1 68.2,516.1 68.7,516.1 69.1,516.1 69.6,516.1 70.1,516.1 70.6,516.1 71.1,516.1 71.6,516.1 72.0,516.1 72.5,516.1 73.0,516.1 73.5,516.1 74.0,516.1 74.4,516.1 74.9,516.1 75.4,516.1 75.9,516.1 76.4,516.1 76.8,516.1 77.3,516.1 77.8,516.1 78.3,516.1 78.8,516.1 79.3,516.1 79.7,516.1 80.2,516.1 80.7,516.1 81.2,516.1 81.7,516.1 82.1,516.1 82.6,516.0 83.1,516.0 83.6,516.0 84.1,516.0 84.6,516.0 85.0,516.0 85.5,516.0 86.0,516.0 86.5,516.0 87.0,516.0 87.4,516.0 87.9,516.0 88.4,516.0 88.9,516.0 89.4,516.0 89.9,516.0 90.3,515.9 90.8,515.9 91.3,515.9 91.8,515.9 92.3,515.9 92.7,515.8 93.2,515.8 93.7,515.8 94.2,515.7 94.7,515.7 95.1,515.6 95.6,515.6 96.1,515.5 96.6,515.4 97.1,515.3 97.6,515.2 98.0,515.1 98.5,515.0 99.0,514.9 99.5,514.7 100.0,514.6 100.4,514.4 100.9,514.3 101.4,514.1 101.9,513.9 102.4,513.7 102.9,513.5 103.3,513.3 103.8,513.1 104.3,513.0 104.8,512.8 105.3,512.6 105.7,512.4 106.2,512.3 106.7,512.1 107.2,512.0 107.7,511.8 108.1,511.7 108.6,511.6 109.1,511.5 109.6,511.4 110.1,511.3 110.6,511.2 111.0,511.1 111.5,511.1 112.0,511.0 112.5,511.0 113.0,510.9 113.4,510.9 113.9,510.8 114.4,510.8 114.9,510.7 115.4,510.7 115.9,510.7 116.3,510.6 116.8,510.6 117.3,510.6 117.8,510.6 118.3,510.5 118.7,510.5 119.2,510.5 119.7,510.5 120.2,510.5 120.7,510.5 121.1,510.4 121.6,510.4 122.1,510.4 122.6,510.4 123.1,510.4 123.6,510.4 124.0,510.4 124.5,510.4 125.0,510.3 125.5,510.3 126.0,510.3 126.4,510.3 126.9,510.3 127.4,510.3 127.9,510.3 128.4,510.3 128.9,510.3 129.3,510.3 129.8,510.3 130.3,510.3 130.8,510.3 131.3,510.3 131.7,510.3 132.2,510.2 132.7,510.2 133.2,510.2 133.7,510.2 134.1,510.2 134.6,510.2 135.1,510.2 135.6,510.2 136.1,510.2 136.6,510.2 137.0,510.2 137.5,510.2 138.0,510.2 138.5,510.2 139.0,510.2 139.4,510.2 139.9,510.2 140.4,510.2 140.9,510.2 141.4,510.2 141.9,510.2 142.3,510.2 142.8,510.2 143.3,510.2 143.8,510.2 144.3,510.2 144.7,510.2 145.2,510.2 145.7,510.2 146.2,510.2 146.7,510.2 147.1,510.2 147.6,510.2 148.1,510.2 148.6,510.2 149.1,510.2 149.6,510.2 150.0,510.2 150.5,510.2 151.0,510.2 151.5,510.2 152.0,510.2 152.4,510.2 152.9,510.2 153.4,510.2 153.9,510.2 154.4,510.2 154.9,510.2 155.3,510.2 155.8,510.2 156.3,510.2 156.8,510.2 157.3,510.2 157.7,510.2 158.2,510.2 158.7,510.2 159.2,510.2 159.7,510.1 160.1,510.1 160.6,510.1 161.1,510.1 161.6,510.1 162.1,510.1 162.6,510.1 163.0,510.1 163.5,510.1 164.0,510.1 164.5,510.1 165.0,510.1 165.4,510.1 165.9,510.1 166.4,510.1 166.9,510.1 167.4,510.1 167.9,510.1 168.3,510.1 168.8,510.1 169.3,510.1 169.8,510.1 170.3,510.1 170.7,510.1 171.2,510.1 171.7,510.1 172.2,510.1 172.7,510.1 173.1,510.1 173.6,510.1 174.1,510.1 174.6,510.1 175.1,510.1 175.6,510.1 176.0,510.1 176.5,510.1 177.0,510.1 177.5,510.1 178.0,510.1 178.4,510.1 178.9,510.1 179.4,510.1 179.9,510.1 180.4,510.1 180.9,510.1 181.3,510.1 181.8,510.1 182.3,510.1 182.8,510.1 183.3,510.1 183.7,510.1 184.2,510.1 184.7,510.1 185.2,510.1 185.7,510.1 186.2,510.1 186.6,510.1 187.1,510.1 187.6,510.1 188.1,510.1 188.6,510.1 189.0,510.1 189.5,510.1 190.0,510.1 190.5,510.1 191.0,510.1 191.4,510.1 191.9,510.1 192.4,510.1 192.9,510.1 193.4,510.1 193.9,510.1 194.3,510.1 194.8,510.1 195.3,510.1 195.8,510.1" fill="none" stroke="#3a3a3a" stroke-width="0.8"/></g>
<rect x="41.8" y="390.8" width="173.4" height="137.9" fill="none" stroke="#3c3c3c" stroke-width="1.1"/>
<path d="M41.70,528.70 V526.10 M51.33,528.70 V527.10 M60.96,528.70 V526.10 M70.59,528.70 V527.10 M80.22,528.70 V526.10 M89.85,528.70 V527.10 M99.48,528.70 V526.10 M109.11,528.70 V527.10 M118.74,528.70 V526.10 M128.37,528.70 V527.10 M138.00,528.70 V526.10 M147.63,528.70 V527.10 M157.26,528.70 V526.10 M166.89,528.70 V527.10 M176.52,528.70 V526.10 M186.15,528.70 V527.10 M195.78,528.70 V526.10 M205.41,528.70 V527.10 M215.04,528.70 V526.10 M41.80,519.50 H44.40 M41.80,501.16 H44.40 M41.80,482.82 H44.40 M41.80,464.48 H44.40 M41.80,446.14 H44.40 M41.80,427.80 H44.40 M41.80,409.46 H44.40 M41.80,391.12 H44.40 M41.80,510.33 H43.40 M41.80,491.99 H43.40 M41.80,473.65 H43.40 M41.80,455.31 H43.40 M41.80,436.97 H43.40 M41.80,418.63 H43.40 M41.80,400.29 H43.40 M41.80,528.67 H43.40" stroke="#3c3c3c" stroke-width="1.15" fill="none"/>
<text x="41.7" y="537" font-size="5.6" text-anchor="middle" fill="#222" stroke="#222" font-weight="normal" font-family="Liberation Sans" >278</text>
<text x="60.96" y="537" font-size="5.6" text-anchor="middle" fill="#222" stroke="#222" font-weight="normal" font-family="Liberation Sans" >280</text>
<text x="80.22" y="537" font-size="5.6" text-anchor="middle" fill="#222" stroke="#222" font-weight="normal" font-family="Liberation Sans" >282</text>
<text x="99.48" y="537" font-size="5.6" text-anchor="middle" fill="#222" stroke="#222" font-weight="normal" font-family="Liberation Sans" >284</text>
<text x="118.74" y="537" font-size="5.6" text-anchor="middle" fill="#222" stroke="#222" font-weight="normal" font-family="Liberation Sans" >286</text>
<text x="138" y="537" font-size="5.6" text-anchor="middle" fill="#222" stroke="#222" font-weight="normal" font-family="Liberation Sans" >288</text>
<text x="157.26" y="537" font-size="5.6" text-anchor="middle" fill="#222" stroke="#222" font-weight="normal" font-family="Liberation Sans" >290</text>
<text x="176.52" y="537" font-size="5.6" text-anchor="middle" fill="#222" stroke="#222" font-weight="normal" font-family="Liberation Sans" >292</text>
<text x="195.78" y="537" font-size="5.6" text-anchor="middle" fill="#222" stroke="#222" font-weight="normal" font-family="Liberation Sans" >294</text>
<text x="215.04" y="537" font-size="5.6" text-anchor="middle" fill="#222" stroke="#222" font-weight="normal" font-family="Liberation Sans" >296</text>
<text x="39" y="521.46" font-size="5.6" text-anchor="end" fill="#222" stroke="#222" font-weight="normal" font-family="Liberation Sans" >0,0</text>
<text x="39" y="503.12" font-size="5.6" text-anchor="end" fill="#222" stroke="#222" font-family="Liberation Sans">2,0x10<tspan font-size="3.47" dy="-2.35">3</tspan></text>
<text x="39" y="484.78" font-size="5.6" text-anchor="end" fill="#222" stroke="#222" font-family="Liberation Sans">4,0x10<tspan font-size="3.47" dy="-2.35">3</tspan></text>
<text x="39" y="466.44" font-size="5.6" text-anchor="end" fill="#222" stroke="#222" font-family="Liberation Sans">6,0x10<tspan font-size="3.47" dy="-2.35">3</tspan></text>
<text x="39" y="448.1" font-size="5.6" text-anchor="end" fill="#222" stroke="#222" font-family="Liberation Sans">8,0x10<tspan font-size="3.47" dy="-2.35">3</tspan></text>
<text x="39" y="429.76" font-size="5.6" text-anchor="end" fill="#222" stroke="#222" font-family="Liberation Sans">1,0x10<tspan font-size="3.47" dy="-2.35">4</tspan></text>
<text x="39" y="411.42" font-size="5.6" text-anchor="end" fill="#222" stroke="#222" font-family="Liberation Sans">1,2x10<tspan font-size="3.47" dy="-2.35">4</tspan></text>
<text x="39" y="393.08" font-size="5.6" text-anchor="end" fill="#222" stroke="#222" font-family="Liberation Sans">1,4x10<tspan font-size="3.47" dy="-2.35">4</tspan></text>
<text x="127.8" y="547.6" font-size="6.8" text-anchor="middle" fill="#222" stroke="#222" font-weight="normal" font-family="Liberation Sans" >Binding Energy, eV</text>
<text x="0" y="0" font-size="6.8" text-anchor="middle" fill="#222" stroke="#222" font-weight="normal" font-family="Liberation Sans" transform="translate(10.6,461.3) rotate(-90)">Intensity, Arb. units</text>
<text x="45.8" y="402" font-size="6.7" font-family="Liberation Sans" fill="#111" stroke="#111">sp<tspan font-size="4.02" dy="2.01">3</tspan><tspan dy="-2.01">/sp</tspan><tspan font-size="4.02" dy="2.01">2</tspan><tspan dy="-2.01">=0.15</tspan></text>
<text x="159.1" y="400.3" font-size="7" font-family="Liberation Sans" fill="#111" stroke="#111">C1s</text>
<text x="159.1" y="408.6" font-size="6.8" font-family="Liberation Sans" fill="#111" stroke="#111">HQ+H<tspan font-size="4.08" dy="2.04">2</tspan><tspan dy="-2.04">O, 355nm</tspan></text>
<text x="127.2" y="431.6" font-size="6.8" font-family="Liberation Sans" fill="#111" stroke="#111" font-weight="normal">Position (eV)</text>
<text x="177.9" y="431.6" font-size="6.8" font-family="Liberation Sans" fill="#111" stroke="#111" font-weight="normal">Area (%)</text>
<text x="160.8" y="439.9" font-size="6.8" font-family="Liberation Sans" fill="#2a8a48" stroke="#2a8a48" text-anchor="end" font-weight="normal">284.3</text>
<text x="193.6" y="439.9" font-size="6.8" font-family="Liberation Sans" fill="#2a8a48" stroke="#2a8a48" text-anchor="end" font-weight="normal">82.1</text>
<text x="160.8" y="448" font-size="6.8" font-family="Liberation Sans" fill="#6a2a90" stroke="#6a2a90" text-anchor="end" font-weight="normal">285.3</text>
<text x="193.6" y="448" font-size="6.8" font-family="Liberation Sans" fill="#6a2a90" stroke="#6a2a90" text-anchor="end" font-weight="normal">12.7</text>
<text x="160.8" y="456.1" font-size="6.8" font-family="Liberation Sans" fill="#a08050" stroke="#a08050" text-anchor="end" font-weight="normal">286.5</text>
<text x="193.6" y="456.1" font-size="6.8" font-family="Liberation Sans" fill="#a08050" stroke="#a08050" text-anchor="end" font-weight="normal">3.5</text>
<text x="160.8" y="464.2" font-size="6.8" font-family="Liberation Sans" fill="#222" stroke="#222" text-anchor="end" font-weight="normal">288.0</text>
<text x="193.6" y="464.2" font-size="6.8" font-family="Liberation Sans" fill="#222" stroke="#222" text-anchor="end" font-weight="normal">0.5</text>
<text x="160.8" y="472.3" font-size="6.8" font-family="Liberation Sans" fill="#50d8e8" stroke="#50d8e8" text-anchor="end" font-weight="normal">291.0</text>
<text x="193.6" y="472.3" font-size="6.8" font-family="Liberation Sans" fill="#50d8e8" stroke="#50d8e8" text-anchor="end" font-weight="normal">1.2</text>
<g><path d="M294.0,516.0 294.5,516.1 295.1,516.3 295.6,516.3 296.2,516.3 296.7,516.1 297.2,516.1 297.8,516.0 298.3,516.0 298.8,516.1 299.4,516.1 299.9,516.0 300.5,515.9 301.0,515.9 301.5,516.0 302.1,516.0 302.6,515.8 303.1,515.7 303.7,515.7 304.2,515.7 304.8,515.7 305.3,515.6 305.8,515.5 306.4,515.5 306.9,515.5 307.4,515.5 308.0,515.5 308.5,515.5 309.1,515.6 309.6,515.5 310.1,515.5 310.7,515.4 311.2,515.4 311.7,515.3 312.3,515.2 312.8,515.1 313.4,515.0 313.9,515.0 314.4,514.9 315.0,514.9 315.5,514.8 316.0,514.8 316.6,514.7 317.1,514.5 317.7,514.4 318.2,514.3 318.7,514.3 319.3,514.2 319.8,514.2 320.3,514.0 320.9,513.7 321.4,513.3 322.0,513.1 322.5,512.9 323.0,512.7 323.6,512.4 324.1,512.1 324.6,511.7 325.2,511.2 325.7,510.6 326.3,509.8 326.8,509.0 327.3,507.8 327.9,506.5 328.4,505.0 328.9,503.3 329.5,501.2 330.0,498.8 330.6,496.0 331.1,492.9 331.6,489.2 332.2,485.1 332.7,480.6 333.2,475.7 333.8,470.3 334.3,464.6 334.9,458.7 335.4,452.6 335.9,446.3 336.5,439.7 337.0,433.3 337.5,426.9 338.1,421.0 338.6,415.6 339.2,411.1 339.7,407.4 340.2,404.5 340.8,402.9 341.3,402.3 341.8,403.0 342.4,404.6 342.9,407.2 343.5,410.6 344.0,414.6 344.5,419.2 345.1,423.9 345.6,429.0 346.1,434.1 346.7,439.1 347.2,443.9 347.8,448.8 348.3,453.4 348.8,457.8 349.4,461.8 349.9,465.4 350.4,468.9 351.0,472.1 351.5,474.9 352.1,477.7 352.6,480.3 353.1,483.0 353.7,485.3 354.2,487.5 354.7,489.3 355.3,490.8 355.8,492.5 356.4,494.0 356.9,495.3 357.4,496.6 358.0,497.8 358.5,498.9 359.0,499.8 359.6,500.4 360.1,501.2 360.7,501.9 361.2,502.6 361.7,503.1 362.3,503.4 362.8,503.7 363.3,504.1 363.9,504.5 364.4,504.8 365.0,505.1 365.5,505.3 366.0,505.5 366.6,505.6 367.1,505.8 367.6,506.1 368.2,506.4 368.7,506.7 369.3,506.8 369.8,507.0 370.3,507.0 370.9,507.4 371.4,507.6 371.9,507.8 372.5,507.9 373.0,508.0 373.6,508.2 374.1,508.3 374.6,508.5 375.2,508.7 375.7,509.0 376.2,509.1 376.8,509.2 377.3,509.2 377.9,509.2 378.4,509.4 378.9,509.6 379.5,509.8 380.0,509.8 380.5,509.8 381.1,509.9 381.6,509.9 382.2,509.8 382.7,509.7 383.2,509.7 383.8,509.9 384.3,510.0 384.8,510.1 385.4,510.1 385.9,510.2 386.5,510.2 387.0,510.4 387.5,510.3 388.1,510.3 388.6,510.2 389.1,510.3 389.7,510.3 390.2,510.5 390.8,510.3 391.3,510.3 391.8,510.2 392.4,510.3 392.9,510.4 393.4,510.4 394.0,510.4 394.5,510.2 395.1,510.2 395.6,510.2 396.1,510.3 396.7,510.3 397.2,510.3 397.7,510.3 398.3,510.2 398.8,510.1 399.4,509.9 399.9,509.9 400.4,509.8 401.0,509.8 401.5,509.6 402.0,509.7 402.6,509.8 403.1,509.8 403.7,509.8 404.2,509.8 404.7,510.0 405.3,509.9 405.8,509.9 406.3,509.8 406.9,509.6 407.4,509.5 408.0,509.5 408.5,509.7 409.0,509.8 409.6,509.9 410.1,509.7 410.6,509.7 411.2,509.9 411.7,509.9 412.3,510.0 412.8,510.0 413.3,510.0 413.9,509.9 414.4,509.8 414.9,510.0 415.5,510.0 416.0,510.1 416.6,510.0 417.1,510.0 417.6,510.2 418.2,510.2 418.7,510.2 419.2,510.2 419.8,510.4 420.3,510.5 420.9,510.5 421.4,510.4 421.9,510.4 422.5,510.3 423.0,510.3 423.5,510.3 424.1,510.5 424.6,510.6 425.2,510.7 425.7,510.8 426.2,510.7 426.8,510.7 427.3,510.7 427.8,510.7 428.4,510.7 428.9,510.7 429.5,510.6 430.0,510.5 430.5,510.6 431.1,510.7 431.6,510.8 432.1,510.8 432.7,510.7 433.2,510.6 433.8,510.5 434.3,510.5 434.8,510.6 435.4,510.7 435.9,510.8 436.4,510.7 437.0,510.7 437.5,510.7 438.1,510.7 438.6,510.6 439.1,510.6 439.7,510.7 440.2,510.9 440.7,510.9 441.3,510.8 441.8,510.8 442.4,510.9 442.9,510.9 443.4,511.0 444.0,510.9 444.5,510.9" fill="none" stroke="#333" stroke-width="0.6" opacity="1"/><path d="M294.0,516.1 294.5,516.1 295.1,516.1 295.6,516.1 296.2,516.1 296.7,516.1 297.2,516.1 297.8,516.0 298.3,516.0 298.8,516.0 299.4,516.0 299.9,516.0 300.5,515.9 301.0,515.9 301.5,515.9 302.1,515.9 302.6,515.8 303.1,515.8 303.7,515.8 304.2,515.8 304.8,515.7 305.3,515.7 305.8,515.7 306.4,515.7 306.9,515.6 307.4,515.6 308.0,515.5 308.5,515.5 309.1,515.5 309.6,515.4 310.1,515.4 310.7,515.3 311.2,515.3 311.7,515.2 312.3,515.2 312.8,515.1 313.4,515.1 313.9,515.0 314.4,514.9 315.0,514.9 315.5,514.8 316.0,514.7 316.6,514.6 317.1,514.5 317.7,514.5 318.2,514.3 318.7,514.2 319.3,514.1 319.8,514.0 320.3,513.8 320.9,513.7 321.4,513.5 322.0,513.3 322.5,513.1 323.0,512.8 323.6,512.5 324.1,512.1 324.6,511.7 325.2,511.2 325.7,510.5 326.3,509.8 326.8,508.9 327.3,507.9 327.9,506.6 328.4,505.1 328.9,503.3 329.5,501.2 330.0,498.8 330.6,496.0 331.1,492.9 331.6,489.2 332.2,485.2 332.7,480.7 333.2,475.8 333.8,470.5 334.3,464.8 334.9,458.8 335.4,452.5 335.9,446.1 336.5,439.6 337.0,433.1 337.5,426.9 338.1,421.0 338.6,415.7 339.2,411.1 339.7,407.3 340.2,404.5 340.8,402.8 341.3,402.3 341.8,402.9 342.4,404.6 342.9,407.2 343.5,410.6 344.0,414.6 344.5,419.2 345.1,424.0 345.6,429.0 346.1,434.1 346.7,439.2 347.2,444.1 347.8,448.9 348.3,453.4 348.8,457.7 349.4,461.7 349.9,465.5 350.4,469.0 351.0,472.2 351.5,475.2 352.1,478.0 352.6,480.6 353.1,483.0 353.7,485.2 354.2,487.3 354.7,489.2 355.3,490.9 355.8,492.5 356.4,494.0 356.9,495.4 357.4,496.6 358.0,497.8 358.5,498.8 359.0,499.7 359.6,500.5 360.1,501.3 360.7,501.9 361.2,502.5 361.7,503.0 362.3,503.5 362.8,503.9 363.3,504.2 363.9,504.5 364.4,504.8 365.0,505.1 365.5,505.3 366.0,505.5 366.6,505.8 367.1,506.0 367.6,506.2 368.2,506.4 368.7,506.6 369.3,506.7 369.8,506.9 370.3,507.1 370.9,507.3 371.4,507.5 371.9,507.7 372.5,507.9 373.0,508.0 373.6,508.2 374.1,508.4 374.6,508.5 375.2,508.7 375.7,508.8 376.2,509.0 376.8,509.1 377.3,509.2 377.9,509.3 378.4,509.4 378.9,509.5 379.5,509.6 380.0,509.7 380.5,509.8 381.1,509.8 381.6,509.9 382.2,510.0 382.7,510.0 383.2,510.1 383.8,510.1 384.3,510.1 384.8,510.2 385.4,510.2 385.9,510.2 386.5,510.2 387.0,510.3 387.5,510.3 388.1,510.3 388.6,510.3 389.1,510.3 389.7,510.3 390.2,510.3 390.8,510.3 391.3,510.3 391.8,510.3 392.4,510.3 392.9,510.3 393.4,510.2 394.0,510.2 394.5,510.2 395.1,510.2 395.6,510.2 396.1,510.1 396.7,510.1 397.2,510.1 397.7,510.1 398.3,510.0 398.8,510.0 399.4,510.0 399.9,509.9 400.4,509.9 401.0,509.9 401.5,509.9 402.0,509.8 402.6,509.8 403.1,509.8 403.7,509.8 404.2,509.7 404.7,509.7 405.3,509.7 405.8,509.7 406.3,509.7 406.9,509.7 407.4,509.7 408.0,509.7 408.5,509.7 409.0,509.7 409.6,509.7 410.1,509.7 410.6,509.7 411.2,509.7 411.7,509.8 412.3,509.8 412.8,509.8 413.3,509.9 413.9,509.9 414.4,509.9 414.9,510.0 415.5,510.0 416.0,510.0 416.6,510.1 417.1,510.1 417.6,510.2 418.2,510.2 418.7,510.2 419.2,510.3 419.8,510.3 420.3,510.3 420.9,510.4 421.4,510.4 421.9,510.4 422.5,510.5 423.0,510.5 423.5,510.5 424.1,510.5 424.6,510.6 425.2,510.6 425.7,510.6 426.2,510.6 426.8,510.6 427.3,510.6 427.8,510.7 428.4,510.7 428.9,510.7 429.5,510.7 430.0,510.7 430.5,510.7 431.1,510.7 431.6,510.7 432.1,510.7 432.7,510.7 433.2,510.7 433.8,510.8 434.3,510.8 434.8,510.8 435.4,510.8 435.9,510.8 436.4,510.8 437.0,510.8 437.5,510.8 438.1,510.8 438.6,510.8 439.1,510.8 439.7,510.8 440.2,510.8 440.7,510.8 441.3,510.8 441.8,510.8 442.4,510.8 442.9,510.8 443.4,510.8 444.0,510.8 444.5,510.8" fill="none" stroke="#d84040" stroke-width="0.9"/><path d="M294.0,516.2 294.5,516.2 295.1,516.1 295.6,516.1 296.2,516.1 296.7,516.1 297.2,516.1 297.8,516.1 298.3,516.0 298.8,516.0 299.4,516.0 299.9,516.0 300.5,516.0 301.0,516.0 301.5,515.9 302.1,515.9 302.6,515.9 303.1,515.9 303.7,515.8 304.2,515.8 304.8,515.8 305.3,515.8 305.8,515.7 306.4,515.7 306.9,515.7 307.4,515.6 308.0,515.6 308.5,515.6 309.1,515.5 309.6,515.5 310.1,515.4 310.7,515.4 311.2,515.3 311.7,515.3 312.3,515.2 312.8,515.2 313.4,515.1 313.9,515.1 314.4,515.0 315.0,514.9 315.5,514.9 316.0,514.8 316.6,514.7 317.1,514.6 317.7,514.5 318.2,514.4 318.7,514.3 319.3,514.2 319.8,514.1 320.3,513.9 320.9,513.8 321.4,513.6 322.0,513.4 322.5,513.2 323.0,512.9 323.6,512.6 324.1,512.2 324.6,511.8 325.2,511.3 325.7,510.7 326.3,509.9 326.8,509.1 327.3,508.0 327.9,506.7 328.4,505.3 328.9,503.5 329.5,501.4 330.0,499.0 330.6,496.2 331.1,493.1 331.6,489.5 332.2,485.5 332.7,481.0 333.2,476.2 333.8,470.9 334.3,465.3 334.9,459.3 335.4,453.2 335.9,446.9 336.5,440.5 337.0,434.3 337.5,428.3 338.1,422.7 338.6,417.7 339.2,413.4 339.7,410.1 340.2,407.8 340.8,406.7 341.3,406.8 341.8,408.1 342.4,410.6 342.9,414.0 343.5,418.3 344.0,423.4 344.5,428.9 345.1,434.7 345.6,440.8 346.1,446.9 346.7,452.9 347.2,458.8 347.8,464.4 348.3,469.7 348.8,474.6 349.4,479.1 349.9,483.2 350.4,486.9 351.0,490.2 351.5,493.1 352.1,495.6 352.6,497.7 353.1,499.6 353.7,501.2 354.2,502.5 354.7,503.6 355.3,504.5 355.8,505.3 356.4,505.9 356.9,506.4 357.4,506.9 358.0,507.3 358.5,507.6 359.0,507.8 359.6,508.0 360.1,508.2 360.7,508.4 361.2,508.6 361.7,508.7 362.3,508.8 362.8,508.9 363.3,509.0 363.9,509.1 364.4,509.2 365.0,509.3 365.5,509.3 366.0,509.4 366.6,509.5 367.1,509.5 367.6,509.6 368.2,509.6 368.7,509.7 369.3,509.7 369.8,509.8 370.3,509.8 370.9,509.8 371.4,509.9 371.9,509.9 372.5,510.0 373.0,510.0 373.6,510.0 374.1,510.0 374.6,510.1 375.2,510.1 375.7,510.1 376.2,510.2 376.8,510.2 377.3,510.2 377.9,510.2 378.4,510.2 378.9,510.3 379.5,510.3 380.0,510.3 380.5,510.3 381.1,510.3 381.6,510.4 382.2,510.4 382.7,510.4 383.2,510.4 383.8,510.4 384.3,510.4 384.8,510.4 385.4,510.5 385.9,510.5 386.5,510.5 387.0,510.5 387.5,510.5 388.1,510.5 388.6,510.5 389.1,510.5 389.7,510.5 390.2,510.6 390.8,510.6 391.3,510.6 391.8,510.6 392.4,510.6 392.9,510.6 393.4,510.6 394.0,510.6 394.5,510.6 395.1,510.6 395.6,510.6 396.1,510.6 396.7,510.6 397.2,510.7 397.7,510.7 398.3,510.7 398.8,510.7 399.4,510.7 399.9,510.7 400.4,510.7 401.0,510.7 401.5,510.7 402.0,510.7 402.6,510.7 403.1,510.7 403.7,510.7 404.2,510.7 404.7,510.7 405.3,510.7 405.8,510.7 406.3,510.7 406.9,510.7 407.4,510.7 408.0,510.7 408.5,510.7 409.0,510.7 409.6,510.7 410.1,510.7 410.6,510.7 411.2,510.7 411.7,510.7 412.3,510.7 412.8,510.7 413.3,510.7 413.9,510.7 414.4,510.7 414.9,510.7 415.5,510.8 416.0,510.8 416.6,510.8 417.1,510.8 417.6,510.8 418.2,510.8 418.7,510.8 419.2,510.8 419.8,510.8 420.3,510.8 420.9,510.8 421.4,510.8 421.9,510.8 422.5,510.8 423.0,510.8 423.5,510.8 424.1,510.8 424.6,510.8 425.2,510.8 425.7,510.8 426.2,510.8 426.8,510.8 427.3,510.8 427.8,510.8 428.4,510.8 428.9,510.8 429.5,510.8 430.0,510.8 430.5,510.8 431.1,510.8 431.6,510.8 432.1,510.8 432.7,510.8 433.2,510.8 433.8,510.8 434.3,510.8 434.8,510.8 435.4,510.8 435.9,510.8 436.4,510.8 437.0,510.8 437.5,510.8 438.1,510.8 438.6,510.8 439.1,510.8 439.7,510.8 440.2,510.8 440.7,510.8 441.3,510.8 441.8,510.8 442.4,510.8 442.9,510.8 443.4,510.8 444.0,510.8 444.5,510.8" fill="none" stroke="#289470" stroke-width="1.08" stroke-linejoin="round"/><path d="M294.0,516.7 294.5,516.7 295.1,516.7 295.6,516.7 296.2,516.7 296.7,516.7 297.2,516.7 297.8,516.7 298.3,516.7 298.8,516.7 299.4,516.7 299.9,516.7 300.5,516.7 301.0,516.7 301.5,516.7 302.1,516.7 302.6,516.7 303.1,516.7 303.7,516.7 304.2,516.7 304.8,516.7 305.3,516.7 305.8,516.7 306.4,516.6 306.9,516.6 307.4,516.6 308.0,516.6 308.5,516.6 309.1,516.6 309.6,516.6 310.1,516.6 310.7,516.6 311.2,516.6 311.7,516.6 312.3,516.6 312.8,516.6 313.4,516.6 313.9,516.6 314.4,516.6 315.0,516.6 315.5,516.6 316.0,516.6 316.6,516.6 317.1,516.6 317.7,516.6 318.2,516.6 318.7,516.6 319.3,516.6 319.8,516.5 320.3,516.5 320.9,516.5 321.4,516.5 322.0,516.5 322.5,516.5 323.0,516.5 323.6,516.5 324.1,516.5 324.6,516.5 325.2,516.5 325.7,516.4 326.3,516.4 326.8,516.4 327.3,516.4 327.9,516.4 328.4,516.3 328.9,516.3 329.5,516.3 330.0,516.2 330.6,516.2 331.1,516.1 331.6,516.1 332.2,516.0 332.7,515.9 333.2,515.8 333.8,515.7 334.3,515.5 334.9,515.4 335.4,515.1 335.9,514.9 336.5,514.6 337.0,514.3 337.5,514.0 338.1,513.5 338.6,513.1 339.2,512.5 339.7,511.9 340.2,511.3 340.8,510.5 341.3,509.7 341.8,508.8 342.4,507.9 342.9,506.9 343.5,505.8 344.0,504.7 344.5,503.6 345.1,502.5 345.6,501.4 346.1,500.3 346.7,499.2 347.2,498.2 347.8,497.3 348.3,496.6 348.8,495.9 349.4,495.4 349.9,495.1 350.4,494.9 351.0,494.9 351.5,495.1 352.1,495.4 352.6,495.9 353.1,496.5 353.7,497.2 354.2,498.1 354.7,499.0 355.3,499.9 355.8,500.8 356.4,501.8 356.9,502.7 357.4,503.7 358.0,504.5 358.5,505.4 359.0,506.1 359.6,506.8 360.1,507.5 360.7,508.0 361.2,508.5 361.7,508.9 362.3,509.3 362.8,509.6 363.3,509.9 363.9,510.1 364.4,510.3 365.0,510.5 365.5,510.6 366.0,510.7 366.6,510.7 367.1,510.8 367.6,510.8 368.2,510.9 368.7,510.9 369.3,510.9 369.8,510.9 370.3,511.0 370.9,511.0 371.4,511.0 371.9,511.0 372.5,511.0 373.0,511.0 373.6,511.0 374.1,511.0 374.6,511.0 375.2,511.0 375.7,511.0 376.2,511.0 376.8,511.0 377.3,511.0 377.9,511.0 378.4,511.0 378.9,511.0 379.5,511.0 380.0,511.0 380.5,511.0 381.1,511.0 381.6,511.0 382.2,511.0 382.7,511.0 383.2,511.0 383.8,511.0 384.3,511.0 384.8,511.0 385.4,511.0 385.9,511.0 386.5,511.0 387.0,511.0 387.5,511.0 388.1,511.0 388.6,511.0 389.1,511.0 389.7,511.0 390.2,511.0 390.8,511.0 391.3,511.0 391.8,511.0 392.4,511.0 392.9,511.0 393.4,511.0 394.0,511.0 394.5,511.0 395.1,511.0 395.6,511.0 396.1,511.0 396.7,511.0 397.2,511.0 397.7,511.0 398.3,511.0 398.8,511.0 399.4,511.0 399.9,511.0 400.4,511.0 401.0,511.0 401.5,511.0 402.0,511.0 402.6,511.0 403.1,511.0 403.7,511.0 404.2,511.0 404.7,511.0 405.3,511.0 405.8,511.0 406.3,511.0 406.9,511.0 407.4,511.0 408.0,511.0 408.5,511.0 409.0,511.0 409.6,511.0 410.1,511.0 410.6,511.0 411.2,511.0 411.7,511.0 412.3,511.0 412.8,511.0 413.3,511.0 413.9,511.0 414.4,511.0 414.9,511.0 415.5,511.0 416.0,511.0 416.6,510.9 417.1,510.9 417.6,510.9 418.2,510.9 418.7,510.9 419.2,510.9 419.8,510.9 420.3,510.9 420.9,510.9 421.4,510.9 421.9,510.9 422.5,510.9 423.0,510.9 423.5,510.9 424.1,510.9 424.6,510.9 425.2,510.9 425.7,510.9 426.2,510.9 426.8,510.9 427.3,510.9 427.8,510.9 428.4,510.9 428.9,510.9 429.5,510.9 430.0,510.9 430.5,510.9 431.1,510.9 431.6,510.9 432.1,510.9 432.7,510.9 433.2,510.9 433.8,510.9 434.3,510.9 434.8,510.9 435.4,510.9 435.9,510.9 436.4,510.9 437.0,510.9 437.5,510.9 438.1,510.9 438.6,510.9 439.1,510.9 439.7,510.9 440.2,510.9 440.7,510.9 441.3,510.9 441.8,510.9 442.4,510.9 442.9,510.9 443.4,510.9 444.0,510.9 444.5,510.9" fill="none" stroke="#b070c0" stroke-width="0.9" stroke-linejoin="round"/><path d="M294.0,516.7 294.5,516.7 295.1,516.7 295.6,516.7 296.2,516.7 296.7,516.7 297.2,516.7 297.8,516.7 298.3,516.7 298.8,516.7 299.4,516.7 299.9,516.7 300.5,516.7 301.0,516.7 301.5,516.7 302.1,516.7 302.6,516.7 303.1,516.7 303.7,516.7 304.2,516.7 304.8,516.7 305.3,516.7 305.8,516.7 306.4,516.7 306.9,516.7 307.4,516.7 308.0,516.7 308.5,516.7 309.1,516.7 309.6,516.7 310.1,516.7 310.7,516.7 311.2,516.7 311.7,516.7 312.3,516.7 312.8,516.6 313.4,516.6 313.9,516.6 314.4,516.6 315.0,516.6 315.5,516.6 316.0,516.6 316.6,516.6 317.1,516.6 317.7,516.6 318.2,516.6 318.7,516.6 319.3,516.6 319.8,516.6 320.3,516.6 320.9,516.6 321.4,516.6 322.0,516.6 322.5,516.6 323.0,516.6 323.6,516.6 324.1,516.6 324.6,516.5 325.2,516.5 325.7,516.5 326.3,516.5 326.8,516.5 327.3,516.5 327.9,516.5 328.4,516.5 328.9,516.4 329.5,516.4 330.0,516.4 330.6,516.3 331.1,516.3 331.6,516.3 332.2,516.2 332.7,516.2 333.2,516.1 333.8,516.0 334.3,515.9 334.9,515.8 335.4,515.7 335.9,515.6 336.5,515.5 337.0,515.4 337.5,515.2 338.1,515.1 338.6,514.9 339.2,514.7 339.7,514.5 340.2,514.4 340.8,514.2 341.3,514.0 341.8,513.8 342.4,513.6 342.9,513.4 343.5,513.2 344.0,513.0 344.5,512.9 345.1,512.7 345.6,512.5 346.1,512.3 346.7,512.2 347.2,512.0 347.8,511.9 348.3,511.7 348.8,511.5 349.4,511.4 349.9,511.2 350.4,511.1 351.0,510.9 351.5,510.8 352.1,510.6 352.6,510.4 353.1,510.3 353.7,510.1 354.2,509.9 354.7,509.8 355.3,509.6 355.8,509.4 356.4,509.3 356.9,509.1 357.4,509.0 358.0,508.8 358.5,508.7 359.0,508.5 359.6,508.4 360.1,508.3 360.7,508.2 361.2,508.1 361.7,508.0 362.3,507.9 362.8,507.9 363.3,507.8 363.9,507.8 364.4,507.8 365.0,507.8 365.5,507.9 366.0,507.9 366.6,508.0 367.1,508.0 367.6,508.1 368.2,508.2 368.7,508.3 369.3,508.4 369.8,508.5 370.3,508.7 370.9,508.8 371.4,508.9 371.9,509.1 372.5,509.2 373.0,509.3 373.6,509.4 374.1,509.6 374.6,509.7 375.2,509.8 375.7,509.9 376.2,510.0 376.8,510.1 377.3,510.2 377.9,510.3 378.4,510.4 378.9,510.4 379.5,510.5 380.0,510.6 380.5,510.6 381.1,510.7 381.6,510.7 382.2,510.8 382.7,510.8 383.2,510.8 383.8,510.9 384.3,510.9 384.8,510.9 385.4,510.9 385.9,510.9 386.5,510.9 387.0,511.0 387.5,511.0 388.1,511.0 388.6,511.0 389.1,511.0 389.7,511.0 390.2,511.0 390.8,511.0 391.3,511.0 391.8,511.0 392.4,511.0 392.9,511.0 393.4,511.0 394.0,511.0 394.5,511.0 395.1,511.0 395.6,511.0 396.1,511.0 396.7,511.0 397.2,511.0 397.7,511.0 398.3,511.0 398.8,511.0 399.4,511.0 399.9,511.0 400.4,511.0 401.0,511.0 401.5,511.0 402.0,511.0 402.6,511.0 403.1,511.0 403.7,511.0 404.2,511.0 404.7,511.0 405.3,511.0 405.8,511.0 406.3,511.0 406.9,511.0 407.4,511.0 408.0,511.0 408.5,511.0 409.0,511.0 409.6,511.0 410.1,511.0 410.6,511.0 411.2,511.0 411.7,511.0 412.3,511.0 412.8,511.0 413.3,511.0 413.9,511.0 414.4,511.0 414.9,511.0 415.5,511.0 416.0,511.0 416.6,511.0 417.1,511.0 417.6,511.0 418.2,511.0 418.7,511.0 419.2,510.9 419.8,510.9 420.3,510.9 420.9,510.9 421.4,510.9 421.9,510.9 422.5,510.9 423.0,510.9 423.5,510.9 424.1,510.9 424.6,510.9 425.2,510.9 425.7,510.9 426.2,510.9 426.8,510.9 427.3,510.9 427.8,510.9 428.4,510.9 428.9,510.9 429.5,510.9 430.0,510.9 430.5,510.9 431.1,510.9 431.6,510.9 432.1,510.9 432.7,510.9 433.2,510.9 433.8,510.9 434.3,510.9 434.8,510.9 435.4,510.9 435.9,510.9 436.4,510.9 437.0,510.9 437.5,510.9 438.1,510.9 438.6,510.9 439.1,510.9 439.7,510.9 440.2,510.9 440.7,510.9 441.3,510.9 441.8,510.9 442.4,510.9 442.9,510.9 443.4,510.9 444.0,510.9 444.5,510.9" fill="none" stroke="#c0a040" stroke-width="0.9" stroke-linejoin="round"/><path d="M294.0,516.7 294.5,516.7 295.1,516.7 295.6,516.7 296.2,516.7 296.7,516.7 297.2,516.7 297.8,516.7 298.3,516.7 298.8,516.7 299.4,516.7 299.9,516.7 300.5,516.7 301.0,516.7 301.5,516.7 302.1,516.7 302.6,516.7 303.1,516.7 303.7,516.7 304.2,516.7 304.8,516.7 305.3,516.7 305.8,516.7 306.4,516.7 306.9,516.7 307.4,516.7 308.0,516.7 308.5,516.7 309.1,516.7 309.6,516.7 310.1,516.7 310.7,516.7 311.2,516.7 311.7,516.7 312.3,516.7 312.8,516.7 313.4,516.7 313.9,516.7 314.4,516.7 315.0,516.6 315.5,516.6 316.0,516.6 316.6,516.6 317.1,516.6 317.7,516.6 318.2,516.6 318.7,516.6 319.3,516.6 319.8,516.6 320.3,516.6 320.9,516.6 321.4,516.6 322.0,516.6 322.5,516.6 323.0,516.6 323.6,516.6 324.1,516.6 324.6,516.6 325.2,516.6 325.7,516.5 326.3,516.5 326.8,516.5 327.3,516.5 327.9,516.5 328.4,516.5 328.9,516.5 329.5,516.4 330.0,516.4 330.6,516.4 331.1,516.3 331.6,516.3 332.2,516.2 332.7,516.2 333.2,516.1 333.8,516.0 334.3,516.0 334.9,515.9 335.4,515.8 335.9,515.7 336.5,515.5 337.0,515.4 337.5,515.3 338.1,515.1 338.6,515.0 339.2,514.8 339.7,514.6 340.2,514.4 340.8,514.3 341.3,514.1 341.8,513.9 342.4,513.7 342.9,513.6 343.5,513.4 344.0,513.2 344.5,513.1 345.1,512.9 345.6,512.8 346.1,512.7 346.7,512.6 347.2,512.5 347.8,512.4 348.3,512.3 348.8,512.2 349.4,512.1 349.9,512.0 350.4,512.0 351.0,511.9 351.5,511.8 352.1,511.8 352.6,511.7 353.1,511.7 353.7,511.6 354.2,511.6 354.7,511.6 355.3,511.5 355.8,511.5 356.4,511.5 356.9,511.4 357.4,511.4 358.0,511.4 358.5,511.4 359.0,511.4 359.6,511.3 360.1,511.3 360.7,511.3 361.2,511.3 361.7,511.3 362.3,511.3 362.8,511.3 363.3,511.3 363.9,511.2 364.4,511.2 365.0,511.2 365.5,511.2 366.0,511.2 366.6,511.2 367.1,511.2 367.6,511.2 368.2,511.2 368.7,511.2 369.3,511.2 369.8,511.1 370.3,511.1 370.9,511.1 371.4,511.1 371.9,511.1 372.5,511.1 373.0,511.1 373.6,511.1 374.1,511.1 374.6,511.1 375.2,511.1 375.7,511.1 376.2,511.1 376.8,511.1 377.3,511.1 377.9,511.1 378.4,511.1 378.9,511.1 379.5,511.1 380.0,511.1 380.5,511.1 381.1,511.0 381.6,511.0 382.2,511.0 382.7,511.0 383.2,511.0 383.8,511.0 384.3,511.0 384.8,511.0 385.4,511.0 385.9,511.0 386.5,511.0 387.0,511.0 387.5,511.0 388.1,510.9 388.6,510.9 389.1,510.9 389.7,510.9 390.2,510.9 390.8,510.9 391.3,510.8 391.8,510.8 392.4,510.8 392.9,510.8 393.4,510.7 394.0,510.7 394.5,510.7 395.1,510.7 395.6,510.6 396.1,510.6 396.7,510.6 397.2,510.5 397.7,510.5 398.3,510.4 398.8,510.4 399.4,510.4 399.9,510.3 400.4,510.3 401.0,510.3 401.5,510.2 402.0,510.2 402.6,510.2 403.1,510.1 403.7,510.1 404.2,510.1 404.7,510.0 405.3,510.0 405.8,510.0 406.3,510.0 406.9,510.0 407.4,510.0 408.0,510.0 408.5,510.0 409.0,510.0 409.6,510.0 410.1,510.0 410.6,510.0 411.2,510.0 411.7,510.0 412.3,510.1 412.8,510.1 413.3,510.1 413.9,510.1 414.4,510.2 414.9,510.2 415.5,510.2 416.0,510.3 416.6,510.3 417.1,510.3 417.6,510.4 418.2,510.4 418.7,510.4 419.2,510.5 419.8,510.5 420.3,510.5 420.9,510.6 421.4,510.6 421.9,510.6 422.5,510.7 423.0,510.7 423.5,510.7 424.1,510.7 424.6,510.7 425.2,510.8 425.7,510.8 426.2,510.8 426.8,510.8 427.3,510.8 427.8,510.8 428.4,510.8 428.9,510.9 429.5,510.9 430.0,510.9 430.5,510.9 431.1,510.9 431.6,510.9 432.1,510.9 432.7,510.9 433.2,510.9 433.8,510.9 434.3,510.9 434.8,510.9 435.4,510.9 435.9,510.9 436.4,510.9 437.0,510.9 437.5,510.9 438.1,510.9 438.6,510.9 439.1,510.9 439.7,510.9 440.2,510.9 440.7,510.9 441.3,510.9 441.8,510.9 442.4,510.9 442.9,510.9 443.4,510.9 444.0,510.9 444.5,510.9" fill="none" stroke="#30c0c0" stroke-width="0.9" stroke-linejoin="round"/><path d="M294.0,516.7 294.5,516.7 295.1,516.7 295.6,516.7 296.2,516.7 296.7,516.7 297.2,516.7 297.8,516.7 298.3,516.7 298.8,516.7 299.4,516.7 299.9,516.7 300.5,516.7 301.0,516.7 301.5,516.7 302.1,516.7 302.6,516.7 303.1,516.7 303.7,516.7 304.2,516.7 304.8,516.7 305.3,516.7 305.8,516.7 306.4,516.7 306.9,516.7 307.4,516.7 308.0,516.7 308.5,516.7 309.1,516.7 309.6,516.7 310.1,516.7 310.7,516.7 311.2,516.7 311.7,516.7 312.3,516.7 312.8,516.7 313.4,516.7 313.9,516.7 314.4,516.7 315.0,516.6 315.5,516.6 316.0,516.6 316.6,516.6 317.1,516.6 317.7,516.6 318.2,516.6 318.7,516.6 319.3,516.6 319.8,516.6 320.3,516.6 320.9,516.6 321.4,516.6 322.0,516.6 322.5,516.6 323.0,516.6 323.6,516.6 324.1,516.6 324.6,516.6 325.2,516.6 325.7,516.5 326.3,516.5 326.8,516.5 327.3,516.5 327.9,516.5 328.4,516.5 328.9,516.5 329.5,516.4 330.0,516.4 330.6,516.4 331.1,516.3 331.6,516.3 332.2,516.2 332.7,516.2 333.2,516.1 333.8,516.0 334.3,516.0 334.9,515.9 335.4,515.8 335.9,515.7 336.5,515.5 337.0,515.4 337.5,515.3 338.1,515.1 338.6,515.0 339.2,514.8 339.7,514.6 340.2,514.4 340.8,514.3 341.3,514.1 341.8,513.9 342.4,513.7 342.9,513.6 343.5,513.4 344.0,513.2 344.5,513.1 345.1,513.0 345.6,512.8 346.1,512.7 346.7,512.6 347.2,512.5 347.8,512.4 348.3,512.3 348.8,512.2 349.4,512.1 349.9,512.0 350.4,512.0 351.0,511.9 351.5,511.8 352.1,511.8 352.6,511.7 353.1,511.7 353.7,511.6 354.2,511.6 354.7,511.6 355.3,511.5 355.8,511.5 356.4,511.5 356.9,511.5 357.4,511.4 358.0,511.4 358.5,511.4 359.0,511.4 359.6,511.4 360.1,511.3 360.7,511.3 361.2,511.3 361.7,511.3 362.3,511.3 362.8,511.3 363.3,511.3 363.9,511.2 364.4,511.2 365.0,511.2 365.5,511.2 366.0,511.2 366.6,511.2 367.1,511.2 367.6,511.2 368.2,511.2 368.7,511.2 369.3,511.2 369.8,511.2 370.3,511.1 370.9,511.1 371.4,511.1 371.9,511.1 372.5,511.1 373.0,511.1 373.6,511.1 374.1,511.1 374.6,511.1 375.2,511.1 375.7,511.1 376.2,511.1 376.8,511.1 377.3,511.1 377.9,511.1 378.4,511.1 378.9,511.1 379.5,511.1 380.0,511.1 380.5,511.1 381.1,511.1 381.6,511.1 382.2,511.1 382.7,511.1 383.2,511.1 383.8,511.1 384.3,511.1 384.8,511.1 385.4,511.1 385.9,511.1 386.5,511.1 387.0,511.1 387.5,511.1 388.1,511.1 388.6,511.1 389.1,511.1 389.7,511.1 390.2,511.1 390.8,511.0 391.3,511.0 391.8,511.0 392.4,511.0 392.9,511.0 393.4,511.0 394.0,511.0 394.5,511.0 395.1,511.0 395.6,511.0 396.1,511.0 396.7,511.0 397.2,511.0 397.7,511.0 398.3,511.0 398.8,511.0 399.4,511.0 399.9,511.0 400.4,511.0 401.0,511.0 401.5,511.0 402.0,511.0 402.6,511.0 403.1,511.0 403.7,511.0 404.2,511.0 404.7,511.0 405.3,511.0 405.8,511.0 406.3,511.0 406.9,511.0 407.4,511.0 408.0,511.0 408.5,511.0 409.0,511.0 409.6,511.0 410.1,511.0 410.6,511.0 411.2,511.0 411.7,511.0 412.3,511.0 412.8,511.0 413.3,511.0 413.9,511.0 414.4,511.0 414.9,511.0 415.5,511.0 416.0,511.0 416.6,511.0 417.1,511.0 417.6,511.0 418.2,511.0 418.7,511.0 419.2,511.0 419.8,511.0 420.3,511.0 420.9,511.0 421.4,511.0 421.9,511.0 422.5,511.0 423.0,511.0 423.5,511.0 424.1,511.0 424.6,511.0 425.2,511.0 425.7,510.9 426.2,510.9 426.8,510.9 427.3,510.9 427.8,510.9 428.4,510.9 428.9,510.9 429.5,510.9 430.0,510.9 430.5,510.9 431.1,510.9 431.6,510.9 432.1,510.9 432.7,510.9 433.2,510.9 433.8,510.9 434.3,510.9 434.8,510.9 435.4,510.9 435.9,510.9 436.4,510.9 437.0,510.9 437.5,510.9 438.1,510.9 438.6,510.9 439.1,510.9 439.7,510.9 440.2,510.9 440.7,510.9 441.3,510.9 441.8,510.9 442.4,510.9 442.9,510.9 443.4,510.9 444.0,510.9 444.5,510.9" fill="none" stroke="#20b0b0" stroke-width="1.2"/></g>
<rect x="272.7" y="389.3" width="193.6" height="139.2" fill="none" stroke="#3c3c3c" stroke-width="1.1"/>
<path d="M272.50,528.50 V525.90 M283.25,528.50 V526.90 M294.00,528.50 V525.90 M304.75,528.50 V526.90 M315.50,528.50 V525.90 M326.25,528.50 V526.90 M337.00,528.50 V525.90 M347.75,528.50 V526.90 M358.50,528.50 V525.90 M369.25,528.50 V526.90 M380.00,528.50 V525.90 M390.75,528.50 V526.90 M401.50,528.50 V525.90 M412.25,528.50 V526.90 M423.00,528.50 V525.90 M433.75,528.50 V526.90 M444.50,528.50 V525.90 M455.25,528.50 V526.90 M466.00,528.50 V525.90 M272.70,520.60 H275.30 M272.70,504.21 H275.30 M272.70,487.82 H275.30 M272.70,471.43 H275.30 M272.70,455.04 H275.30 M272.70,438.65 H275.30 M272.70,422.26 H275.30 M272.70,405.87 H275.30 M272.70,389.48 H275.30 M272.70,512.40 H274.30 M272.70,496.02 H274.30 M272.70,479.62 H274.30 M272.70,463.24 H274.30 M272.70,446.85 H274.30 M272.70,430.46 H274.30 M272.70,414.06 H274.30 M272.70,397.68 H274.30" stroke="#3c3c3c" stroke-width="1.15" fill="none"/>
<text x="272.5" y="537.3" font-size="5.9" text-anchor="middle" fill="#222" stroke="#222" font-weight="normal" font-family="Liberation Sans" >278</text>
<text x="294" y="537.3" font-size="5.9" text-anchor="middle" fill="#222" stroke="#222" font-weight="normal" font-family="Liberation Sans" >280</text>
<text x="315.5" y="537.3" font-size="5.9" text-anchor="middle" fill="#222" stroke="#222" font-weight="normal" font-family="Liberation Sans" >282</text>
<text x="337" y="537.3" font-size="5.9" text-anchor="middle" fill="#222" stroke="#222" font-weight="normal" font-family="Liberation Sans" >284</text>
<text x="358.5" y="537.3" font-size="5.9" text-anchor="middle" fill="#222" stroke="#222" font-weight="normal" font-family="Liberation Sans" >286</text>
<text x="380" y="537.3" font-size="5.9" text-anchor="middle" fill="#222" stroke="#222" font-weight="normal" font-family="Liberation Sans" >288</text>
<text x="401.5" y="537.3" font-size="5.9" text-anchor="middle" fill="#222" stroke="#222" font-weight="normal" font-family="Liberation Sans" >290</text>
<text x="423" y="537.3" font-size="5.9" text-anchor="middle" fill="#222" stroke="#222" font-weight="normal" font-family="Liberation Sans" >292</text>
<text x="444.5" y="537.3" font-size="5.9" text-anchor="middle" fill="#222" stroke="#222" font-weight="normal" font-family="Liberation Sans" >294</text>
<text x="466" y="537.3" font-size="5.9" text-anchor="middle" fill="#222" stroke="#222" font-weight="normal" font-family="Liberation Sans" >296</text>
<text x="269.3" y="522.67" font-size="5.9" text-anchor="end" fill="#222" stroke="#222" font-weight="normal" font-family="Liberation Sans" >0.0</text>
<text x="269.3" y="506.28" font-size="5.9" text-anchor="end" fill="#222" stroke="#222" font-family="Liberation Sans">2.0x10<tspan font-size="3.66" dy="-2.48">3</tspan></text>
<text x="269.3" y="489.89" font-size="5.9" text-anchor="end" fill="#222" stroke="#222" font-family="Liberation Sans">4.0x10<tspan font-size="3.66" dy="-2.48">3</tspan></text>
<text x="269.3" y="473.5" font-size="5.9" text-anchor="end" fill="#222" stroke="#222" font-family="Liberation Sans">6.0x10<tspan font-size="3.66" dy="-2.48">3</tspan></text>
<text x="269.3" y="457.11" font-size="5.9" text-anchor="end" fill="#222" stroke="#222" font-family="Liberation Sans">8.0x10<tspan font-size="3.66" dy="-2.48">3</tspan></text>
<text x="269.3" y="440.72" font-size="5.9" text-anchor="end" fill="#222" stroke="#222" font-family="Liberation Sans">1.0x10<tspan font-size="3.66" dy="-2.48">4</tspan></text>
<text x="269.3" y="424.32" font-size="5.9" text-anchor="end" fill="#222" stroke="#222" font-family="Liberation Sans">1.2x10<tspan font-size="3.66" dy="-2.48">4</tspan></text>
<text x="269.3" y="407.94" font-size="5.9" text-anchor="end" fill="#222" stroke="#222" font-family="Liberation Sans">1.4x10<tspan font-size="3.66" dy="-2.48">4</tspan></text>
<text x="269.3" y="391.55" font-size="5.9" text-anchor="end" fill="#222" stroke="#222" font-family="Liberation Sans">1.6x10<tspan font-size="3.66" dy="-2.48">4</tspan></text>
<text x="369.6" y="548" font-size="7.55" text-anchor="middle" fill="#222" stroke="#222" font-weight="normal" font-family="Liberation Sans" >Binding Energy, eV</text>
<text x="0" y="0" font-size="6.8" text-anchor="middle" fill="#222" stroke="#222" font-weight="normal" font-family="Liberation Sans" transform="translate(237.1,460.6) rotate(-90)">Intensity, Arb. units</text>
<text x="274.5" y="398.6" font-size="7.4" font-family="Liberation Sans" fill="#111" stroke="#111">sp<tspan font-size="4.44" dy="2.22">3</tspan><tspan dy="-2.22">/sp</tspan><tspan font-size="4.44" dy="2.22">2</tspan><tspan dy="-2.22">=0.17</tspan></text>
<text x="399.4" y="397.9" font-size="7.1" font-family="Liberation Sans" fill="#111" stroke="#111">C1s</text>
<text x="399.4" y="405.9" font-size="7.3" font-family="Liberation Sans" fill="#111" stroke="#111">HQ+H<tspan font-size="4.38" dy="2.19">2</tspan><tspan dy="-2.19">O</tspan><tspan font-size="4.38" dy="2.19">2</tspan><tspan dy="-2.19">, 355nm</tspan></text>
<text x="369.3" y="422.3" font-size="7.1" font-family="Liberation Sans" fill="#111" stroke="#111" font-weight="normal">Position (eV)</text>
<text x="419.2" y="422.3" font-size="7.1" font-family="Liberation Sans" fill="#111" stroke="#111" font-weight="normal">Area&#160;&#160;(%)</text>
<text x="408.7" y="430" font-size="7" font-family="Liberation Sans" fill="#2a8a48" stroke="#2a8a48" text-anchor="end" font-weight="normal">284.3</text>
<text x="441.2" y="430" font-size="7" font-family="Liberation Sans" fill="#2a8a48" stroke="#2a8a48" text-anchor="end" font-weight="normal">81.2</text>
<text x="408.7" y="437.9" font-size="7" font-family="Liberation Sans" fill="#7a3aa0" stroke="#7a3aa0" text-anchor="end" font-weight="normal">285.3</text>
<text x="441.2" y="437.9" font-size="7" font-family="Liberation Sans" fill="#7a3aa0" stroke="#7a3aa0" text-anchor="end" font-weight="normal">13.8</text>
<text x="408.7" y="445.8" font-size="7" font-family="Liberation Sans" fill="#a08050" stroke="#a08050" text-anchor="end" font-weight="normal">286.5</text>
<text x="441.2" y="445.8" font-size="7" font-family="Liberation Sans" fill="#a08050" stroke="#a08050" text-anchor="end" font-weight="normal">3.3</text>
<text x="408.7" y="453.7" font-size="7" font-family="Liberation Sans" fill="#40d0e0" stroke="#40d0e0" text-anchor="end" font-weight="normal">290.6</text>
<text x="441.2" y="453.7" font-size="7" font-family="Liberation Sans" fill="#40d0e0" stroke="#40d0e0" text-anchor="end" font-weight="normal">1.6</text>
<rect x="353.6" y="462.5" width="3" height="3" fill="none" stroke="#444" stroke-width="0.85"/>
<text x="240.4" y="13.7" font-size="12.5" font-family="Liberation Serif" font-weight="bold" text-anchor="middle" fill="#111" stroke="#111">(a)</text>
<text x="240.1" y="201.1" font-size="12.5" font-family="Liberation Serif" font-weight="bold" text-anchor="middle" fill="#111" stroke="#111">(b)</text>
</svg>
</body></html>
